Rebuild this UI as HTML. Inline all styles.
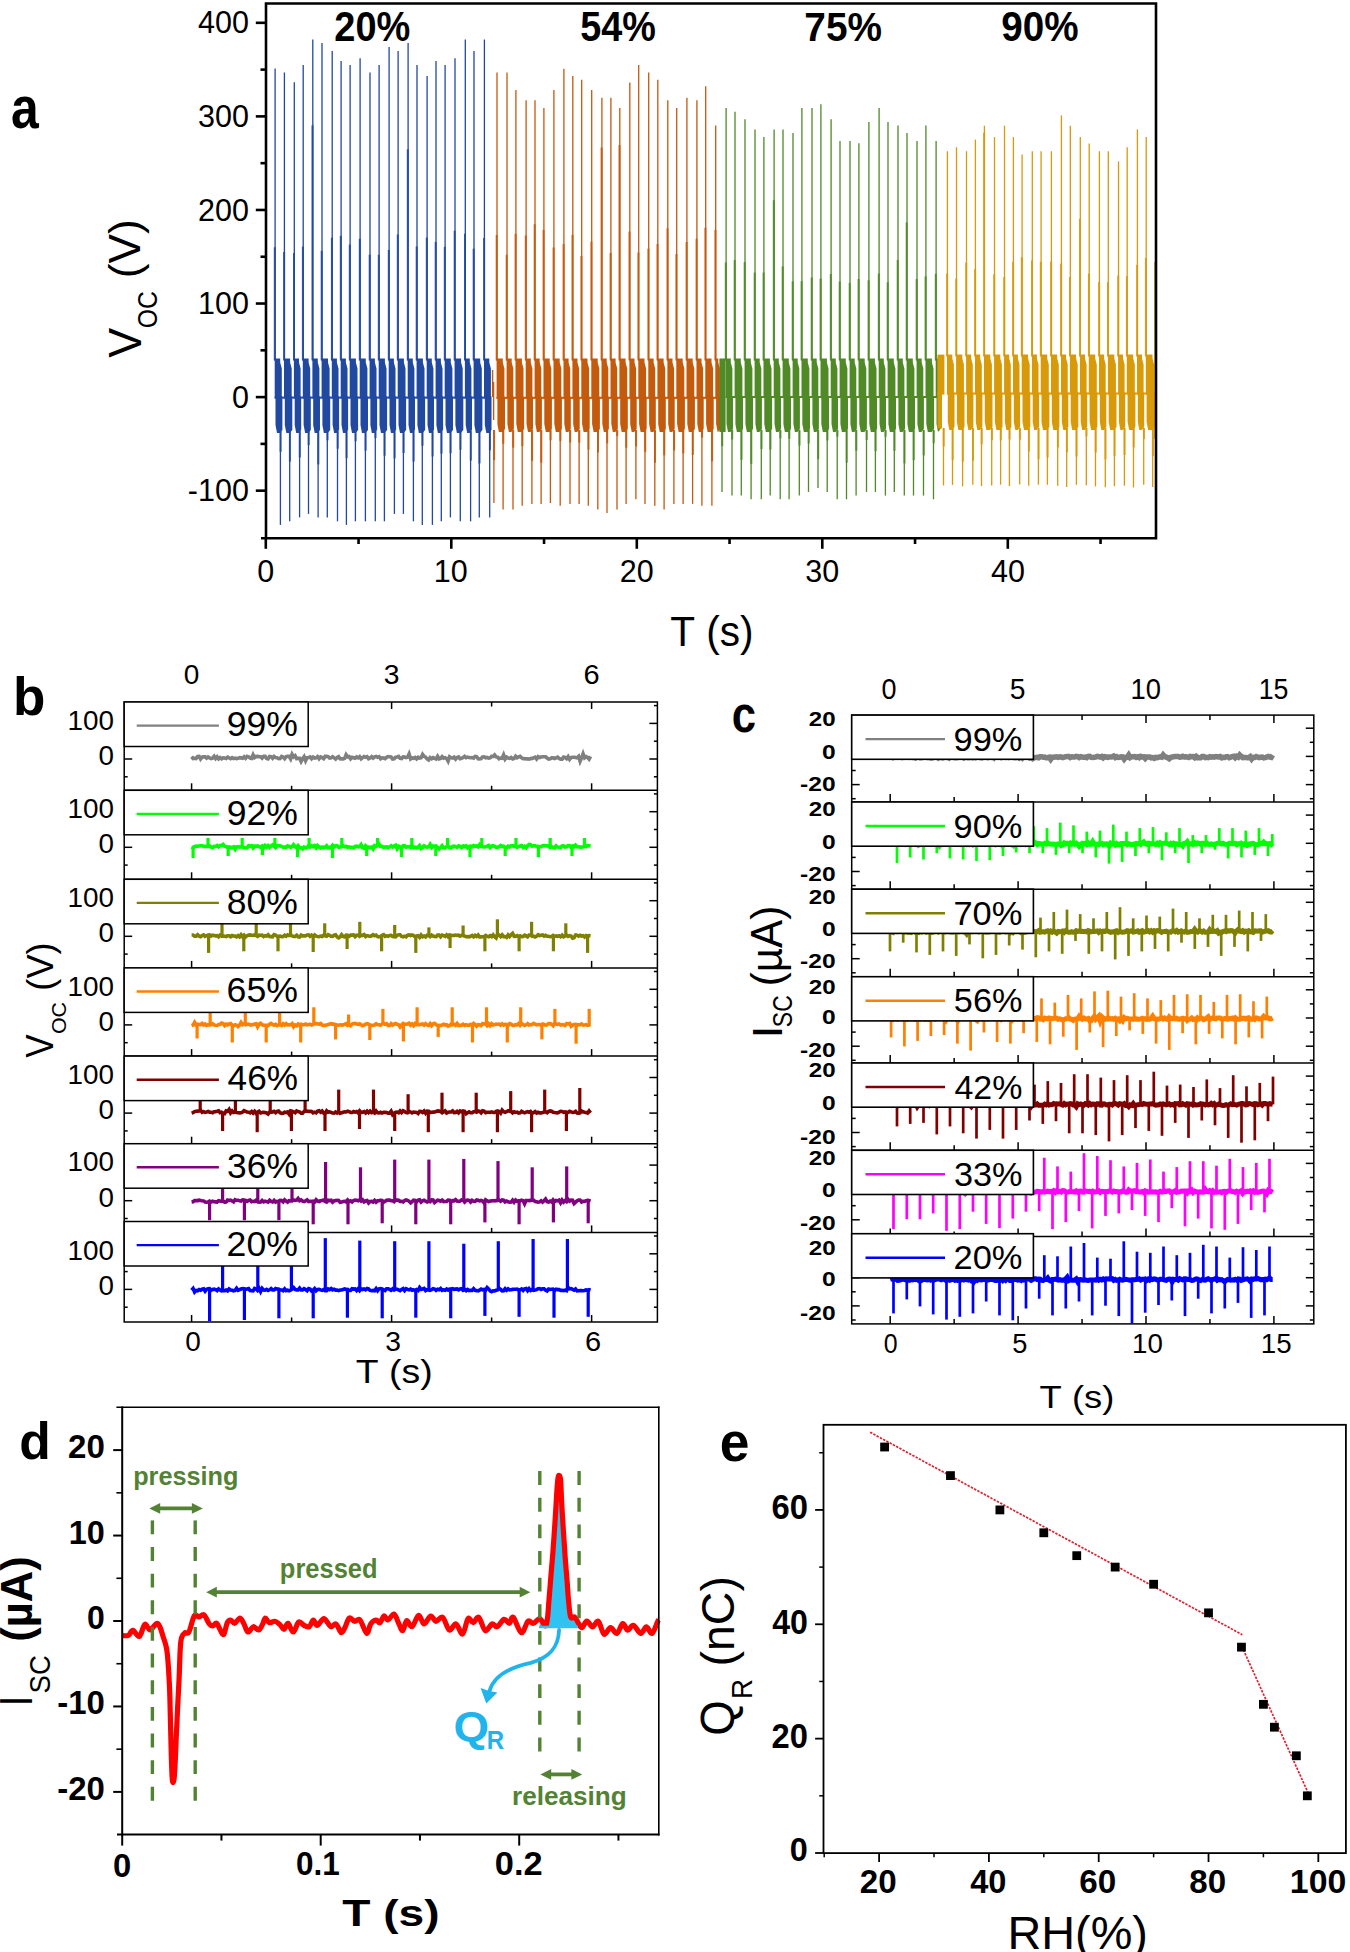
<!DOCTYPE html>
<html><head><meta charset="utf-8"><style>
html,body{margin:0;padding:0;background:#fff;}
body{width:1350px;height:1952px;overflow:hidden;}
svg{display:block;}
text{font-family:"Liberation Sans",sans-serif;font-kerning:none;}
</style></head><body>
<svg width="1350" height="1952" viewBox="0 0 1350 1952">
<rect width="1350" height="1952" fill="#fff"/>
<g fill="#2149a0">
<path d="M274.70 358.50 L280.20 358.50 L280.20 362.50 L281.80 368.50 L281.80 398.60 L274.70 398.60 Z"/>
<path d="M275.50 396.60 L282.40 396.60 L282.40 430.00 L279.90 433.00 L277.00 433.00 L275.50 425.00 Z"/>
<path d="M284.00 358.50 L290.10 358.50 L290.10 362.50 L291.70 368.50 L291.70 398.60 L284.00 398.60 Z"/>
<path d="M284.80 396.60 L292.30 396.60 L292.30 430.00 L289.80 433.00 L286.30 433.00 L284.80 425.00 Z"/>
<path d="M293.90 358.50 L299.00 358.50 L299.00 362.50 L300.60 368.50 L300.60 398.60 L293.90 398.60 Z"/>
<path d="M294.70 396.60 L301.20 396.60 L301.20 430.00 L298.70 433.00 L296.20 433.00 L294.70 425.00 Z"/>
<path d="M302.80 358.50 L308.60 358.50 L308.60 362.50 L310.20 368.50 L310.20 398.60 L302.80 398.60 Z"/>
<path d="M303.60 396.60 L310.80 396.60 L310.80 430.00 L308.30 433.00 L305.10 433.00 L303.60 425.00 Z"/>
<path d="M312.40 358.50 L317.80 358.50 L317.80 362.50 L319.40 368.50 L319.40 398.60 L312.40 398.60 Z"/>
<path d="M313.20 396.60 L320.00 396.60 L320.00 430.00 L317.50 433.00 L314.70 433.00 L313.20 425.00 Z"/>
<path d="M321.60 358.50 L328.00 358.50 L328.00 362.50 L329.60 368.50 L329.60 398.60 L321.60 398.60 Z"/>
<path d="M322.40 396.60 L330.20 396.60 L330.20 430.00 L327.70 433.00 L323.90 433.00 L322.40 425.00 Z"/>
<path d="M331.80 358.50 L336.90 358.50 L336.90 362.50 L338.50 368.50 L338.50 398.60 L331.80 398.60 Z"/>
<path d="M332.60 396.60 L339.10 396.60 L339.10 430.00 L336.60 433.00 L334.10 433.00 L332.60 425.00 Z"/>
<path d="M340.70 358.50 L345.90 358.50 L345.90 362.50 L347.50 368.50 L347.50 398.60 L340.70 398.60 Z"/>
<path d="M341.50 396.60 L348.10 396.60 L348.10 430.00 L345.60 433.00 L343.00 433.00 L341.50 425.00 Z"/>
<path d="M349.70 358.50 L355.90 358.50 L355.90 362.50 L357.50 368.50 L357.50 398.60 L349.70 398.60 Z"/>
<path d="M350.50 396.60 L358.10 396.60 L358.10 430.00 L355.60 433.00 L352.00 433.00 L350.50 425.00 Z"/>
<path d="M359.70 358.50 L365.80 358.50 L365.80 362.50 L367.40 368.50 L367.40 398.60 L359.70 398.60 Z"/>
<path d="M360.50 396.60 L368.00 396.60 L368.00 430.00 L365.50 433.00 L362.00 433.00 L360.50 425.00 Z"/>
<path d="M369.60 358.50 L374.90 358.50 L374.90 362.50 L376.50 368.50 L376.50 398.60 L369.60 398.60 Z"/>
<path d="M370.40 396.60 L377.10 396.60 L377.10 430.00 L374.60 433.00 L371.90 433.00 L370.40 425.00 Z"/>
<path d="M378.70 358.50 L384.90 358.50 L384.90 362.50 L386.50 368.50 L386.50 398.60 L378.70 398.60 Z"/>
<path d="M379.50 396.60 L387.10 396.60 L387.10 430.00 L384.60 433.00 L381.00 433.00 L379.50 425.00 Z"/>
<path d="M388.70 358.50 L393.90 358.50 L393.90 362.50 L395.50 368.50 L395.50 398.60 L388.70 398.60 Z"/>
<path d="M389.50 396.60 L396.10 396.60 L396.10 430.00 L393.60 433.00 L391.00 433.00 L389.50 425.00 Z"/>
<path d="M397.70 358.50 L403.90 358.50 L403.90 362.50 L405.50 368.50 L405.50 398.60 L397.70 398.60 Z"/>
<path d="M398.50 396.60 L406.10 396.60 L406.10 430.00 L403.60 433.00 L400.00 433.00 L398.50 425.00 Z"/>
<path d="M407.70 358.50 L412.80 358.50 L412.80 362.50 L414.40 368.50 L414.40 398.60 L407.70 398.60 Z"/>
<path d="M408.50 396.60 L415.00 396.60 L415.00 430.00 L412.50 433.00 L410.00 433.00 L408.50 425.00 Z"/>
<path d="M416.60 358.50 L422.90 358.50 L422.90 362.50 L424.50 368.50 L424.50 398.60 L416.60 398.60 Z"/>
<path d="M417.40 396.60 L425.10 396.60 L425.10 430.00 L422.60 433.00 L418.90 433.00 L417.40 425.00 Z"/>
<path d="M426.70 358.50 L431.80 358.50 L431.80 362.50 L433.40 368.50 L433.40 398.60 L426.70 398.60 Z"/>
<path d="M427.50 396.60 L434.00 396.60 L434.00 430.00 L431.50 433.00 L429.00 433.00 L427.50 425.00 Z"/>
<path d="M435.60 358.50 L440.90 358.50 L440.90 362.50 L442.50 368.50 L442.50 398.60 L435.60 398.60 Z"/>
<path d="M436.40 396.60 L443.10 396.60 L443.10 430.00 L440.60 433.00 L437.90 433.00 L436.40 425.00 Z"/>
<path d="M444.70 358.50 L450.80 358.50 L450.80 362.50 L452.40 368.50 L452.40 398.60 L444.70 398.60 Z"/>
<path d="M445.50 396.60 L453.00 396.60 L453.00 430.00 L450.50 433.00 L447.00 433.00 L445.50 425.00 Z"/>
<path d="M454.60 358.50 L461.10 358.50 L461.10 362.50 L462.70 368.50 L462.70 398.60 L454.60 398.60 Z"/>
<path d="M455.40 396.60 L463.30 396.60 L463.30 430.00 L460.80 433.00 L456.90 433.00 L455.40 425.00 Z"/>
<path d="M464.90 358.50 L469.80 358.50 L469.80 362.50 L471.40 368.50 L471.40 398.60 L464.90 398.60 Z"/>
<path d="M465.70 396.60 L472.00 396.60 L472.00 430.00 L469.50 433.00 L467.20 433.00 L465.70 425.00 Z"/>
<path d="M473.60 358.50 L480.20 358.50 L480.20 362.50 L481.80 368.50 L481.80 398.60 L473.60 398.60 Z"/>
<path d="M474.40 396.60 L482.40 396.60 L482.40 430.00 L479.90 433.00 L475.90 433.00 L474.40 425.00 Z"/>
<path d="M484.00 358.50 L489.30 358.50 L489.30 362.50 L490.90 368.50 L490.90 398.60 L484.00 398.60 Z"/>
<path d="M484.80 396.60 L491.50 396.60 L491.50 430.00 L489.00 433.00 L486.30 433.00 L484.80 425.00 Z"/>
<rect x="274.60" y="396.60" width="215.90" height="2"/>
</g>
<g stroke="#2149a0" stroke-width="1.3">
<line x1="275.10" y1="68.40" x2="275.10" y2="360.50"/>
<line x1="284.40" y1="72.40" x2="284.40" y2="360.50"/>
<line x1="294.30" y1="82.30" x2="294.30" y2="360.50"/>
<line x1="303.20" y1="64.90" x2="303.20" y2="360.50"/>
<line x1="312.80" y1="39.50" x2="312.80" y2="360.50"/>
<line x1="322.00" y1="43.00" x2="322.00" y2="360.50"/>
<line x1="332.20" y1="51.00" x2="332.20" y2="360.50"/>
<line x1="341.10" y1="61.00" x2="341.10" y2="360.50"/>
<line x1="350.10" y1="64.90" x2="350.10" y2="360.50"/>
<line x1="360.10" y1="58.30" x2="360.10" y2="360.50"/>
<line x1="370.00" y1="72.40" x2="370.00" y2="360.50"/>
<line x1="379.10" y1="64.90" x2="379.10" y2="360.50"/>
<line x1="389.10" y1="47.10" x2="389.10" y2="360.50"/>
<line x1="398.10" y1="51.00" x2="398.10" y2="360.50"/>
<line x1="408.10" y1="43.00" x2="408.10" y2="360.50"/>
<line x1="417.00" y1="64.90" x2="417.00" y2="360.50"/>
<line x1="427.10" y1="76.10" x2="427.10" y2="360.50"/>
<line x1="436.00" y1="61.00" x2="436.00" y2="360.50"/>
<line x1="445.10" y1="64.90" x2="445.10" y2="360.50"/>
<line x1="455.00" y1="58.30" x2="455.00" y2="360.50"/>
<line x1="465.30" y1="39.50" x2="465.30" y2="360.50"/>
<line x1="474.00" y1="51.00" x2="474.00" y2="360.50"/>
<line x1="484.40" y1="39.50" x2="484.40" y2="360.50"/>
<line x1="280.40" y1="431.00" x2="280.40" y2="524.90"/>
<line x1="289.70" y1="431.00" x2="289.70" y2="521.30"/>
<line x1="299.60" y1="431.00" x2="299.60" y2="517.40"/>
<line x1="308.50" y1="431.00" x2="308.50" y2="513.90"/>
<line x1="318.10" y1="431.00" x2="318.10" y2="517.40"/>
<line x1="327.30" y1="431.00" x2="327.30" y2="517.40"/>
<line x1="337.50" y1="431.00" x2="337.50" y2="521.30"/>
<line x1="346.40" y1="431.00" x2="346.40" y2="524.90"/>
<line x1="355.40" y1="431.00" x2="355.40" y2="521.30"/>
<line x1="365.40" y1="431.00" x2="365.40" y2="521.30"/>
<line x1="375.30" y1="431.00" x2="375.30" y2="521.30"/>
<line x1="384.40" y1="431.00" x2="384.40" y2="521.30"/>
<line x1="394.40" y1="431.00" x2="394.40" y2="513.90"/>
<line x1="403.40" y1="431.00" x2="403.40" y2="513.90"/>
<line x1="413.40" y1="431.00" x2="413.40" y2="521.30"/>
<line x1="422.30" y1="431.00" x2="422.30" y2="524.90"/>
<line x1="432.40" y1="431.00" x2="432.40" y2="524.90"/>
<line x1="441.30" y1="431.00" x2="441.30" y2="521.30"/>
<line x1="450.40" y1="431.00" x2="450.40" y2="517.40"/>
<line x1="460.30" y1="431.00" x2="460.30" y2="521.30"/>
<line x1="470.60" y1="431.00" x2="470.60" y2="521.30"/>
<line x1="479.30" y1="431.00" x2="479.30" y2="517.40"/>
<line x1="489.70" y1="431.00" x2="489.70" y2="517.40"/>
</g>
<g stroke="#2149a0" stroke-width="2.0" opacity="0.9">
<line x1="274.80" y1="247.26" x2="274.80" y2="360.50"/>
<line x1="284.10" y1="252.02" x2="284.10" y2="360.50"/>
<line x1="294.00" y1="252.89" x2="294.00" y2="360.50"/>
<line x1="302.90" y1="246.64" x2="302.90" y2="360.50"/>
<line x1="312.50" y1="125.30" x2="312.50" y2="360.50"/>
<line x1="321.70" y1="250.83" x2="321.70" y2="360.50"/>
<line x1="331.90" y1="237.70" x2="331.90" y2="360.50"/>
<line x1="340.80" y1="235.82" x2="340.80" y2="360.50"/>
<line x1="349.80" y1="244.55" x2="349.80" y2="360.50"/>
<line x1="359.80" y1="238.81" x2="359.80" y2="360.50"/>
<line x1="369.70" y1="254.69" x2="369.70" y2="360.50"/>
<line x1="378.80" y1="254.79" x2="378.80" y2="360.50"/>
<line x1="388.80" y1="250.00" x2="388.80" y2="360.50"/>
<line x1="397.80" y1="234.46" x2="397.80" y2="360.50"/>
<line x1="407.80" y1="149.30" x2="407.80" y2="360.50"/>
<line x1="416.70" y1="246.46" x2="416.70" y2="360.50"/>
<line x1="426.80" y1="237.57" x2="426.80" y2="360.50"/>
<line x1="435.70" y1="241.90" x2="435.70" y2="360.50"/>
<line x1="444.80" y1="246.93" x2="444.80" y2="360.50"/>
<line x1="454.70" y1="230.73" x2="454.70" y2="360.50"/>
<line x1="465.00" y1="233.85" x2="465.00" y2="360.50"/>
<line x1="473.70" y1="248.75" x2="473.70" y2="360.50"/>
<line x1="484.10" y1="237.93" x2="484.10" y2="360.50"/>
<line x1="280.60" y1="431.00" x2="280.60" y2="451.71"/>
<line x1="289.90" y1="431.00" x2="289.90" y2="461.50"/>
<line x1="299.80" y1="431.00" x2="299.80" y2="457.42"/>
<line x1="308.70" y1="431.00" x2="308.70" y2="445.06"/>
<line x1="318.30" y1="431.00" x2="318.30" y2="464.44"/>
<line x1="327.50" y1="431.00" x2="327.50" y2="440.31"/>
<line x1="337.70" y1="431.00" x2="337.70" y2="448.71"/>
<line x1="346.60" y1="431.00" x2="346.60" y2="458.20"/>
<line x1="355.60" y1="431.00" x2="355.60" y2="441.26"/>
<line x1="365.60" y1="431.00" x2="365.60" y2="450.69"/>
<line x1="375.50" y1="431.00" x2="375.50" y2="438.10"/>
<line x1="384.60" y1="431.00" x2="384.60" y2="455.71"/>
<line x1="394.60" y1="431.00" x2="394.60" y2="458.41"/>
<line x1="403.60" y1="431.00" x2="403.60" y2="453.04"/>
<line x1="413.60" y1="431.00" x2="413.60" y2="461.51"/>
<line x1="422.50" y1="431.00" x2="422.50" y2="445.78"/>
<line x1="432.60" y1="431.00" x2="432.60" y2="456.47"/>
<line x1="441.50" y1="431.00" x2="441.50" y2="453.64"/>
<line x1="450.60" y1="431.00" x2="450.60" y2="453.24"/>
<line x1="460.50" y1="431.00" x2="460.50" y2="449.77"/>
<line x1="470.80" y1="431.00" x2="470.80" y2="460.52"/>
<line x1="479.50" y1="431.00" x2="479.50" y2="463.45"/>
<line x1="489.90" y1="431.00" x2="489.90" y2="450.27"/>
</g>
<g fill="#c45a0c">
<path d="M496.60 358.50 L502.80 358.50 L502.80 362.50 L504.40 368.50 L504.40 398.80 L496.60 398.80 Z"/>
<path d="M497.40 396.80 L505.00 396.80 L505.00 429.00 L502.50 432.00 L498.90 432.00 L497.40 424.00 Z"/>
<path d="M506.60 358.50 L511.70 358.50 L511.70 362.50 L513.30 368.50 L513.30 398.80 L506.60 398.80 Z"/>
<path d="M507.40 396.80 L513.90 396.80 L513.90 429.00 L511.40 432.00 L508.90 432.00 L507.40 424.00 Z"/>
<path d="M515.50 358.50 L521.90 358.50 L521.90 362.50 L523.50 368.50 L523.50 398.80 L515.50 398.80 Z"/>
<path d="M516.30 396.80 L524.10 396.80 L524.10 429.00 L521.60 432.00 L517.80 432.00 L516.30 424.00 Z"/>
<path d="M525.70 358.50 L530.80 358.50 L530.80 362.50 L532.40 368.50 L532.40 398.80 L525.70 398.80 Z"/>
<path d="M526.50 396.80 L533.00 396.80 L533.00 429.00 L530.50 432.00 L528.00 432.00 L526.50 424.00 Z"/>
<path d="M534.60 358.50 L539.70 358.50 L539.70 362.50 L541.30 368.50 L541.30 398.80 L534.60 398.80 Z"/>
<path d="M535.40 396.80 L541.90 396.80 L541.90 429.00 L539.40 432.00 L536.90 432.00 L535.40 424.00 Z"/>
<path d="M543.50 358.50 L549.70 358.50 L549.70 362.50 L551.30 368.50 L551.30 398.80 L543.50 398.80 Z"/>
<path d="M544.30 396.80 L551.90 396.80 L551.90 429.00 L549.40 432.00 L545.80 432.00 L544.30 424.00 Z"/>
<path d="M553.50 358.50 L559.70 358.50 L559.70 362.50 L561.30 368.50 L561.30 398.80 L553.50 398.80 Z"/>
<path d="M554.30 396.80 L561.90 396.80 L561.90 429.00 L559.40 432.00 L555.80 432.00 L554.30 424.00 Z"/>
<path d="M563.50 358.50 L568.60 358.50 L568.60 362.50 L570.20 368.50 L570.20 398.80 L563.50 398.80 Z"/>
<path d="M564.30 396.80 L570.80 396.80 L570.80 429.00 L568.30 432.00 L565.80 432.00 L564.30 424.00 Z"/>
<path d="M572.40 358.50 L577.50 358.50 L577.50 362.50 L579.10 368.50 L579.10 398.80 L572.40 398.80 Z"/>
<path d="M573.20 396.80 L579.70 396.80 L579.70 429.00 L577.20 432.00 L574.70 432.00 L573.20 424.00 Z"/>
<path d="M581.30 358.50 L587.50 358.50 L587.50 362.50 L589.10 368.50 L589.10 398.80 L581.30 398.80 Z"/>
<path d="M582.10 396.80 L589.70 396.80 L589.70 429.00 L587.20 432.00 L583.60 432.00 L582.10 424.00 Z"/>
<path d="M591.30 358.50 L597.70 358.50 L597.70 362.50 L599.30 368.50 L599.30 398.80 L591.30 398.80 Z"/>
<path d="M592.10 396.80 L599.90 396.80 L599.90 429.00 L597.40 432.00 L593.60 432.00 L592.10 424.00 Z"/>
<path d="M601.50 358.50 L606.70 358.50 L606.70 362.50 L608.30 368.50 L608.30 398.80 L601.50 398.80 Z"/>
<path d="M602.30 396.80 L608.90 396.80 L608.90 429.00 L606.40 432.00 L603.80 432.00 L602.30 424.00 Z"/>
<path d="M610.50 358.50 L615.60 358.50 L615.60 362.50 L617.20 368.50 L617.20 398.80 L610.50 398.80 Z"/>
<path d="M611.30 396.80 L617.80 396.80 L617.80 429.00 L615.30 432.00 L612.80 432.00 L611.30 424.00 Z"/>
<path d="M619.40 358.50 L625.60 358.50 L625.60 362.50 L627.20 368.50 L627.20 398.80 L619.40 398.80 Z"/>
<path d="M620.20 396.80 L627.80 396.80 L627.80 429.00 L625.30 432.00 L621.70 432.00 L620.20 424.00 Z"/>
<path d="M629.40 358.50 L634.50 358.50 L634.50 362.50 L636.10 368.50 L636.10 398.80 L629.40 398.80 Z"/>
<path d="M630.20 396.80 L636.70 396.80 L636.70 429.00 L634.20 432.00 L631.70 432.00 L630.20 424.00 Z"/>
<path d="M638.30 358.50 L644.50 358.50 L644.50 362.50 L646.10 368.50 L646.10 398.80 L638.30 398.80 Z"/>
<path d="M639.10 396.80 L646.70 396.80 L646.70 429.00 L644.20 432.00 L640.60 432.00 L639.10 424.00 Z"/>
<path d="M648.30 358.50 L653.60 358.50 L653.60 362.50 L655.20 368.50 L655.20 398.80 L648.30 398.80 Z"/>
<path d="M649.10 396.80 L655.80 396.80 L655.80 429.00 L653.30 432.00 L650.60 432.00 L649.10 424.00 Z"/>
<path d="M657.40 358.50 L663.60 358.50 L663.60 362.50 L665.20 368.50 L665.20 398.80 L657.40 398.80 Z"/>
<path d="M658.20 396.80 L665.80 396.80 L665.80 429.00 L663.30 432.00 L659.70 432.00 L658.20 424.00 Z"/>
<path d="M667.40 358.50 L672.50 358.50 L672.50 362.50 L674.10 368.50 L674.10 398.80 L667.40 398.80 Z"/>
<path d="M668.20 396.80 L674.70 396.80 L674.70 429.00 L672.20 432.00 L669.70 432.00 L668.20 424.00 Z"/>
<path d="M676.30 358.50 L682.70 358.50 L682.70 362.50 L684.30 368.50 L684.30 398.80 L676.30 398.80 Z"/>
<path d="M677.10 396.80 L684.90 396.80 L684.90 429.00 L682.40 432.00 L678.60 432.00 L677.10 424.00 Z"/>
<path d="M686.50 358.50 L692.70 358.50 L692.70 362.50 L694.30 368.50 L694.30 398.80 L686.50 398.80 Z"/>
<path d="M687.30 396.80 L694.90 396.80 L694.90 429.00 L692.40 432.00 L688.80 432.00 L687.30 424.00 Z"/>
<path d="M696.50 358.50 L701.50 358.50 L701.50 362.50 L703.10 368.50 L703.10 398.80 L696.50 398.80 Z"/>
<path d="M697.30 396.80 L703.70 396.80 L703.70 429.00 L701.20 432.00 L698.80 432.00 L697.30 424.00 Z"/>
<path d="M705.30 358.50 L711.50 358.50 L711.50 362.50 L713.10 368.50 L713.10 398.80 L705.30 398.80 Z"/>
<path d="M706.10 396.80 L713.70 396.80 L713.70 429.00 L711.20 432.00 L707.60 432.00 L706.10 424.00 Z"/>
<path d="M715.30 358.50 L718.30 358.50 L718.30 362.50 L719.90 368.50 L719.90 398.80 L715.30 398.80 Z"/>
<path d="M716.10 396.80 L720.50 396.80 L720.50 429.00 L718.00 432.00 L717.60 432.00 L716.10 424.00 Z"/>
<rect x="496.50" y="396.80" width="223.00" height="2"/>
</g>
<g stroke="#c45a0c" stroke-width="1.3">
<line x1="497.00" y1="72.40" x2="497.00" y2="360.50"/>
<line x1="507.00" y1="72.40" x2="507.00" y2="360.50"/>
<line x1="515.90" y1="90.00" x2="515.90" y2="360.50"/>
<line x1="526.10" y1="100.20" x2="526.10" y2="360.50"/>
<line x1="535.00" y1="100.20" x2="535.00" y2="360.50"/>
<line x1="543.90" y1="108.00" x2="543.90" y2="360.50"/>
<line x1="553.90" y1="90.00" x2="553.90" y2="360.50"/>
<line x1="563.90" y1="68.70" x2="563.90" y2="360.50"/>
<line x1="572.80" y1="76.10" x2="572.80" y2="360.50"/>
<line x1="581.70" y1="79.80" x2="581.70" y2="360.50"/>
<line x1="591.70" y1="90.00" x2="591.70" y2="360.50"/>
<line x1="601.90" y1="97.80" x2="601.90" y2="360.50"/>
<line x1="610.90" y1="97.80" x2="610.90" y2="360.50"/>
<line x1="619.80" y1="108.00" x2="619.80" y2="360.50"/>
<line x1="629.80" y1="82.60" x2="629.80" y2="360.50"/>
<line x1="638.70" y1="65.00" x2="638.70" y2="360.50"/>
<line x1="648.70" y1="72.40" x2="648.70" y2="360.50"/>
<line x1="657.80" y1="79.80" x2="657.80" y2="360.50"/>
<line x1="667.80" y1="100.20" x2="667.80" y2="360.50"/>
<line x1="676.70" y1="108.00" x2="676.70" y2="360.50"/>
<line x1="686.90" y1="97.80" x2="686.90" y2="360.50"/>
<line x1="696.90" y1="100.20" x2="696.90" y2="360.50"/>
<line x1="705.70" y1="86.30" x2="705.70" y2="360.50"/>
<line x1="715.70" y1="125.60" x2="715.70" y2="360.50"/>
<line x1="493.90" y1="430.00" x2="493.90" y2="503.00"/>
<line x1="503.10" y1="430.00" x2="503.10" y2="509.40"/>
<line x1="513.00" y1="430.00" x2="513.00" y2="509.40"/>
<line x1="522.20" y1="430.00" x2="522.20" y2="505.70"/>
<line x1="531.90" y1="430.00" x2="531.90" y2="503.90"/>
<line x1="541.10" y1="430.00" x2="541.10" y2="503.90"/>
<line x1="550.40" y1="430.00" x2="550.40" y2="503.00"/>
<line x1="560.20" y1="430.00" x2="560.20" y2="505.70"/>
<line x1="570.00" y1="430.00" x2="570.00" y2="503.90"/>
<line x1="579.10" y1="430.00" x2="579.10" y2="503.90"/>
<line x1="588.30" y1="430.00" x2="588.30" y2="505.70"/>
<line x1="597.80" y1="430.00" x2="597.80" y2="509.40"/>
<line x1="607.00" y1="430.00" x2="607.00" y2="513.10"/>
<line x1="617.00" y1="430.00" x2="617.00" y2="509.40"/>
<line x1="626.10" y1="430.00" x2="626.10" y2="503.90"/>
<line x1="635.90" y1="430.00" x2="635.90" y2="499.30"/>
<line x1="645.00" y1="430.00" x2="645.00" y2="503.90"/>
<line x1="654.80" y1="430.00" x2="654.80" y2="505.70"/>
<line x1="664.10" y1="430.00" x2="664.10" y2="509.40"/>
<line x1="673.90" y1="430.00" x2="673.90" y2="503.90"/>
<line x1="683.10" y1="430.00" x2="683.10" y2="503.90"/>
<line x1="692.60" y1="430.00" x2="692.60" y2="503.90"/>
<line x1="701.90" y1="430.00" x2="701.90" y2="505.70"/>
<line x1="711.90" y1="430.00" x2="711.90" y2="505.70"/>
</g>
<g stroke="#c45a0c" stroke-width="2.0" opacity="0.9">
<line x1="496.70" y1="234.99" x2="496.70" y2="360.50"/>
<line x1="506.70" y1="254.76" x2="506.70" y2="360.50"/>
<line x1="515.60" y1="233.77" x2="515.60" y2="360.50"/>
<line x1="525.80" y1="235.55" x2="525.80" y2="360.50"/>
<line x1="534.70" y1="224.22" x2="534.70" y2="360.50"/>
<line x1="543.60" y1="229.83" x2="543.60" y2="360.50"/>
<line x1="553.60" y1="247.42" x2="553.60" y2="360.50"/>
<line x1="563.60" y1="244.11" x2="563.60" y2="360.50"/>
<line x1="572.50" y1="234.85" x2="572.50" y2="360.50"/>
<line x1="581.40" y1="256.01" x2="581.40" y2="360.50"/>
<line x1="591.40" y1="241.62" x2="591.40" y2="360.50"/>
<line x1="601.60" y1="147.50" x2="601.60" y2="360.50"/>
<line x1="610.60" y1="252.91" x2="610.60" y2="360.50"/>
<line x1="619.50" y1="145.00" x2="619.50" y2="360.50"/>
<line x1="629.50" y1="231.59" x2="629.50" y2="360.50"/>
<line x1="638.40" y1="252.51" x2="638.40" y2="360.50"/>
<line x1="648.40" y1="248.64" x2="648.40" y2="360.50"/>
<line x1="657.50" y1="243.94" x2="657.50" y2="360.50"/>
<line x1="667.50" y1="228.21" x2="667.50" y2="360.50"/>
<line x1="676.40" y1="254.11" x2="676.40" y2="360.50"/>
<line x1="686.60" y1="242.03" x2="686.60" y2="360.50"/>
<line x1="696.60" y1="238.75" x2="696.60" y2="360.50"/>
<line x1="705.40" y1="227.81" x2="705.40" y2="360.50"/>
<line x1="715.40" y1="229.91" x2="715.40" y2="360.50"/>
<line x1="494.10" y1="430.00" x2="494.10" y2="460.19"/>
<line x1="503.30" y1="430.00" x2="503.30" y2="443.80"/>
<line x1="513.20" y1="430.00" x2="513.20" y2="447.63"/>
<line x1="522.40" y1="430.00" x2="522.40" y2="446.05"/>
<line x1="532.10" y1="430.00" x2="532.10" y2="460.76"/>
<line x1="541.30" y1="430.00" x2="541.30" y2="462.82"/>
<line x1="550.60" y1="430.00" x2="550.60" y2="440.23"/>
<line x1="560.40" y1="430.00" x2="560.40" y2="440.93"/>
<line x1="570.20" y1="430.00" x2="570.20" y2="442.49"/>
<line x1="579.30" y1="430.00" x2="579.30" y2="442.53"/>
<line x1="588.50" y1="430.00" x2="588.50" y2="449.58"/>
<line x1="598.00" y1="430.00" x2="598.00" y2="452.50"/>
<line x1="607.20" y1="430.00" x2="607.20" y2="443.36"/>
<line x1="617.20" y1="430.00" x2="617.20" y2="436.11"/>
<line x1="626.30" y1="430.00" x2="626.30" y2="447.73"/>
<line x1="636.10" y1="430.00" x2="636.10" y2="446.34"/>
<line x1="645.20" y1="430.00" x2="645.20" y2="451.86"/>
<line x1="655.00" y1="430.00" x2="655.00" y2="462.69"/>
<line x1="664.30" y1="430.00" x2="664.30" y2="455.33"/>
<line x1="674.10" y1="430.00" x2="674.10" y2="450.43"/>
<line x1="683.30" y1="430.00" x2="683.30" y2="453.29"/>
<line x1="692.80" y1="430.00" x2="692.80" y2="454.93"/>
<line x1="702.10" y1="430.00" x2="702.10" y2="437.51"/>
<line x1="712.10" y1="430.00" x2="712.10" y2="461.19"/>
</g>
<g fill="#4f8a26">
<path d="M725.70 358.50 L730.80 358.50 L730.80 362.50 L732.40 368.50 L732.40 398.00 L725.70 398.00 Z"/>
<path d="M726.50 396.00 L733.00 396.00 L733.00 429.00 L730.50 432.00 L728.00 432.00 L726.50 424.00 Z"/>
<path d="M734.60 358.50 L740.80 358.50 L740.80 362.50 L742.40 368.50 L742.40 398.00 L734.60 398.00 Z"/>
<path d="M735.40 396.00 L743.00 396.00 L743.00 429.00 L740.50 432.00 L736.90 432.00 L735.40 424.00 Z"/>
<path d="M744.60 358.50 L750.80 358.50 L750.80 362.50 L752.40 368.50 L752.40 398.00 L744.60 398.00 Z"/>
<path d="M745.40 396.00 L753.00 396.00 L753.00 429.00 L750.50 432.00 L746.90 432.00 L745.40 424.00 Z"/>
<path d="M754.60 358.50 L759.70 358.50 L759.70 362.50 L761.30 368.50 L761.30 398.00 L754.60 398.00 Z"/>
<path d="M755.40 396.00 L761.90 396.00 L761.90 429.00 L759.40 432.00 L756.90 432.00 L755.40 424.00 Z"/>
<path d="M763.50 358.50 L769.90 358.50 L769.90 362.50 L771.50 368.50 L771.50 398.00 L763.50 398.00 Z"/>
<path d="M764.30 396.00 L772.10 396.00 L772.10 429.00 L769.60 432.00 L765.80 432.00 L764.30 424.00 Z"/>
<path d="M773.70 358.50 L778.80 358.50 L778.80 362.50 L780.40 368.50 L780.40 398.00 L773.70 398.00 Z"/>
<path d="M774.50 396.00 L781.00 396.00 L781.00 429.00 L778.50 432.00 L776.00 432.00 L774.50 424.00 Z"/>
<path d="M782.60 358.50 L788.80 358.50 L788.80 362.50 L790.40 368.50 L790.40 398.00 L782.60 398.00 Z"/>
<path d="M783.40 396.00 L791.00 396.00 L791.00 429.00 L788.50 432.00 L784.90 432.00 L783.40 424.00 Z"/>
<path d="M792.60 358.50 L797.70 358.50 L797.70 362.50 L799.30 368.50 L799.30 398.00 L792.60 398.00 Z"/>
<path d="M793.40 396.00 L799.90 396.00 L799.90 429.00 L797.40 432.00 L794.90 432.00 L793.40 424.00 Z"/>
<path d="M801.50 358.50 L807.80 358.50 L807.80 362.50 L809.40 368.50 L809.40 398.00 L801.50 398.00 Z"/>
<path d="M802.30 396.00 L810.00 396.00 L810.00 429.00 L807.50 432.00 L803.80 432.00 L802.30 424.00 Z"/>
<path d="M811.60 358.50 L816.70 358.50 L816.70 362.50 L818.30 368.50 L818.30 398.00 L811.60 398.00 Z"/>
<path d="M812.40 396.00 L818.90 396.00 L818.90 429.00 L816.40 432.00 L813.90 432.00 L812.40 424.00 Z"/>
<path d="M820.50 358.50 L826.90 358.50 L826.90 362.50 L828.50 368.50 L828.50 398.00 L820.50 398.00 Z"/>
<path d="M821.30 396.00 L829.10 396.00 L829.10 429.00 L826.60 432.00 L822.80 432.00 L821.30 424.00 Z"/>
<path d="M830.70 358.50 L835.80 358.50 L835.80 362.50 L837.40 368.50 L837.40 398.00 L830.70 398.00 Z"/>
<path d="M831.50 396.00 L838.00 396.00 L838.00 429.00 L835.50 432.00 L833.00 432.00 L831.50 424.00 Z"/>
<path d="M839.60 358.50 L845.80 358.50 L845.80 362.50 L847.40 368.50 L847.40 398.00 L839.60 398.00 Z"/>
<path d="M840.40 396.00 L848.00 396.00 L848.00 429.00 L845.50 432.00 L841.90 432.00 L840.40 424.00 Z"/>
<path d="M849.60 358.50 L854.70 358.50 L854.70 362.50 L856.30 368.50 L856.30 398.00 L849.60 398.00 Z"/>
<path d="M850.40 396.00 L856.90 396.00 L856.90 429.00 L854.40 432.00 L851.90 432.00 L850.40 424.00 Z"/>
<path d="M858.50 358.50 L864.70 358.50 L864.70 362.50 L866.30 368.50 L866.30 398.00 L858.50 398.00 Z"/>
<path d="M859.30 396.00 L866.90 396.00 L866.90 429.00 L864.40 432.00 L860.80 432.00 L859.30 424.00 Z"/>
<path d="M868.50 358.50 L874.90 358.50 L874.90 362.50 L876.50 368.50 L876.50 398.00 L868.50 398.00 Z"/>
<path d="M869.30 396.00 L877.10 396.00 L877.10 429.00 L874.60 432.00 L870.80 432.00 L869.30 424.00 Z"/>
<path d="M878.70 358.50 L883.80 358.50 L883.80 362.50 L885.40 368.50 L885.40 398.00 L878.70 398.00 Z"/>
<path d="M879.50 396.00 L886.00 396.00 L886.00 429.00 L883.50 432.00 L881.00 432.00 L879.50 424.00 Z"/>
<path d="M887.60 358.50 L893.80 358.50 L893.80 362.50 L895.40 368.50 L895.40 398.00 L887.60 398.00 Z"/>
<path d="M888.40 396.00 L896.00 396.00 L896.00 429.00 L893.50 432.00 L889.90 432.00 L888.40 424.00 Z"/>
<path d="M897.60 358.50 L902.80 358.50 L902.80 362.50 L904.40 368.50 L904.40 398.00 L897.60 398.00 Z"/>
<path d="M898.40 396.00 L905.00 396.00 L905.00 429.00 L902.50 432.00 L899.90 432.00 L898.40 424.00 Z"/>
<path d="M906.60 358.50 L912.80 358.50 L912.80 362.50 L914.40 368.50 L914.40 398.00 L906.60 398.00 Z"/>
<path d="M907.40 396.00 L915.00 396.00 L915.00 429.00 L912.50 432.00 L908.90 432.00 L907.40 424.00 Z"/>
<path d="M916.60 358.50 L921.70 358.50 L921.70 362.50 L923.30 368.50 L923.30 398.00 L916.60 398.00 Z"/>
<path d="M917.40 396.00 L923.90 396.00 L923.90 429.00 L921.40 432.00 L918.90 432.00 L917.40 424.00 Z"/>
<path d="M925.50 358.50 L931.90 358.50 L931.90 362.50 L933.50 368.50 L933.50 398.00 L925.50 398.00 Z"/>
<path d="M926.30 396.00 L934.10 396.00 L934.10 429.00 L931.60 432.00 L927.80 432.00 L926.30 424.00 Z"/>
<path d="M935.70 358.50 L938.30 358.50 L938.30 362.50 L939.90 368.50 L939.90 398.00 L935.70 398.00 Z"/>
<path d="M936.50 396.00 L940.50 396.00 L940.50 429.00 L938.00 432.00 L938.00 432.00 L936.50 424.00 Z"/>
<rect x="725.60" y="396.00" width="213.90" height="2"/>
</g>
<g stroke="#4f8a26" stroke-width="1.3">
<line x1="726.10" y1="108.00" x2="726.10" y2="360.50"/>
<line x1="735.00" y1="111.70" x2="735.00" y2="360.50"/>
<line x1="745.00" y1="119.30" x2="745.00" y2="360.50"/>
<line x1="755.00" y1="129.40" x2="755.00" y2="360.50"/>
<line x1="763.90" y1="136.90" x2="763.90" y2="360.50"/>
<line x1="774.10" y1="129.40" x2="774.10" y2="360.50"/>
<line x1="783.00" y1="129.40" x2="783.00" y2="360.50"/>
<line x1="793.00" y1="133.10" x2="793.00" y2="360.50"/>
<line x1="801.90" y1="108.00" x2="801.90" y2="360.50"/>
<line x1="812.00" y1="108.00" x2="812.00" y2="360.50"/>
<line x1="820.90" y1="104.30" x2="820.90" y2="360.50"/>
<line x1="831.10" y1="119.30" x2="831.10" y2="360.50"/>
<line x1="840.00" y1="140.90" x2="840.00" y2="360.50"/>
<line x1="850.00" y1="140.90" x2="850.00" y2="360.50"/>
<line x1="858.90" y1="143.30" x2="858.90" y2="360.50"/>
<line x1="868.90" y1="121.90" x2="868.90" y2="360.50"/>
<line x1="879.10" y1="108.00" x2="879.10" y2="360.50"/>
<line x1="888.00" y1="121.90" x2="888.00" y2="360.50"/>
<line x1="898.00" y1="125.60" x2="898.00" y2="360.50"/>
<line x1="907.00" y1="133.10" x2="907.00" y2="360.50"/>
<line x1="917.00" y1="140.90" x2="917.00" y2="360.50"/>
<line x1="925.90" y1="125.60" x2="925.90" y2="360.50"/>
<line x1="936.10" y1="140.90" x2="936.10" y2="360.50"/>
<line x1="722.00" y1="430.00" x2="722.00" y2="491.90"/>
<line x1="732.00" y1="430.00" x2="732.00" y2="495.60"/>
<line x1="741.30" y1="430.00" x2="741.30" y2="495.60"/>
<line x1="751.10" y1="430.00" x2="751.10" y2="499.30"/>
<line x1="761.30" y1="430.00" x2="761.30" y2="499.30"/>
<line x1="770.20" y1="430.00" x2="770.20" y2="495.60"/>
<line x1="780.20" y1="430.00" x2="780.20" y2="499.30"/>
<line x1="789.10" y1="430.00" x2="789.10" y2="499.30"/>
<line x1="799.30" y1="430.00" x2="799.30" y2="495.60"/>
<line x1="808.50" y1="430.00" x2="808.50" y2="491.90"/>
<line x1="818.00" y1="430.00" x2="818.00" y2="488.10"/>
<line x1="827.20" y1="430.00" x2="827.20" y2="491.90"/>
<line x1="837.20" y1="430.00" x2="837.20" y2="499.30"/>
<line x1="846.50" y1="430.00" x2="846.50" y2="499.30"/>
<line x1="856.10" y1="430.00" x2="856.10" y2="495.60"/>
<line x1="866.50" y1="430.00" x2="866.50" y2="491.90"/>
<line x1="875.40" y1="430.00" x2="875.40" y2="491.90"/>
<line x1="885.40" y1="430.00" x2="885.40" y2="495.60"/>
<line x1="894.30" y1="430.00" x2="894.30" y2="491.90"/>
<line x1="904.30" y1="430.00" x2="904.30" y2="495.60"/>
<line x1="913.50" y1="430.00" x2="913.50" y2="495.60"/>
<line x1="923.50" y1="430.00" x2="923.50" y2="495.60"/>
<line x1="933.50" y1="430.00" x2="933.50" y2="499.30"/>
</g>
<g stroke="#4f8a26" stroke-width="2.0" opacity="0.9">
<line x1="725.80" y1="262.51" x2="725.80" y2="360.50"/>
<line x1="734.70" y1="260.03" x2="734.70" y2="360.50"/>
<line x1="744.70" y1="262.04" x2="744.70" y2="360.50"/>
<line x1="754.70" y1="272.66" x2="754.70" y2="360.50"/>
<line x1="763.60" y1="272.49" x2="763.60" y2="360.50"/>
<line x1="773.80" y1="200.20" x2="773.80" y2="360.50"/>
<line x1="782.70" y1="266.33" x2="782.70" y2="360.50"/>
<line x1="792.70" y1="281.31" x2="792.70" y2="360.50"/>
<line x1="801.60" y1="281.18" x2="801.60" y2="360.50"/>
<line x1="811.70" y1="277.48" x2="811.70" y2="360.50"/>
<line x1="820.60" y1="278.69" x2="820.60" y2="360.50"/>
<line x1="830.80" y1="274.04" x2="830.80" y2="360.50"/>
<line x1="839.70" y1="281.57" x2="839.70" y2="360.50"/>
<line x1="849.70" y1="282.94" x2="849.70" y2="360.50"/>
<line x1="858.60" y1="278.98" x2="858.60" y2="360.50"/>
<line x1="868.60" y1="280.29" x2="868.60" y2="360.50"/>
<line x1="878.80" y1="273.42" x2="878.80" y2="360.50"/>
<line x1="887.70" y1="282.28" x2="887.70" y2="360.50"/>
<line x1="897.70" y1="260.04" x2="897.70" y2="360.50"/>
<line x1="906.70" y1="222.40" x2="906.70" y2="360.50"/>
<line x1="916.70" y1="279.05" x2="916.70" y2="360.50"/>
<line x1="925.60" y1="276.34" x2="925.60" y2="360.50"/>
<line x1="935.80" y1="273.84" x2="935.80" y2="360.50"/>
<line x1="722.20" y1="430.00" x2="722.20" y2="446.20"/>
<line x1="732.20" y1="430.00" x2="732.20" y2="439.44"/>
<line x1="741.50" y1="430.00" x2="741.50" y2="459.77"/>
<line x1="751.30" y1="430.00" x2="751.30" y2="463.81"/>
<line x1="761.50" y1="430.00" x2="761.50" y2="449.05"/>
<line x1="770.40" y1="430.00" x2="770.40" y2="449.55"/>
<line x1="780.40" y1="430.00" x2="780.40" y2="438.40"/>
<line x1="789.30" y1="430.00" x2="789.30" y2="438.86"/>
<line x1="799.50" y1="430.00" x2="799.50" y2="445.59"/>
<line x1="808.70" y1="430.00" x2="808.70" y2="443.41"/>
<line x1="818.20" y1="430.00" x2="818.20" y2="459.21"/>
<line x1="827.40" y1="430.00" x2="827.40" y2="440.52"/>
<line x1="837.40" y1="430.00" x2="837.40" y2="436.65"/>
<line x1="846.70" y1="430.00" x2="846.70" y2="462.63"/>
<line x1="856.30" y1="430.00" x2="856.30" y2="450.79"/>
<line x1="866.70" y1="430.00" x2="866.70" y2="440.10"/>
<line x1="875.60" y1="430.00" x2="875.60" y2="451.21"/>
<line x1="885.60" y1="430.00" x2="885.60" y2="436.76"/>
<line x1="894.50" y1="430.00" x2="894.50" y2="450.79"/>
<line x1="904.50" y1="430.00" x2="904.50" y2="463.40"/>
<line x1="913.70" y1="430.00" x2="913.70" y2="460.17"/>
<line x1="923.70" y1="430.00" x2="923.70" y2="455.49"/>
<line x1="933.70" y1="430.00" x2="933.70" y2="443.31"/>
</g>
<g fill="#d99a0a">
<path d="M947.00 354.50 L952.30 354.50 L952.30 358.50 L953.90 364.50 L953.90 394.50 L947.00 394.50 Z"/>
<path d="M947.80 392.50 L954.50 392.50 L954.50 427.00 L952.00 430.00 L949.30 430.00 L947.80 422.00 Z"/>
<path d="M956.10 354.50 L962.30 354.50 L962.30 358.50 L963.90 364.50 L963.90 394.50 L956.10 394.50 Z"/>
<path d="M956.90 392.50 L964.50 392.50 L964.50 427.00 L962.00 430.00 L958.40 430.00 L956.90 422.00 Z"/>
<path d="M966.10 354.50 L971.20 354.50 L971.20 358.50 L972.80 364.50 L972.80 394.50 L966.10 394.50 Z"/>
<path d="M966.90 392.50 L973.40 392.50 L973.40 427.00 L970.90 430.00 L968.40 430.00 L966.90 422.00 Z"/>
<path d="M975.00 354.50 L980.20 354.50 L980.20 358.50 L981.80 364.50 L981.80 394.50 L975.00 394.50 Z"/>
<path d="M975.80 392.50 L982.40 392.50 L982.40 427.00 L979.90 430.00 L977.30 430.00 L975.80 422.00 Z"/>
<path d="M984.00 354.50 L990.30 354.50 L990.30 358.50 L991.90 364.50 L991.90 394.50 L984.00 394.50 Z"/>
<path d="M984.80 392.50 L992.50 392.50 L992.50 427.00 L990.00 430.00 L986.30 430.00 L984.80 422.00 Z"/>
<path d="M994.10 354.50 L1000.30 354.50 L1000.30 358.50 L1001.90 364.50 L1001.90 394.50 L994.10 394.50 Z"/>
<path d="M994.90 392.50 L1002.50 392.50 L1002.50 427.00 L1000.00 430.00 L996.40 430.00 L994.90 422.00 Z"/>
<path d="M1004.10 354.50 L1009.20 354.50 L1009.20 358.50 L1010.80 364.50 L1010.80 394.50 L1004.10 394.50 Z"/>
<path d="M1004.90 392.50 L1011.40 392.50 L1011.40 427.00 L1008.90 430.00 L1006.40 430.00 L1004.90 422.00 Z"/>
<path d="M1013.00 354.50 L1017.90 354.50 L1017.90 358.50 L1019.50 364.50 L1019.50 394.50 L1013.00 394.50 Z"/>
<path d="M1013.80 392.50 L1020.10 392.50 L1020.10 427.00 L1017.60 430.00 L1015.30 430.00 L1013.80 422.00 Z"/>
<path d="M1021.70 354.50 L1028.10 354.50 L1028.10 358.50 L1029.70 364.50 L1029.70 394.50 L1021.70 394.50 Z"/>
<path d="M1022.50 392.50 L1030.30 392.50 L1030.30 427.00 L1027.80 430.00 L1024.00 430.00 L1022.50 422.00 Z"/>
<path d="M1031.90 354.50 L1036.90 354.50 L1036.90 358.50 L1038.50 364.50 L1038.50 394.50 L1031.90 394.50 Z"/>
<path d="M1032.70 392.50 L1039.10 392.50 L1039.10 427.00 L1036.60 430.00 L1034.20 430.00 L1032.70 422.00 Z"/>
<path d="M1040.70 354.50 L1047.20 354.50 L1047.20 358.50 L1048.80 364.50 L1048.80 394.50 L1040.70 394.50 Z"/>
<path d="M1041.50 392.50 L1049.40 392.50 L1049.40 427.00 L1046.90 430.00 L1043.00 430.00 L1041.50 422.00 Z"/>
<path d="M1051.00 354.50 L1057.20 354.50 L1057.20 358.50 L1058.80 364.50 L1058.80 394.50 L1051.00 394.50 Z"/>
<path d="M1051.80 392.50 L1059.40 392.50 L1059.40 427.00 L1056.90 430.00 L1053.30 430.00 L1051.80 422.00 Z"/>
<path d="M1061.00 354.50 L1066.10 354.50 L1066.10 358.50 L1067.70 364.50 L1067.70 394.50 L1061.00 394.50 Z"/>
<path d="M1061.80 392.50 L1068.30 392.50 L1068.30 427.00 L1065.80 430.00 L1063.30 430.00 L1061.80 422.00 Z"/>
<path d="M1069.90 354.50 L1076.10 354.50 L1076.10 358.50 L1077.70 364.50 L1077.70 394.50 L1069.90 394.50 Z"/>
<path d="M1070.70 392.50 L1078.30 392.50 L1078.30 427.00 L1075.80 430.00 L1072.20 430.00 L1070.70 422.00 Z"/>
<path d="M1079.90 354.50 L1085.00 354.50 L1085.00 358.50 L1086.60 364.50 L1086.60 394.50 L1079.90 394.50 Z"/>
<path d="M1080.70 392.50 L1087.20 392.50 L1087.20 427.00 L1084.70 430.00 L1082.20 430.00 L1080.70 422.00 Z"/>
<path d="M1088.80 354.50 L1095.20 354.50 L1095.20 358.50 L1096.80 364.50 L1096.80 394.50 L1088.80 394.50 Z"/>
<path d="M1089.60 392.50 L1097.40 392.50 L1097.40 427.00 L1094.90 430.00 L1091.10 430.00 L1089.60 422.00 Z"/>
<path d="M1099.00 354.50 L1104.10 354.50 L1104.10 358.50 L1105.70 364.50 L1105.70 394.50 L1099.00 394.50 Z"/>
<path d="M1099.80 392.50 L1106.30 392.50 L1106.30 427.00 L1103.80 430.00 L1101.30 430.00 L1099.80 422.00 Z"/>
<path d="M1107.90 354.50 L1114.30 354.50 L1114.30 358.50 L1115.90 364.50 L1115.90 394.50 L1107.90 394.50 Z"/>
<path d="M1108.70 392.50 L1116.50 392.50 L1116.50 427.00 L1114.00 430.00 L1110.20 430.00 L1108.70 422.00 Z"/>
<path d="M1118.10 354.50 L1123.00 354.50 L1123.00 358.50 L1124.60 364.50 L1124.60 394.50 L1118.10 394.50 Z"/>
<path d="M1118.90 392.50 L1125.20 392.50 L1125.20 427.00 L1122.70 430.00 L1120.40 430.00 L1118.90 422.00 Z"/>
<path d="M1126.80 354.50 L1133.20 354.50 L1133.20 358.50 L1134.80 364.50 L1134.80 394.50 L1126.80 394.50 Z"/>
<path d="M1127.60 392.50 L1135.40 392.50 L1135.40 427.00 L1132.90 430.00 L1129.10 430.00 L1127.60 422.00 Z"/>
<path d="M1137.00 354.50 L1142.00 354.50 L1142.00 358.50 L1143.60 364.50 L1143.60 394.50 L1137.00 394.50 Z"/>
<path d="M1137.80 392.50 L1144.20 392.50 L1144.20 427.00 L1141.70 430.00 L1139.30 430.00 L1137.80 422.00 Z"/>
<path d="M1145.80 354.50 L1152.50 354.50 L1152.50 358.50 L1154.10 364.50 L1154.10 394.50 L1145.80 394.50 Z"/>
<path d="M1146.60 392.50 L1154.70 392.50 L1154.70 427.00 L1152.20 430.00 L1148.10 430.00 L1146.60 422.00 Z"/>
<rect x="946.90" y="392.50" width="208.10" height="2"/>
</g>
<g stroke="#d99a0a" stroke-width="1.3">
<line x1="947.40" y1="151.20" x2="947.40" y2="356.50"/>
<line x1="956.50" y1="147.30" x2="956.50" y2="356.50"/>
<line x1="966.50" y1="151.20" x2="966.50" y2="356.50"/>
<line x1="975.40" y1="139.60" x2="975.40" y2="356.50"/>
<line x1="984.40" y1="125.70" x2="984.40" y2="356.50"/>
<line x1="994.50" y1="137.10" x2="994.50" y2="356.50"/>
<line x1="1004.50" y1="125.70" x2="1004.50" y2="356.50"/>
<line x1="1013.40" y1="137.10" x2="1013.40" y2="356.50"/>
<line x1="1022.10" y1="154.60" x2="1022.10" y2="356.50"/>
<line x1="1032.30" y1="151.20" x2="1032.30" y2="356.50"/>
<line x1="1041.10" y1="151.20" x2="1041.10" y2="356.50"/>
<line x1="1051.40" y1="151.20" x2="1051.40" y2="356.50"/>
<line x1="1061.40" y1="115.40" x2="1061.40" y2="356.50"/>
<line x1="1070.30" y1="125.70" x2="1070.30" y2="356.50"/>
<line x1="1080.30" y1="137.10" x2="1080.30" y2="356.50"/>
<line x1="1089.20" y1="143.40" x2="1089.20" y2="356.50"/>
<line x1="1099.40" y1="151.20" x2="1099.40" y2="356.50"/>
<line x1="1108.30" y1="151.20" x2="1108.30" y2="356.50"/>
<line x1="1118.50" y1="161.40" x2="1118.50" y2="356.50"/>
<line x1="1127.20" y1="147.30" x2="1127.20" y2="356.50"/>
<line x1="1137.40" y1="129.40" x2="1137.40" y2="356.50"/>
<line x1="1146.20" y1="137.10" x2="1146.20" y2="356.50"/>
<line x1="943.50" y1="428.00" x2="943.50" y2="485.47"/>
<line x1="952.50" y1="428.00" x2="952.50" y2="484.95"/>
<line x1="962.60" y1="428.00" x2="962.60" y2="486.45"/>
<line x1="972.80" y1="428.00" x2="972.80" y2="484.72"/>
<line x1="981.50" y1="428.00" x2="981.50" y2="486.11"/>
<line x1="991.70" y1="428.00" x2="991.70" y2="485.60"/>
<line x1="1000.60" y1="428.00" x2="1000.60" y2="484.67"/>
<line x1="1009.40" y1="428.00" x2="1009.40" y2="486.02"/>
<line x1="1019.70" y1="428.00" x2="1019.70" y2="484.61"/>
<line x1="1028.70" y1="428.00" x2="1028.70" y2="485.80"/>
<line x1="1038.40" y1="428.00" x2="1038.40" y2="484.71"/>
<line x1="1047.40" y1="428.00" x2="1047.40" y2="484.77"/>
<line x1="1057.70" y1="428.00" x2="1057.70" y2="485.77"/>
<line x1="1066.70" y1="428.00" x2="1066.70" y2="486.98"/>
<line x1="1076.40" y1="428.00" x2="1076.40" y2="484.87"/>
<line x1="1086.30" y1="428.00" x2="1086.30" y2="485.17"/>
<line x1="1095.50" y1="428.00" x2="1095.50" y2="486.38"/>
<line x1="1105.30" y1="428.00" x2="1105.30" y2="487.34"/>
<line x1="1114.40" y1="428.00" x2="1114.40" y2="486.23"/>
<line x1="1124.40" y1="428.00" x2="1124.40" y2="485.69"/>
<line x1="1133.50" y1="428.00" x2="1133.50" y2="487.43"/>
<line x1="1143.70" y1="428.00" x2="1143.70" y2="484.64"/>
<line x1="1152.70" y1="428.00" x2="1152.70" y2="487.08"/>
</g>
<g stroke="#d99a0a" stroke-width="2.0" opacity="0.9">
<line x1="947.10" y1="273.34" x2="947.10" y2="356.50"/>
<line x1="956.20" y1="278.57" x2="956.20" y2="356.50"/>
<line x1="966.20" y1="262.72" x2="966.20" y2="356.50"/>
<line x1="975.10" y1="268.99" x2="975.10" y2="356.50"/>
<line x1="984.10" y1="132.80" x2="984.10" y2="356.50"/>
<line x1="994.20" y1="274.31" x2="994.20" y2="356.50"/>
<line x1="1004.20" y1="277.10" x2="1004.20" y2="356.50"/>
<line x1="1013.10" y1="261.68" x2="1013.10" y2="356.50"/>
<line x1="1021.80" y1="257.14" x2="1021.80" y2="356.50"/>
<line x1="1032.00" y1="260.61" x2="1032.00" y2="356.50"/>
<line x1="1040.80" y1="261.83" x2="1040.80" y2="356.50"/>
<line x1="1051.10" y1="261.50" x2="1051.10" y2="356.50"/>
<line x1="1061.10" y1="263.56" x2="1061.10" y2="356.50"/>
<line x1="1070.00" y1="277.00" x2="1070.00" y2="356.50"/>
<line x1="1080.00" y1="218.80" x2="1080.00" y2="356.50"/>
<line x1="1088.90" y1="273.63" x2="1088.90" y2="356.50"/>
<line x1="1099.10" y1="282.19" x2="1099.10" y2="356.50"/>
<line x1="1108.00" y1="282.21" x2="1108.00" y2="356.50"/>
<line x1="1118.20" y1="275.62" x2="1118.20" y2="356.50"/>
<line x1="1126.90" y1="276.15" x2="1126.90" y2="356.50"/>
<line x1="1137.10" y1="264.80" x2="1137.10" y2="356.50"/>
<line x1="1145.90" y1="257.88" x2="1145.90" y2="356.50"/>
<line x1="943.70" y1="428.00" x2="943.70" y2="446.52"/>
<line x1="952.70" y1="428.00" x2="952.70" y2="460.24"/>
<line x1="962.80" y1="428.00" x2="962.80" y2="461.67"/>
<line x1="973.00" y1="428.00" x2="973.00" y2="460.74"/>
<line x1="981.70" y1="428.00" x2="981.70" y2="444.21"/>
<line x1="991.90" y1="428.00" x2="991.90" y2="440.17"/>
<line x1="1000.80" y1="428.00" x2="1000.80" y2="440.35"/>
<line x1="1009.60" y1="428.00" x2="1009.60" y2="439.51"/>
<line x1="1019.90" y1="428.00" x2="1019.90" y2="439.72"/>
<line x1="1028.90" y1="428.00" x2="1028.90" y2="451.47"/>
<line x1="1038.60" y1="428.00" x2="1038.60" y2="459.21"/>
<line x1="1047.60" y1="428.00" x2="1047.60" y2="457.53"/>
<line x1="1057.90" y1="428.00" x2="1057.90" y2="447.43"/>
<line x1="1066.90" y1="428.00" x2="1066.90" y2="452.28"/>
<line x1="1076.60" y1="428.00" x2="1076.60" y2="456.39"/>
<line x1="1086.50" y1="428.00" x2="1086.50" y2="436.37"/>
<line x1="1095.70" y1="428.00" x2="1095.70" y2="452.50"/>
<line x1="1105.50" y1="428.00" x2="1105.50" y2="459.47"/>
<line x1="1114.60" y1="428.00" x2="1114.60" y2="455.90"/>
<line x1="1124.60" y1="428.00" x2="1124.60" y2="455.00"/>
<line x1="1133.70" y1="428.00" x2="1133.70" y2="447.38"/>
<line x1="1143.90" y1="428.00" x2="1143.90" y2="439.00"/>
<line x1="1152.90" y1="428.00" x2="1152.90" y2="456.10"/>
</g>
<line x1="492.60" y1="370.00" x2="492.60" y2="397.00" stroke="#c45a0c" stroke-width="1.40"/>
<line x1="493.60" y1="382.00" x2="493.60" y2="420.00" stroke="#c45a0c" stroke-width="1.40"/>
<rect x="719.40" y="358.50" width="6.20" height="73.50" fill="#4f8a26"/>
<rect x="937.40" y="354.60" width="7.00" height="40.00" fill="#d99a0a"/>
<rect x="937.40" y="392.00" width="4.60" height="36.50" fill="#d99a0a"/>
<line x1="1155.00" y1="262.00" x2="1155.00" y2="439.00" stroke="#d99a0a" stroke-width="1.50"/>
<g stroke="#000" stroke-width="2.6" fill="none">
<path d="M266 3.5 L1156 3.5 L1156 538.2 M261 538.2 L1157.3 538.2 M266 2.2 L266 539.5"/>
<line x1="255.8" y1="22.82" x2="266" y2="22.82"/>
<line x1="255.8" y1="116.39" x2="266" y2="116.39"/>
<line x1="255.8" y1="209.96" x2="266" y2="209.96"/>
<line x1="255.8" y1="303.53" x2="266" y2="303.53"/>
<line x1="255.8" y1="397.10" x2="266" y2="397.10"/>
<line x1="255.8" y1="490.67" x2="266" y2="490.67"/>
<line x1="260.5" y1="69.61" x2="266" y2="69.61"/>
<line x1="260.5" y1="163.18" x2="266" y2="163.18"/>
<line x1="260.5" y1="256.75" x2="266" y2="256.75"/>
<line x1="260.5" y1="350.32" x2="266" y2="350.32"/>
<line x1="260.5" y1="443.88" x2="266" y2="443.88"/>
<line x1="265.80" y1="538" x2="265.80" y2="548.8"/>
<line x1="451.30" y1="538" x2="451.30" y2="548.8"/>
<line x1="636.80" y1="538" x2="636.80" y2="548.8"/>
<line x1="822.30" y1="538" x2="822.30" y2="548.8"/>
<line x1="1007.80" y1="538" x2="1007.80" y2="548.8"/>
<line x1="358.55" y1="538" x2="358.55" y2="544"/>
<line x1="544.05" y1="538" x2="544.05" y2="544"/>
<line x1="729.55" y1="538" x2="729.55" y2="544"/>
<line x1="915.05" y1="538" x2="915.05" y2="544"/>
<line x1="1100.55" y1="538" x2="1100.55" y2="544"/>
</g>
<text transform="translate(198.00,33.42) scale(0.9906,1)" font-size="30.79" font-weight="normal" fill="#000">400</text>
<text transform="translate(198.00,126.99) scale(0.9906,1)" font-size="30.79" font-weight="normal" fill="#000">300</text>
<text transform="translate(198.00,220.56) scale(0.9906,1)" font-size="30.79" font-weight="normal" fill="#000">200</text>
<text transform="translate(198.00,314.13) scale(0.9906,1)" font-size="30.79" font-weight="normal" fill="#000">100</text>
<text transform="translate(231.93,407.70) scale(0.9906,1)" font-size="30.79" font-weight="normal" fill="#000">0</text>
<text transform="translate(187.85,501.27) scale(0.9906,1)" font-size="30.79" font-weight="normal" fill="#000">-100</text>
<text transform="translate(257.32,582.10) scale(0.9951,1)" font-size="30.65" font-weight="normal" fill="#000">0</text>
<text transform="translate(433.77,582.10) scale(0.9951,1)" font-size="30.65" font-weight="normal" fill="#000">10</text>
<text transform="translate(619.67,582.10) scale(0.9951,1)" font-size="30.65" font-weight="normal" fill="#000">20</text>
<text transform="translate(805.35,582.10) scale(0.9951,1)" font-size="30.65" font-weight="normal" fill="#000">30</text>
<text transform="translate(991.08,582.10) scale(0.9951,1)" font-size="30.65" font-weight="normal" fill="#000">40</text>
<text transform="translate(670.19,645.78) scale(0.9750,1)" font-size="41.65" font-weight="normal" fill="#000">T (s)</text>
<text transform="translate(10.94,128.02) scale(0.8333,1)" font-size="59.87" font-weight="bold" fill="#000">a</text>
<text transform="translate(334.28,41.39) scale(0.9054,1)" font-size="41.95" font-weight="bold" fill="#000">20%</text>
<text transform="translate(580.34,40.59) scale(0.9041,1)" font-size="41.81" font-weight="bold" fill="#000">54%</text>
<text transform="translate(804.33,41.10) scale(0.9444,1)" font-size="41.10" font-weight="bold" fill="#000">75%</text>
<text transform="translate(1001.16,41.09) scale(0.9276,1)" font-size="41.67" font-weight="bold" fill="#000">90%</text>
<text transform="translate(140.60,357.70) rotate(-90) scale(0.9606,1)" font-size="46.66" font-weight="normal" fill="#000">V</text>
<text transform="translate(156.93,328.17) rotate(-90) scale(0.8984,1)" font-size="27.54" font-weight="normal" fill="#000">OC</text>
<text transform="translate(140.31,278.14) rotate(-90) scale(1.0080,1)" font-size="43.90" font-weight="normal" fill="#000">(V)</text>
<g>
<path d="M191.6 756.7 L193.1 758.5 L194.6 758.3 L196.1 758.5 L197.6 756.5 L199.1 756.4 L200.6 759.0 L202.1 757.2 L203.6 756.9 L205.1 756.8 L206.6 758.1 L208.1 756.9 L209.6 757.9 L211.1 758.6 L212.6 758.1 L214.1 756.3 L215.6 758.5 L217.1 756.8 L218.6 758.9 L220.1 757.6 L221.6 758.8 L223.1 757.9 L224.6 758.0 L226.1 758.5 L227.6 757.1 L229.1 757.8 L230.6 758.7 L232.1 757.7 L233.6 758.6 L235.1 758.1 L236.6 758.7 L238.1 758.3 L239.6 757.7 L241.1 757.9 L242.6 758.2 L244.1 756.8 L245.6 758.3 L247.1 756.4 L248.6 756.9 L250.1 758.0 L251.6 758.4 L253.1 754.7 L254.6 757.6 L256.1 756.6 L257.6 756.4 L259.1 756.6 L260.6 756.7 L262.1 758.1 L263.6 756.4 L265.1 756.4 L266.6 758.4 L268.1 758.9 L269.6 756.4 L271.1 756.6 L272.6 758.2 L274.1 756.4 L275.6 757.6 L277.1 757.8 L278.6 758.7 L280.1 758.6 L281.6 756.5 L283.1 757.1 L284.6 758.7 L286.1 756.6 L287.6 756.4 L289.1 756.3 L290.6 758.9 L292.1 754.4 L293.6 756.9 L295.1 755.8 L296.6 758.6 L298.1 758.2 L299.6 758.3 L301.1 761.5 L302.6 758.7 L304.1 756.7 L305.6 760.7 L307.1 757.7 L308.6 757.4 L310.1 756.9 L311.6 758.7 L313.1 757.1 L314.6 758.1 L316.1 757.9 L317.6 756.6 L319.1 758.7 L320.6 756.9 L322.1 757.6 L323.6 758.7 L325.1 756.4 L326.6 756.4 L328.1 756.6 L329.6 758.1 L331.1 757.9 L332.6 756.7 L334.1 757.9 L335.6 759.0 L337.1 757.4 L338.6 756.6 L340.1 758.7 L341.6 758.9 L343.1 758.9 L344.6 758.4 L346.1 754.8 L347.6 756.9 L349.1 756.5 L350.6 758.8 L352.1 757.3 L353.6 757.7 L355.1 758.2 L356.6 757.0 L358.1 757.8 L359.6 756.6 L361.1 758.9 L362.6 757.6 L364.1 756.6 L365.6 757.2 L367.1 756.6 L368.6 758.7 L370.1 758.0 L371.6 756.7 L373.1 758.1 L374.6 756.8 L376.1 756.5 L377.6 757.2 L379.1 756.6 L380.6 758.8 L382.1 757.8 L383.6 758.0 L385.1 758.6 L386.6 757.3 L388.1 756.5 L389.6 756.7 L391.1 756.9 L392.6 759.0 L394.1 758.8 L395.6 757.2 L397.1 757.0 L398.6 756.4 L400.1 758.3 L401.6 758.5 L403.1 756.9 L404.6 757.0 L406.1 757.6 L407.6 757.0 L409.1 753.9 L410.6 758.9 L412.1 757.9 L413.6 758.3 L415.1 757.4 L416.6 758.9 L418.1 757.3 L419.6 758.0 L421.1 757.7 L422.6 754.4 L424.1 756.4 L425.6 757.1 L427.1 758.9 L428.6 759.9 L430.1 757.6 L431.6 758.8 L433.1 757.7 L434.6 758.4 L436.1 759.0 L437.6 756.4 L439.1 758.9 L440.6 758.4 L442.1 756.6 L443.6 758.1 L445.1 757.6 L446.6 758.5 L448.1 761.2 L449.6 756.8 L451.1 757.7 L452.6 758.1 L454.1 757.2 L455.6 759.1 L457.1 757.4 L458.6 756.8 L460.1 758.7 L461.6 758.4 L463.1 757.6 L464.6 756.3 L466.1 757.6 L467.6 757.1 L469.1 757.6 L470.6 757.8 L472.1 757.6 L473.6 758.1 L475.1 756.4 L476.6 756.6 L478.1 758.8 L479.6 759.0 L481.1 758.6 L482.6 757.0 L484.1 756.8 L485.6 757.8 L487.1 757.4 L488.6 758.2 L490.1 757.9 L491.6 756.4 L493.1 756.4 L494.6 754.9 L496.1 756.9 L497.6 757.2 L499.1 758.8 L500.6 758.0 L502.1 758.2 L503.6 754.9 L505.1 759.1 L506.6 757.1 L508.1 758.1 L509.6 758.3 L511.1 757.5 L512.6 759.0 L514.1 758.4 L515.6 756.3 L517.1 757.8 L518.6 756.9 L520.1 756.4 L521.6 757.8 L523.1 758.7 L524.6 758.5 L526.1 758.9 L527.6 758.8 L529.1 759.1 L530.6 758.6 L532.1 758.4 L533.6 757.8 L535.1 757.1 L536.6 758.9 L538.1 756.7 L539.6 757.5 L541.1 757.0 L542.6 756.7 L544.1 756.7 L545.6 756.8 L547.1 758.0 L548.6 759.1 L550.1 758.8 L551.6 757.9 L553.1 757.9 L554.6 758.5 L556.1 757.9 L557.6 757.1 L559.1 758.4 L560.6 759.1 L562.1 759.1 L563.6 757.1 L565.1 757.5 L566.6 758.7 L568.1 756.6 L569.6 759.4 L571.1 757.6 L572.6 757.2 L574.1 757.2 L575.6 757.6 L577.1 757.8 L578.6 756.4 L580.1 761.3 L581.6 757.9 L583.1 753.8 L584.6 757.8 L586.1 756.6 L587.6 757.5 L589.1 759.1 L590.6 756.4" stroke="#808080" stroke-width="3.60" fill="none"/>
<g stroke="#808080" stroke-width="3.2">
</g>
<path d="M191.6 846.9 L193.1 847.8 L194.6 846.6 L196.1 846.0 L197.6 846.2 L199.1 846.0 L200.6 845.7 L202.1 845.7 L203.6 846.4 L205.1 846.3 L206.6 846.5 L208.1 846.5 L209.6 845.8 L211.1 847.1 L212.6 847.6 L214.1 846.4 L215.6 846.5 L217.1 845.5 L218.6 846.8 L220.1 845.6 L221.6 845.5 L223.1 844.4 L224.6 846.2 L226.1 846.5 L227.6 847.5 L229.1 846.9 L230.6 847.5 L232.1 847.6 L233.6 846.8 L235.1 849.3 L236.6 846.8 L238.1 846.6 L239.6 847.1 L241.1 847.0 L242.6 847.0 L244.1 847.7 L245.6 847.7 L247.1 847.8 L248.6 845.7 L250.1 846.2 L251.6 845.6 L253.1 847.9 L254.6 846.0 L256.1 846.3 L257.6 845.9 L259.1 846.5 L260.6 847.4 L262.1 846.1 L263.6 847.8 L265.1 845.5 L266.6 847.0 L268.1 845.6 L269.6 847.4 L271.1 846.0 L272.6 844.8 L274.1 846.2 L275.6 847.6 L277.1 845.6 L278.6 845.7 L280.1 845.8 L281.6 846.4 L283.1 847.1 L284.6 847.1 L286.1 847.1 L287.6 845.8 L289.1 846.3 L290.6 847.3 L292.1 846.5 L293.6 844.7 L295.1 846.9 L296.6 847.6 L298.1 845.6 L299.6 847.5 L301.1 847.8 L302.6 849.0 L304.1 847.1 L305.6 847.8 L307.1 847.4 L308.6 845.6 L310.1 847.0 L311.6 845.7 L313.1 846.6 L314.6 845.7 L316.1 847.8 L317.6 845.5 L319.1 847.0 L320.6 847.9 L322.1 847.1 L323.6 847.7 L325.1 847.3 L326.6 845.8 L328.1 847.7 L329.6 847.4 L331.1 847.6 L332.6 845.3 L334.1 846.9 L335.6 845.8 L337.1 845.6 L338.6 847.2 L340.1 846.9 L341.6 846.5 L343.1 845.6 L344.6 846.8 L346.1 846.2 L347.6 847.2 L349.1 846.8 L350.6 847.5 L352.1 847.3 L353.6 847.8 L355.1 846.4 L356.6 846.1 L358.1 846.9 L359.6 846.7 L361.1 844.7 L362.6 847.8 L364.1 848.3 L365.6 845.8 L367.1 847.1 L368.6 847.1 L370.1 847.4 L371.6 847.0 L373.1 849.0 L374.6 845.7 L376.1 846.4 L377.6 845.6 L379.1 844.1 L380.6 846.4 L382.1 846.4 L383.6 847.3 L385.1 847.1 L386.6 846.6 L388.1 847.5 L389.6 846.9 L391.1 845.8 L392.6 847.1 L394.1 846.1 L395.6 845.3 L397.1 848.7 L398.6 846.2 L400.1 847.0 L401.6 847.8 L403.1 845.8 L404.6 845.7 L406.1 847.3 L407.6 846.8 L409.1 846.6 L410.6 847.5 L412.1 845.7 L413.6 847.6 L415.1 847.2 L416.6 847.8 L418.1 847.3 L419.6 845.6 L421.1 848.4 L422.6 847.5 L424.1 845.8 L425.6 846.8 L427.1 847.1 L428.6 846.9 L430.1 844.5 L431.6 847.5 L433.1 845.9 L434.6 846.2 L436.1 845.9 L437.6 847.4 L439.1 848.9 L440.6 847.4 L442.1 845.6 L443.6 847.7 L445.1 847.9 L446.6 846.5 L448.1 846.0 L449.6 847.7 L451.1 847.8 L452.6 846.4 L454.1 846.2 L455.6 846.7 L457.1 847.4 L458.6 845.8 L460.1 846.4 L461.6 847.5 L463.1 845.9 L464.6 846.7 L466.1 845.8 L467.6 847.7 L469.1 846.5 L470.6 846.2 L472.1 846.7 L473.6 845.6 L475.1 846.3 L476.6 845.9 L478.1 846.8 L479.6 844.7 L481.1 846.4 L482.6 846.7 L484.1 847.0 L485.6 846.8 L487.1 846.1 L488.6 845.5 L490.1 847.6 L491.6 846.2 L493.1 845.7 L494.6 846.4 L496.1 847.2 L497.6 847.1 L499.1 846.9 L500.6 845.6 L502.1 846.6 L503.6 846.2 L505.1 847.5 L506.6 847.8 L508.1 846.2 L509.6 846.9 L511.1 845.8 L512.6 845.6 L514.1 846.5 L515.6 846.2 L517.1 847.3 L518.6 846.7 L520.1 846.0 L521.6 845.6 L523.1 847.5 L524.6 846.3 L526.1 847.8 L527.6 845.7 L529.1 844.4 L530.6 844.6 L532.1 846.2 L533.6 845.7 L535.1 845.7 L536.6 846.4 L538.1 846.3 L539.6 846.9 L541.1 846.8 L542.6 845.7 L544.1 845.5 L545.6 845.8 L547.1 845.9 L548.6 846.2 L550.1 847.5 L551.6 846.6 L553.1 847.6 L554.6 847.9 L556.1 845.9 L557.6 847.1 L559.1 847.2 L560.6 847.5 L562.1 845.9 L563.6 845.8 L565.1 847.1 L566.6 846.8 L568.1 845.6 L569.6 845.8 L571.1 847.3 L572.6 845.9 L574.1 846.8 L575.6 845.2 L577.1 846.7 L578.6 846.8 L580.1 847.1 L581.6 847.1 L583.1 846.9 L584.6 845.8 L586.1 846.6 L587.6 845.7 L589.1 845.8 L590.6 846.1" stroke="#00ff00" stroke-width="3.60" fill="none"/>
<g stroke="#00ff00" stroke-width="3.2">
<line x1="208.0" y1="846.7" x2="208.0" y2="838.0"/>
<line x1="242.2" y1="846.7" x2="242.2" y2="838.0"/>
<line x1="274.9" y1="846.7" x2="274.9" y2="838.0"/>
<line x1="309.1" y1="846.7" x2="309.1" y2="838.0"/>
<line x1="341.8" y1="846.7" x2="341.8" y2="838.0"/>
<line x1="377.6" y1="846.7" x2="377.6" y2="838.0"/>
<line x1="411.8" y1="846.7" x2="411.8" y2="838.0"/>
<line x1="447.6" y1="846.7" x2="447.6" y2="838.0"/>
<line x1="481.8" y1="846.7" x2="481.8" y2="838.0"/>
<line x1="516.0" y1="846.7" x2="516.0" y2="838.0"/>
<line x1="550.2" y1="846.7" x2="550.2" y2="838.0"/>
<line x1="584.5" y1="846.7" x2="584.5" y2="838.0"/>
<line x1="193.1" y1="846.7" x2="193.1" y2="858.0"/>
<line x1="228.2" y1="846.7" x2="228.2" y2="856.0"/>
<line x1="262.4" y1="846.7" x2="262.4" y2="855.0"/>
<line x1="297.6" y1="846.7" x2="297.6" y2="857.0"/>
<line x1="332.5" y1="846.7" x2="332.5" y2="858.0"/>
<line x1="366.7" y1="846.7" x2="366.7" y2="856.0"/>
<line x1="401.5" y1="846.7" x2="401.5" y2="857.0"/>
<line x1="435.8" y1="846.7" x2="435.8" y2="856.0"/>
<line x1="470.0" y1="846.7" x2="470.0" y2="857.0"/>
<line x1="505.2" y1="846.7" x2="505.2" y2="856.0"/>
<line x1="538.4" y1="846.7" x2="538.4" y2="857.0"/>
<line x1="572.0" y1="846.7" x2="572.0" y2="856.0"/>
</g>
<path d="M191.6 935.0 L193.1 935.0 L194.6 936.1 L196.1 936.1 L197.6 934.7 L199.1 936.1 L200.6 936.7 L202.1 935.5 L203.6 934.9 L205.1 936.3 L206.6 935.7 L208.1 935.1 L209.6 934.9 L211.1 936.1 L212.6 935.2 L214.1 935.4 L215.6 935.8 L217.1 935.6 L218.6 936.8 L220.1 935.1 L221.6 936.1 L223.1 935.9 L224.6 936.2 L226.1 936.6 L227.6 935.7 L229.1 935.7 L230.6 936.7 L232.1 935.5 L233.6 936.0 L235.1 936.1 L236.6 936.9 L238.1 935.6 L239.6 936.9 L241.1 934.8 L242.6 936.7 L244.1 935.2 L245.6 936.9 L247.1 935.7 L248.6 935.1 L250.1 934.9 L251.6 935.2 L253.1 935.5 L254.6 934.9 L256.1 935.6 L257.6 936.3 L259.1 935.2 L260.6 935.3 L262.1 935.1 L263.6 936.5 L265.1 935.7 L266.6 936.1 L268.1 934.8 L269.6 936.5 L271.1 936.6 L272.6 936.8 L274.1 934.6 L275.6 935.1 L277.1 936.3 L278.6 936.3 L280.1 936.1 L281.6 936.6 L283.1 936.5 L284.6 935.2 L286.1 936.2 L287.6 934.9 L289.1 935.6 L290.6 934.8 L292.1 935.9 L293.6 936.5 L295.1 936.5 L296.6 935.2 L298.1 936.8 L299.6 937.0 L301.1 935.1 L302.6 935.9 L304.1 935.7 L305.6 935.8 L307.1 935.0 L308.6 934.8 L310.1 936.4 L311.6 935.2 L313.1 936.5 L314.6 934.9 L316.1 936.2 L317.6 936.5 L319.1 936.7 L320.6 936.1 L322.1 936.5 L323.6 935.3 L325.1 935.7 L326.6 936.2 L328.1 934.7 L329.6 935.4 L331.1 936.3 L332.6 936.4 L334.1 935.1 L335.6 934.7 L337.1 936.9 L338.6 937.8 L340.1 936.9 L341.6 934.7 L343.1 936.4 L344.6 936.9 L346.1 935.2 L347.6 935.3 L349.1 936.3 L350.6 935.1 L352.1 935.1 L353.6 934.9 L355.1 936.6 L356.6 935.3 L358.1 935.1 L359.6 936.3 L361.1 935.2 L362.6 935.3 L364.1 934.6 L365.6 936.6 L367.1 935.6 L368.6 936.0 L370.1 936.3 L371.6 935.8 L373.1 934.7 L374.6 935.8 L376.1 935.2 L377.6 936.5 L379.1 936.9 L380.6 936.4 L382.1 935.2 L383.6 934.6 L385.1 936.3 L386.6 935.8 L388.1 936.3 L389.6 935.5 L391.1 935.4 L392.6 936.5 L394.1 936.6 L395.6 936.8 L397.1 935.5 L398.6 934.7 L400.1 934.7 L401.6 936.4 L403.1 936.8 L404.6 936.2 L406.1 936.8 L407.6 935.1 L409.1 934.9 L410.6 935.5 L412.1 935.0 L413.6 935.6 L415.1 936.8 L416.6 935.9 L418.1 935.7 L419.6 937.3 L421.1 935.0 L422.6 936.8 L424.1 936.0 L425.6 936.9 L427.1 935.2 L428.6 935.6 L430.1 936.6 L431.6 935.0 L433.1 936.0 L434.6 936.5 L436.1 936.7 L437.6 935.0 L439.1 935.0 L440.6 936.8 L442.1 935.1 L443.6 935.7 L445.1 936.4 L446.6 934.9 L448.1 936.7 L449.6 934.9 L451.1 935.4 L452.6 935.5 L454.1 935.4 L455.6 935.0 L457.1 935.4 L458.6 935.2 L460.1 936.2 L461.6 935.3 L463.1 935.5 L464.6 936.1 L466.1 936.7 L467.6 936.6 L469.1 936.8 L470.6 936.3 L472.1 935.5 L473.6 936.8 L475.1 935.4 L476.6 936.4 L478.1 934.9 L479.6 936.9 L481.1 936.9 L482.6 936.7 L484.1 936.6 L485.6 935.5 L487.1 936.4 L488.6 936.8 L490.1 935.7 L491.6 936.6 L493.1 934.9 L494.6 936.8 L496.1 938.0 L497.6 933.9 L499.1 935.1 L500.6 936.6 L502.1 934.8 L503.6 936.7 L505.1 936.5 L506.6 937.3 L508.1 935.0 L509.6 936.6 L511.1 934.8 L512.6 933.4 L514.1 936.2 L515.6 936.3 L517.1 935.6 L518.6 936.7 L520.1 935.8 L521.6 936.6 L523.1 936.5 L524.6 935.1 L526.1 935.9 L527.6 936.9 L529.1 935.0 L530.6 935.0 L532.1 936.4 L533.6 936.1 L535.1 937.0 L536.6 936.3 L538.1 934.7 L539.6 935.6 L541.1 935.2 L542.6 934.9 L544.1 936.2 L545.6 935.4 L547.1 936.3 L548.6 936.3 L550.1 936.7 L551.6 936.5 L553.1 935.5 L554.6 936.4 L556.1 935.9 L557.6 936.3 L559.1 935.7 L560.6 936.7 L562.1 935.2 L563.6 936.8 L565.1 936.0 L566.6 935.1 L568.1 936.4 L569.6 935.6 L571.1 936.0 L572.6 938.1 L574.1 937.7 L575.6 935.0 L577.1 935.3 L578.6 936.2 L580.1 935.3 L581.6 936.0 L583.1 935.7 L584.6 937.0 L586.1 935.5 L587.6 936.0 L589.1 935.6 L590.6 935.8" stroke="#808000" stroke-width="3.60" fill="none"/>
<g stroke="#808000" stroke-width="3.2">
<line x1="222.0" y1="935.8" x2="222.0" y2="918.0"/>
<line x1="256.2" y1="935.8" x2="256.2" y2="918.0"/>
<line x1="290.5" y1="935.8" x2="290.5" y2="918.0"/>
<line x1="324.7" y1="935.8" x2="324.7" y2="923.3"/>
<line x1="359.8" y1="935.8" x2="359.8" y2="921.8"/>
<line x1="394.7" y1="935.8" x2="394.7" y2="924.9"/>
<line x1="428.9" y1="935.8" x2="428.9" y2="927.4"/>
<line x1="463.1" y1="935.8" x2="463.1" y2="925.5"/>
<line x1="497.4" y1="935.8" x2="497.4" y2="919.3"/>
<line x1="531.6" y1="935.8" x2="531.6" y2="921.8"/>
<line x1="565.8" y1="935.8" x2="565.8" y2="923.3"/>
<line x1="208.6" y1="935.8" x2="208.6" y2="952.9"/>
<line x1="243.8" y1="935.8" x2="243.8" y2="951.3"/>
<line x1="278.0" y1="935.8" x2="278.0" y2="951.3"/>
<line x1="313.2" y1="935.8" x2="313.2" y2="952.0"/>
<line x1="347.1" y1="935.8" x2="347.1" y2="949.0"/>
<line x1="381.6" y1="935.8" x2="381.6" y2="951.3"/>
<line x1="415.8" y1="935.8" x2="415.8" y2="952.9"/>
<line x1="450.1" y1="935.8" x2="450.1" y2="948.0"/>
<line x1="484.9" y1="935.8" x2="484.9" y2="951.3"/>
<line x1="519.1" y1="935.8" x2="519.1" y2="951.3"/>
<line x1="553.4" y1="935.8" x2="553.4" y2="951.3"/>
<line x1="587.6" y1="935.8" x2="587.6" y2="952.9"/>
</g>
<path d="M191.6 1025.6 L193.1 1025.0 L194.6 1022.3 L196.1 1024.9 L197.6 1024.1 L199.1 1024.5 L200.6 1024.7 L202.1 1023.4 L203.6 1025.0 L205.1 1024.0 L206.6 1025.4 L208.1 1024.9 L209.6 1024.9 L211.1 1024.8 L212.6 1023.8 L214.1 1025.0 L215.6 1025.3 L217.1 1025.5 L218.6 1024.6 L220.1 1024.4 L221.6 1023.1 L223.1 1023.6 L224.6 1025.5 L226.1 1024.1 L227.6 1024.9 L229.1 1024.0 L230.6 1023.6 L232.1 1025.1 L233.6 1025.7 L235.1 1024.7 L236.6 1025.3 L238.1 1026.6 L239.6 1025.2 L241.1 1022.5 L242.6 1024.7 L244.1 1023.8 L245.6 1024.7 L247.1 1024.2 L248.6 1024.1 L250.1 1024.9 L251.6 1024.9 L253.1 1024.6 L254.6 1024.0 L256.1 1023.7 L257.6 1026.8 L259.1 1024.1 L260.6 1023.3 L262.1 1024.8 L263.6 1025.1 L265.1 1025.3 L266.6 1025.2 L268.1 1025.5 L269.6 1024.3 L271.1 1023.4 L272.6 1024.4 L274.1 1025.2 L275.6 1024.4 L277.1 1025.6 L278.6 1024.9 L280.1 1024.7 L281.6 1025.5 L283.1 1023.7 L284.6 1025.0 L286.1 1023.6 L287.6 1024.9 L289.1 1024.9 L290.6 1024.8 L292.1 1023.6 L293.6 1026.7 L295.1 1025.0 L296.6 1025.7 L298.1 1024.0 L299.6 1025.2 L301.1 1024.3 L302.6 1024.7 L304.1 1024.7 L305.6 1024.1 L307.1 1024.9 L308.6 1024.5 L310.1 1024.4 L311.6 1025.0 L313.1 1024.5 L314.6 1023.7 L316.1 1023.5 L317.6 1024.0 L319.1 1024.1 L320.6 1023.5 L322.1 1025.1 L323.6 1025.5 L325.1 1025.4 L326.6 1025.0 L328.1 1024.6 L329.6 1024.0 L331.1 1023.7 L332.6 1024.1 L334.1 1024.1 L335.6 1024.6 L337.1 1025.0 L338.6 1025.2 L340.1 1024.8 L341.6 1025.1 L343.1 1024.9 L344.6 1024.3 L346.1 1023.6 L347.6 1025.4 L349.1 1024.9 L350.6 1025.7 L352.1 1024.0 L353.6 1023.6 L355.1 1023.3 L356.6 1024.1 L358.1 1024.4 L359.6 1023.8 L361.1 1024.7 L362.6 1025.7 L364.1 1025.2 L365.6 1024.1 L367.1 1023.7 L368.6 1024.1 L370.1 1024.9 L371.6 1025.4 L373.1 1025.2 L374.6 1025.0 L376.1 1023.7 L377.6 1024.7 L379.1 1024.8 L380.6 1025.2 L382.1 1024.1 L383.6 1023.5 L385.1 1024.3 L386.6 1023.7 L388.1 1025.4 L389.6 1025.5 L391.1 1023.6 L392.6 1025.0 L394.1 1024.2 L395.6 1023.5 L397.1 1024.3 L398.6 1024.7 L400.1 1026.9 L401.6 1024.9 L403.1 1023.5 L404.6 1024.2 L406.1 1024.3 L407.6 1024.0 L409.1 1023.3 L410.6 1025.2 L412.1 1024.0 L413.6 1025.6 L415.1 1023.5 L416.6 1024.7 L418.1 1024.5 L419.6 1024.7 L421.1 1024.2 L422.6 1024.0 L424.1 1025.1 L425.6 1023.7 L427.1 1025.0 L428.6 1025.5 L430.1 1023.7 L431.6 1025.7 L433.1 1023.9 L434.6 1023.4 L436.1 1024.8 L437.6 1025.5 L439.1 1025.3 L440.6 1025.5 L442.1 1025.0 L443.6 1024.3 L445.1 1025.0 L446.6 1024.7 L448.1 1026.2 L449.6 1025.5 L451.1 1024.1 L452.6 1024.8 L454.1 1024.2 L455.6 1025.3 L457.1 1023.5 L458.6 1025.5 L460.1 1025.4 L461.6 1025.3 L463.1 1024.2 L464.6 1025.5 L466.1 1024.8 L467.6 1025.3 L469.1 1025.2 L470.6 1024.5 L472.1 1024.9 L473.6 1023.5 L475.1 1024.7 L476.6 1026.2 L478.1 1024.7 L479.6 1024.8 L481.1 1025.5 L482.6 1023.6 L484.1 1024.1 L485.6 1023.4 L487.1 1025.6 L488.6 1023.8 L490.1 1025.6 L491.6 1023.7 L493.1 1025.0 L494.6 1024.6 L496.1 1024.0 L497.6 1024.3 L499.1 1024.1 L500.6 1025.2 L502.1 1023.8 L503.6 1025.1 L505.1 1024.3 L506.6 1024.4 L508.1 1025.6 L509.6 1023.7 L511.1 1024.2 L512.6 1025.4 L514.1 1025.4 L515.6 1024.6 L517.1 1024.8 L518.6 1023.5 L520.1 1025.4 L521.6 1023.5 L523.1 1024.5 L524.6 1025.4 L526.1 1024.8 L527.6 1023.6 L529.1 1025.1 L530.6 1024.8 L532.1 1024.6 L533.6 1023.4 L535.1 1024.1 L536.6 1024.9 L538.1 1024.5 L539.6 1024.5 L541.1 1025.2 L542.6 1024.0 L544.1 1024.5 L545.6 1025.2 L547.1 1024.9 L548.6 1023.6 L550.1 1023.5 L551.6 1024.3 L553.1 1025.7 L554.6 1023.6 L556.1 1024.0 L557.6 1024.4 L559.1 1023.9 L560.6 1025.0 L562.1 1024.6 L563.6 1024.9 L565.1 1025.4 L566.6 1023.6 L568.1 1023.9 L569.6 1023.4 L571.1 1026.2 L572.6 1025.1 L574.1 1024.5 L575.6 1024.3 L577.1 1025.0 L578.6 1024.8 L580.1 1024.8 L581.6 1023.9 L583.1 1025.2 L584.6 1025.0 L586.1 1024.6 L587.6 1025.3 L589.1 1024.9 L590.6 1024.4" stroke="#ff8000" stroke-width="3.60" fill="none"/>
<g stroke="#ff8000" stroke-width="3.2">
<line x1="210.2" y1="1024.5" x2="210.2" y2="1005.0"/>
<line x1="245.3" y1="1024.5" x2="245.3" y2="1005.0"/>
<line x1="279.6" y1="1024.5" x2="279.6" y2="1005.0"/>
<line x1="313.8" y1="1024.5" x2="313.8" y2="1007.3"/>
<line x1="348.6" y1="1024.5" x2="348.6" y2="1014.5"/>
<line x1="382.9" y1="1024.5" x2="382.9" y2="1008.9"/>
<line x1="417.1" y1="1024.5" x2="417.1" y2="1007.3"/>
<line x1="452.2" y1="1024.5" x2="452.2" y2="1007.3"/>
<line x1="486.5" y1="1024.5" x2="486.5" y2="1007.3"/>
<line x1="520.7" y1="1024.5" x2="520.7" y2="1007.3"/>
<line x1="554.9" y1="1024.5" x2="554.9" y2="1008.9"/>
<line x1="589.2" y1="1024.5" x2="589.2" y2="1008.9"/>
<line x1="197.1" y1="1024.5" x2="197.1" y2="1038.5"/>
<line x1="232.3" y1="1024.5" x2="232.3" y2="1042.5"/>
<line x1="266.2" y1="1024.5" x2="266.2" y2="1042.5"/>
<line x1="300.7" y1="1024.5" x2="300.7" y2="1042.5"/>
<line x1="335.6" y1="1024.5" x2="335.6" y2="1039.4"/>
<line x1="369.8" y1="1024.5" x2="369.8" y2="1040.0"/>
<line x1="403.4" y1="1024.5" x2="403.4" y2="1041.5"/>
<line x1="438.2" y1="1024.5" x2="438.2" y2="1036.9"/>
<line x1="472.5" y1="1024.5" x2="472.5" y2="1042.5"/>
<line x1="507.3" y1="1024.5" x2="507.3" y2="1042.5"/>
<line x1="541.9" y1="1024.5" x2="541.9" y2="1039.4"/>
<line x1="576.1" y1="1024.5" x2="576.1" y2="1043.7"/>
</g>
<path d="M191.6 1113.1 L193.1 1112.6 L194.6 1111.6 L196.1 1111.2 L197.6 1111.1 L199.1 1111.0 L200.6 1110.2 L202.1 1112.2 L203.6 1111.6 L205.1 1112.3 L206.6 1111.9 L208.1 1111.4 L209.6 1112.2 L211.1 1112.2 L212.6 1112.8 L214.1 1111.8 L215.6 1111.6 L217.1 1111.3 L218.6 1110.9 L220.1 1112.7 L221.6 1112.3 L223.1 1113.2 L224.6 1113.6 L226.1 1110.9 L227.6 1111.3 L229.1 1109.4 L230.6 1112.8 L232.1 1111.0 L233.6 1112.5 L235.1 1112.1 L236.6 1112.5 L238.1 1112.8 L239.6 1112.9 L241.1 1112.8 L242.6 1112.1 L244.1 1110.7 L245.6 1111.3 L247.1 1111.9 L248.6 1112.2 L250.1 1112.8 L251.6 1111.5 L253.1 1113.1 L254.6 1111.3 L256.1 1113.2 L257.6 1112.1 L259.1 1111.2 L260.6 1112.9 L262.1 1112.5 L263.6 1112.3 L265.1 1112.5 L266.6 1113.0 L268.1 1114.0 L269.6 1112.2 L271.1 1112.1 L272.6 1112.0 L274.1 1111.3 L275.6 1112.7 L277.1 1111.5 L278.6 1111.1 L280.1 1112.7 L281.6 1113.4 L283.1 1113.3 L284.6 1112.1 L286.1 1112.5 L287.6 1112.0 L289.1 1114.1 L290.6 1110.8 L292.1 1111.1 L293.6 1112.0 L295.1 1112.7 L296.6 1111.0 L298.1 1111.6 L299.6 1111.9 L301.1 1113.1 L302.6 1113.1 L304.1 1111.4 L305.6 1111.2 L307.1 1111.1 L308.6 1111.5 L310.1 1111.3 L311.6 1111.4 L313.1 1112.8 L314.6 1112.2 L316.1 1112.9 L317.6 1111.1 L319.1 1110.8 L320.6 1112.2 L322.1 1111.0 L323.6 1113.0 L325.1 1113.2 L326.6 1110.9 L328.1 1112.3 L329.6 1111.8 L331.1 1112.4 L332.6 1113.1 L334.1 1113.2 L335.6 1112.0 L337.1 1113.0 L338.6 1111.8 L340.1 1113.4 L341.6 1112.7 L343.1 1112.2 L344.6 1111.8 L346.1 1112.0 L347.6 1111.2 L349.1 1111.6 L350.6 1112.4 L352.1 1112.5 L353.6 1111.5 L355.1 1112.1 L356.6 1111.5 L358.1 1112.9 L359.6 1110.9 L361.1 1112.5 L362.6 1112.2 L364.1 1111.6 L365.6 1112.9 L367.1 1111.1 L368.6 1112.7 L370.1 1111.1 L371.6 1112.6 L373.1 1112.1 L374.6 1113.1 L376.1 1111.0 L377.6 1112.8 L379.1 1113.0 L380.6 1112.3 L382.1 1113.1 L383.6 1112.4 L385.1 1112.4 L386.6 1112.5 L388.1 1113.1 L389.6 1113.1 L391.1 1111.2 L392.6 1114.6 L394.1 1113.1 L395.6 1112.2 L397.1 1112.1 L398.6 1112.8 L400.1 1110.9 L401.6 1112.5 L403.1 1110.8 L404.6 1111.6 L406.1 1112.5 L407.6 1112.8 L409.1 1111.3 L410.6 1112.0 L412.1 1112.9 L413.6 1112.0 L415.1 1112.2 L416.6 1112.4 L418.1 1113.5 L419.6 1111.4 L421.1 1111.5 L422.6 1112.5 L424.1 1111.0 L425.6 1113.1 L427.1 1111.1 L428.6 1111.3 L430.1 1112.5 L431.6 1112.2 L433.1 1112.1 L434.6 1112.0 L436.1 1111.6 L437.6 1110.9 L439.1 1111.1 L440.6 1111.6 L442.1 1112.8 L443.6 1111.7 L445.1 1110.8 L446.6 1113.0 L448.1 1112.3 L449.6 1112.0 L451.1 1112.0 L452.6 1110.9 L454.1 1112.7 L455.6 1112.5 L457.1 1111.4 L458.6 1112.9 L460.1 1111.0 L461.6 1111.7 L463.1 1111.0 L464.6 1111.3 L466.1 1113.8 L467.6 1112.8 L469.1 1111.8 L470.6 1112.7 L472.1 1112.7 L473.6 1111.7 L475.1 1111.5 L476.6 1112.1 L478.1 1111.0 L479.6 1111.4 L481.1 1112.8 L482.6 1110.8 L484.1 1111.1 L485.6 1112.7 L487.1 1112.3 L488.6 1112.2 L490.1 1112.4 L491.6 1111.9 L493.1 1112.5 L494.6 1112.4 L496.1 1111.4 L497.6 1111.0 L499.1 1111.6 L500.6 1113.2 L502.1 1110.2 L503.6 1111.8 L505.1 1112.3 L506.6 1111.7 L508.1 1110.8 L509.6 1111.2 L511.1 1111.5 L512.6 1112.9 L514.1 1111.8 L515.6 1112.4 L517.1 1112.1 L518.6 1113.1 L520.1 1112.9 L521.6 1111.3 L523.1 1112.2 L524.6 1112.8 L526.1 1112.2 L527.6 1111.6 L529.1 1112.2 L530.6 1111.4 L532.1 1113.1 L533.6 1112.7 L535.1 1111.6 L536.6 1113.1 L538.1 1112.3 L539.6 1113.0 L541.1 1112.9 L542.6 1112.6 L544.1 1112.0 L545.6 1111.8 L547.1 1112.8 L548.6 1111.4 L550.1 1110.9 L551.6 1111.2 L553.1 1112.2 L554.6 1112.5 L556.1 1112.7 L557.6 1112.8 L559.1 1112.1 L560.6 1111.4 L562.1 1111.5 L563.6 1112.3 L565.1 1111.9 L566.6 1112.3 L568.1 1112.4 L569.6 1111.3 L571.1 1111.9 L572.6 1112.5 L574.1 1112.2 L575.6 1111.3 L577.1 1113.1 L578.6 1113.2 L580.1 1112.8 L581.6 1111.0 L583.1 1111.8 L584.6 1112.2 L586.1 1112.5 L587.6 1113.1 L589.1 1111.0 L590.6 1112.8" stroke="#800000" stroke-width="3.60" fill="none"/>
<g stroke="#800000" stroke-width="3.2">
<line x1="200.2" y1="1112.0" x2="200.2" y2="1095.0"/>
<line x1="235.4" y1="1112.0" x2="235.4" y2="1095.0"/>
<line x1="270.2" y1="1112.0" x2="270.2" y2="1095.0"/>
<line x1="305.1" y1="1112.0" x2="305.1" y2="1095.0"/>
<line x1="338.7" y1="1112.0" x2="338.7" y2="1089.6"/>
<line x1="373.5" y1="1112.0" x2="373.5" y2="1089.6"/>
<line x1="408.1" y1="1112.0" x2="408.1" y2="1094.2"/>
<line x1="442.0" y1="1112.0" x2="442.0" y2="1092.7"/>
<line x1="476.2" y1="1112.0" x2="476.2" y2="1092.7"/>
<line x1="510.7" y1="1112.0" x2="510.7" y2="1091.1"/>
<line x1="544.7" y1="1112.0" x2="544.7" y2="1089.6"/>
<line x1="579.8" y1="1112.0" x2="579.8" y2="1088.0"/>
<line x1="222.6" y1="1112.0" x2="222.6" y2="1131.0"/>
<line x1="257.2" y1="1112.0" x2="257.2" y2="1132.2"/>
<line x1="291.4" y1="1112.0" x2="291.4" y2="1131.0"/>
<line x1="325.0" y1="1112.0" x2="325.0" y2="1131.0"/>
<line x1="359.5" y1="1112.0" x2="359.5" y2="1129.0"/>
<line x1="394.7" y1="1112.0" x2="394.7" y2="1131.0"/>
<line x1="428.3" y1="1112.0" x2="428.3" y2="1132.2"/>
<line x1="463.1" y1="1112.0" x2="463.1" y2="1132.2"/>
<line x1="497.4" y1="1112.0" x2="497.4" y2="1132.2"/>
<line x1="531.6" y1="1112.0" x2="531.6" y2="1132.2"/>
<line x1="566.4" y1="1112.0" x2="566.4" y2="1131.0"/>
</g>
<path d="M191.6 1201.9 L193.1 1201.7 L194.6 1200.5 L196.1 1200.6 L197.6 1200.6 L199.1 1200.2 L200.6 1200.6 L202.1 1200.8 L203.6 1200.9 L205.1 1202.0 L206.6 1202.2 L208.1 1202.1 L209.6 1201.1 L211.1 1202.0 L212.6 1201.3 L214.1 1201.8 L215.6 1201.9 L217.1 1202.1 L218.6 1200.7 L220.1 1201.0 L221.6 1201.3 L223.1 1201.0 L224.6 1202.1 L226.1 1202.0 L227.6 1200.1 L229.1 1200.5 L230.6 1200.1 L232.1 1201.0 L233.6 1201.9 L235.1 1199.7 L236.6 1200.3 L238.1 1200.2 L239.6 1200.8 L241.1 1201.0 L242.6 1199.9 L244.1 1200.0 L245.6 1200.5 L247.1 1201.4 L248.6 1200.5 L250.1 1200.1 L251.6 1201.7 L253.1 1201.3 L254.6 1201.6 L256.1 1200.3 L257.6 1201.9 L259.1 1202.2 L260.6 1202.0 L262.1 1200.5 L263.6 1201.8 L265.1 1201.1 L266.6 1201.6 L268.1 1202.1 L269.6 1200.3 L271.1 1201.4 L272.6 1201.9 L274.1 1200.4 L275.6 1202.1 L277.1 1201.3 L278.6 1201.7 L280.1 1200.4 L281.6 1200.5 L283.1 1201.8 L284.6 1199.9 L286.1 1201.1 L287.6 1202.1 L289.1 1200.6 L290.6 1200.9 L292.1 1200.9 L293.6 1199.9 L295.1 1200.5 L296.6 1200.2 L298.1 1198.5 L299.6 1200.7 L301.1 1199.9 L302.6 1201.1 L304.1 1201.6 L305.6 1201.0 L307.1 1199.9 L308.6 1201.6 L310.1 1201.3 L311.6 1201.4 L313.1 1201.1 L314.6 1202.0 L316.1 1199.8 L317.6 1201.1 L319.1 1201.5 L320.6 1200.8 L322.1 1200.5 L323.6 1200.0 L325.1 1201.4 L326.6 1202.1 L328.1 1200.3 L329.6 1200.6 L331.1 1200.3 L332.6 1202.2 L334.1 1200.9 L335.6 1200.6 L337.1 1200.3 L338.6 1200.5 L340.1 1202.2 L341.6 1201.9 L343.1 1201.5 L344.6 1201.3 L346.1 1201.9 L347.6 1200.0 L349.1 1201.6 L350.6 1200.9 L352.1 1201.9 L353.6 1200.5 L355.1 1200.0 L356.6 1200.2 L358.1 1200.8 L359.6 1199.9 L361.1 1201.1 L362.6 1199.9 L364.1 1201.9 L365.6 1200.9 L367.1 1200.6 L368.6 1203.0 L370.1 1201.5 L371.6 1201.3 L373.1 1202.0 L374.6 1200.4 L376.1 1202.1 L377.6 1200.8 L379.1 1200.6 L380.6 1200.3 L382.1 1200.5 L383.6 1202.2 L385.1 1201.3 L386.6 1200.2 L388.1 1200.1 L389.6 1200.0 L391.1 1200.7 L392.6 1200.8 L394.1 1201.7 L395.6 1199.9 L397.1 1200.1 L398.6 1200.3 L400.1 1201.5 L401.6 1201.4 L403.1 1201.9 L404.6 1200.6 L406.1 1199.9 L407.6 1200.3 L409.1 1201.3 L410.6 1202.8 L412.1 1201.6 L413.6 1200.2 L415.1 1200.5 L416.6 1201.8 L418.1 1200.1 L419.6 1199.8 L421.1 1202.1 L422.6 1200.8 L424.1 1200.3 L425.6 1201.2 L427.1 1202.0 L428.6 1201.3 L430.1 1201.7 L431.6 1199.9 L433.1 1200.0 L434.6 1202.6 L436.1 1201.4 L437.6 1200.2 L439.1 1200.5 L440.6 1201.2 L442.1 1200.1 L443.6 1201.6 L445.1 1201.5 L446.6 1201.4 L448.1 1200.1 L449.6 1200.2 L451.1 1201.9 L452.6 1200.7 L454.1 1200.8 L455.6 1199.7 L457.1 1201.1 L458.6 1201.4 L460.1 1201.1 L461.6 1199.9 L463.1 1200.1 L464.6 1202.0 L466.1 1200.4 L467.6 1200.0 L469.1 1200.3 L470.6 1202.0 L472.1 1200.3 L473.6 1201.2 L475.1 1201.4 L476.6 1199.9 L478.1 1200.3 L479.6 1200.9 L481.1 1200.5 L482.6 1201.0 L484.1 1202.9 L485.6 1199.8 L487.1 1200.7 L488.6 1201.6 L490.1 1201.0 L491.6 1200.9 L493.1 1200.5 L494.6 1200.9 L496.1 1200.6 L497.6 1200.4 L499.1 1200.1 L500.6 1201.2 L502.1 1200.0 L503.6 1200.2 L505.1 1201.9 L506.6 1201.0 L508.1 1201.8 L509.6 1202.2 L511.1 1202.0 L512.6 1200.1 L514.1 1202.1 L515.6 1200.0 L517.1 1201.2 L518.6 1200.8 L520.1 1200.9 L521.6 1200.1 L523.1 1200.6 L524.6 1203.7 L526.1 1200.5 L527.6 1200.5 L529.1 1200.6 L530.6 1200.4 L532.1 1200.3 L533.6 1200.2 L535.1 1201.5 L536.6 1201.7 L538.1 1202.2 L539.6 1201.9 L541.1 1200.8 L542.6 1202.1 L544.1 1200.8 L545.6 1199.1 L547.1 1201.7 L548.6 1202.0 L550.1 1201.1 L551.6 1201.9 L553.1 1199.9 L554.6 1201.6 L556.1 1200.5 L557.6 1200.9 L559.1 1200.1 L560.6 1202.8 L562.1 1200.1 L563.6 1202.0 L565.1 1200.6 L566.6 1201.7 L568.1 1199.5 L569.6 1201.2 L571.1 1200.1 L572.6 1200.2 L574.1 1203.5 L575.6 1202.1 L577.1 1200.7 L578.6 1200.1 L580.1 1200.1 L581.6 1202.0 L583.1 1201.3 L584.6 1201.4 L586.1 1200.7 L587.6 1200.3 L589.1 1200.6 L590.6 1201.1" stroke="#800080" stroke-width="3.60" fill="none"/>
<g stroke="#800080" stroke-width="3.2">
<line x1="222.6" y1="1201.0" x2="222.6" y2="1180.0"/>
<line x1="257.8" y1="1201.0" x2="257.8" y2="1180.0"/>
<line x1="292.0" y1="1201.0" x2="292.0" y2="1180.0"/>
<line x1="325.6" y1="1201.0" x2="325.6" y2="1162.0"/>
<line x1="360.5" y1="1201.0" x2="360.5" y2="1167.3"/>
<line x1="394.7" y1="1201.0" x2="394.7" y2="1159.6"/>
<line x1="428.9" y1="1201.0" x2="428.9" y2="1159.6"/>
<line x1="463.8" y1="1201.0" x2="463.8" y2="1158.9"/>
<line x1="498.0" y1="1201.0" x2="498.0" y2="1161.1"/>
<line x1="532.2" y1="1201.0" x2="532.2" y2="1167.3"/>
<line x1="566.7" y1="1201.0" x2="566.7" y2="1166.4"/>
<line x1="209.6" y1="1201.0" x2="209.6" y2="1220.2"/>
<line x1="244.4" y1="1201.0" x2="244.4" y2="1220.2"/>
<line x1="278.9" y1="1201.0" x2="278.9" y2="1220.2"/>
<line x1="313.2" y1="1201.0" x2="313.2" y2="1224.3"/>
<line x1="348.0" y1="1201.0" x2="348.0" y2="1224.3"/>
<line x1="382.2" y1="1201.0" x2="382.2" y2="1223.3"/>
<line x1="415.8" y1="1201.0" x2="415.8" y2="1224.3"/>
<line x1="450.7" y1="1201.0" x2="450.7" y2="1224.3"/>
<line x1="484.9" y1="1201.0" x2="484.9" y2="1222.4"/>
<line x1="519.1" y1="1201.0" x2="519.1" y2="1224.3"/>
<line x1="553.4" y1="1201.0" x2="553.4" y2="1222.4"/>
<line x1="588.2" y1="1201.0" x2="588.2" y2="1223.3"/>
</g>
<path d="M191.6 1290.2 L193.1 1288.5 L194.6 1292.0 L196.1 1290.4 L197.6 1290.8 L199.1 1289.6 L200.6 1290.2 L202.1 1289.2 L203.6 1288.8 L205.1 1291.2 L206.6 1289.3 L208.1 1288.8 L209.6 1288.7 L211.1 1290.2 L212.6 1289.4 L214.1 1289.2 L215.6 1289.6 L217.1 1290.6 L218.6 1288.9 L220.1 1289.9 L221.6 1290.9 L223.1 1290.8 L224.6 1290.7 L226.1 1290.0 L227.6 1290.9 L229.1 1289.0 L230.6 1290.0 L232.1 1290.3 L233.6 1290.8 L235.1 1290.4 L236.6 1288.3 L238.1 1290.3 L239.6 1289.6 L241.1 1289.0 L242.6 1288.5 L244.1 1288.7 L245.6 1289.4 L247.1 1289.0 L248.6 1288.6 L250.1 1290.6 L251.6 1290.7 L253.1 1290.9 L254.6 1288.5 L256.1 1289.0 L257.6 1290.5 L259.1 1288.5 L260.6 1291.6 L262.1 1288.5 L263.6 1290.1 L265.1 1290.2 L266.6 1289.3 L268.1 1290.4 L269.6 1289.8 L271.1 1288.6 L272.6 1289.9 L274.1 1290.0 L275.6 1288.6 L277.1 1289.0 L278.6 1289.1 L280.1 1289.8 L281.6 1290.0 L283.1 1290.8 L284.6 1288.9 L286.1 1290.7 L287.6 1290.1 L289.1 1290.8 L290.6 1290.1 L292.1 1289.0 L293.6 1287.6 L295.1 1289.4 L296.6 1290.0 L298.1 1289.9 L299.6 1288.1 L301.1 1289.9 L302.6 1289.9 L304.1 1288.7 L305.6 1289.5 L307.1 1290.7 L308.6 1288.6 L310.1 1289.1 L311.6 1291.0 L313.1 1290.2 L314.6 1288.6 L316.1 1290.8 L317.6 1289.5 L319.1 1289.3 L320.6 1289.9 L322.1 1290.4 L323.6 1289.7 L325.1 1290.8 L326.6 1290.8 L328.1 1288.9 L329.6 1289.6 L331.1 1288.5 L332.6 1289.9 L334.1 1289.2 L335.6 1290.1 L337.1 1290.0 L338.6 1290.6 L340.1 1290.0 L341.6 1290.0 L343.1 1289.5 L344.6 1288.9 L346.1 1289.5 L347.6 1289.4 L349.1 1290.4 L350.6 1290.5 L352.1 1288.7 L353.6 1289.1 L355.1 1288.9 L356.6 1290.6 L358.1 1288.8 L359.6 1290.6 L361.1 1288.7 L362.6 1289.5 L364.1 1289.0 L365.6 1289.8 L367.1 1288.5 L368.6 1288.9 L370.1 1290.4 L371.6 1290.7 L373.1 1290.4 L374.6 1290.7 L376.1 1288.6 L377.6 1290.8 L379.1 1288.9 L380.6 1288.6 L382.1 1288.9 L383.6 1289.8 L385.1 1290.5 L386.6 1288.7 L388.1 1288.7 L389.6 1289.4 L391.1 1290.3 L392.6 1288.9 L394.1 1290.1 L395.6 1289.1 L397.1 1289.3 L398.6 1289.8 L400.1 1290.6 L401.6 1289.6 L403.1 1288.6 L404.6 1290.6 L406.1 1288.7 L407.6 1289.4 L409.1 1289.9 L410.6 1289.2 L412.1 1290.3 L413.6 1289.8 L415.1 1290.4 L416.6 1289.6 L418.1 1290.5 L419.6 1287.5 L421.1 1289.4 L422.6 1289.0 L424.1 1288.5 L425.6 1290.6 L427.1 1289.7 L428.6 1289.9 L430.1 1290.3 L431.6 1289.7 L433.1 1288.6 L434.6 1289.0 L436.1 1290.4 L437.6 1289.2 L439.1 1289.7 L440.6 1288.5 L442.1 1290.4 L443.6 1289.8 L445.1 1290.3 L446.6 1289.1 L448.1 1290.1 L449.6 1289.0 L451.1 1289.0 L452.6 1288.7 L454.1 1289.4 L455.6 1289.1 L457.1 1288.9 L458.6 1289.8 L460.1 1288.9 L461.6 1288.7 L463.1 1290.3 L464.6 1289.5 L466.1 1290.7 L467.6 1289.5 L469.1 1290.5 L470.6 1290.2 L472.1 1290.4 L473.6 1288.7 L475.1 1290.4 L476.6 1290.6 L478.1 1290.9 L479.6 1290.2 L481.1 1289.1 L482.6 1289.8 L484.1 1289.4 L485.6 1290.1 L487.1 1287.6 L488.6 1289.0 L490.1 1290.9 L491.6 1291.7 L493.1 1290.8 L494.6 1291.0 L496.1 1290.3 L497.6 1289.9 L499.1 1288.3 L500.6 1289.4 L502.1 1290.9 L503.6 1290.7 L505.1 1288.8 L506.6 1290.3 L508.1 1288.8 L509.6 1289.9 L511.1 1289.7 L512.6 1289.4 L514.1 1289.3 L515.6 1289.3 L517.1 1289.2 L518.6 1289.9 L520.1 1289.8 L521.6 1289.0 L523.1 1290.4 L524.6 1288.8 L526.1 1288.5 L527.6 1290.6 L529.1 1288.6 L530.6 1290.5 L532.1 1289.6 L533.6 1290.4 L535.1 1290.1 L536.6 1289.6 L538.1 1288.7 L539.6 1288.5 L541.1 1289.4 L542.6 1288.8 L544.1 1288.8 L545.6 1290.2 L547.1 1290.9 L548.6 1289.0 L550.1 1289.5 L551.6 1289.3 L553.1 1289.1 L554.6 1290.5 L556.1 1289.2 L557.6 1289.6 L559.1 1289.6 L560.6 1290.4 L562.1 1290.3 L563.6 1290.7 L565.1 1290.2 L566.6 1290.8 L568.1 1287.3 L569.6 1288.9 L571.1 1288.6 L572.6 1289.4 L574.1 1290.2 L575.6 1289.0 L577.1 1290.8 L578.6 1290.7 L580.1 1290.6 L581.6 1290.5 L583.1 1290.7 L584.6 1290.5 L586.1 1289.9 L587.6 1290.3 L589.1 1289.6 L590.6 1290.1" stroke="#0000ff" stroke-width="3.60" fill="none"/>
<g stroke="#0000ff" stroke-width="3.2">
<line x1="222.6" y1="1289.7" x2="222.6" y2="1265.0"/>
<line x1="257.8" y1="1289.7" x2="257.8" y2="1265.0"/>
<line x1="291.4" y1="1289.7" x2="291.4" y2="1265.0"/>
<line x1="325.3" y1="1289.7" x2="325.3" y2="1238.1"/>
<line x1="359.8" y1="1289.7" x2="359.8" y2="1240.6"/>
<line x1="394.7" y1="1289.7" x2="394.7" y2="1241.2"/>
<line x1="428.9" y1="1289.7" x2="428.9" y2="1241.2"/>
<line x1="463.8" y1="1289.7" x2="463.8" y2="1243.7"/>
<line x1="498.3" y1="1289.7" x2="498.3" y2="1241.2"/>
<line x1="533.1" y1="1289.7" x2="533.1" y2="1239.0"/>
<line x1="567.4" y1="1289.7" x2="567.4" y2="1239.0"/>
<line x1="209.6" y1="1289.7" x2="209.6" y2="1321.0"/>
<line x1="244.4" y1="1289.7" x2="244.4" y2="1320.0"/>
<line x1="278.9" y1="1289.7" x2="278.9" y2="1318.3"/>
<line x1="313.2" y1="1289.7" x2="313.2" y2="1318.3"/>
<line x1="347.4" y1="1289.7" x2="347.4" y2="1317.7"/>
<line x1="382.2" y1="1289.7" x2="382.2" y2="1318.3"/>
<line x1="415.8" y1="1289.7" x2="415.8" y2="1317.7"/>
<line x1="450.7" y1="1289.7" x2="450.7" y2="1318.3"/>
<line x1="484.9" y1="1289.7" x2="484.9" y2="1315.9"/>
<line x1="519.1" y1="1289.7" x2="519.1" y2="1316.8"/>
<line x1="554.0" y1="1289.7" x2="554.0" y2="1317.7"/>
<line x1="588.2" y1="1289.7" x2="588.2" y2="1316.8"/>
</g>
</g>
<g stroke="#000" stroke-width="1.5" fill="none">
<rect x="124.2" y="702.0" width="533.2" height="620.0"/>
<line x1="124.20" y1="790.30" x2="657.40" y2="790.30" stroke="#000" stroke-width="1.50"/>
<line x1="124.20" y1="879.30" x2="657.40" y2="879.30" stroke="#000" stroke-width="1.50"/>
<line x1="124.20" y1="967.90" x2="657.40" y2="967.90" stroke="#000" stroke-width="1.50"/>
<line x1="124.20" y1="1056.10" x2="657.40" y2="1056.10" stroke="#000" stroke-width="1.50"/>
<line x1="124.20" y1="1143.70" x2="657.40" y2="1143.70" stroke="#000" stroke-width="1.50"/>
<line x1="124.20" y1="1232.40" x2="657.40" y2="1232.40" stroke="#000" stroke-width="1.50"/>
<line x1="124.20" y1="705.60" x2="127.70" y2="705.60" stroke="#000" stroke-width="1.50"/>
<line x1="657.40" y1="705.60" x2="653.90" y2="705.60" stroke="#000" stroke-width="1.50"/>
<line x1="124.20" y1="723.40" x2="132.20" y2="723.40" stroke="#000" stroke-width="1.50"/>
<line x1="657.40" y1="723.40" x2="649.40" y2="723.40" stroke="#000" stroke-width="1.50"/>
<line x1="124.20" y1="741.20" x2="127.70" y2="741.20" stroke="#000" stroke-width="1.50"/>
<line x1="657.40" y1="741.20" x2="653.90" y2="741.20" stroke="#000" stroke-width="1.50"/>
<line x1="124.20" y1="759.00" x2="132.20" y2="759.00" stroke="#000" stroke-width="1.50"/>
<line x1="657.40" y1="759.00" x2="649.40" y2="759.00" stroke="#000" stroke-width="1.50"/>
<line x1="124.20" y1="776.80" x2="127.70" y2="776.80" stroke="#000" stroke-width="1.50"/>
<line x1="657.40" y1="776.80" x2="653.90" y2="776.80" stroke="#000" stroke-width="1.50"/>
<line x1="191.60" y1="790.30" x2="191.60" y2="783.30" stroke="#000" stroke-width="1.50"/>
<line x1="191.60" y1="702.00" x2="191.60" y2="709.00" stroke="#000" stroke-width="1.50"/>
<line x1="291.61" y1="790.30" x2="291.61" y2="785.80" stroke="#000" stroke-width="1.50"/>
<line x1="291.61" y1="702.00" x2="291.61" y2="706.50" stroke="#000" stroke-width="1.50"/>
<line x1="391.61" y1="790.30" x2="391.61" y2="783.30" stroke="#000" stroke-width="1.50"/>
<line x1="391.61" y1="702.00" x2="391.61" y2="709.00" stroke="#000" stroke-width="1.50"/>
<line x1="491.62" y1="790.30" x2="491.62" y2="785.80" stroke="#000" stroke-width="1.50"/>
<line x1="491.62" y1="702.00" x2="491.62" y2="706.50" stroke="#000" stroke-width="1.50"/>
<line x1="591.62" y1="790.30" x2="591.62" y2="783.30" stroke="#000" stroke-width="1.50"/>
<line x1="591.62" y1="702.00" x2="591.62" y2="709.00" stroke="#000" stroke-width="1.50"/>
<line x1="124.20" y1="793.90" x2="127.70" y2="793.90" stroke="#000" stroke-width="1.50"/>
<line x1="657.40" y1="793.90" x2="653.90" y2="793.90" stroke="#000" stroke-width="1.50"/>
<line x1="124.20" y1="811.70" x2="132.20" y2="811.70" stroke="#000" stroke-width="1.50"/>
<line x1="657.40" y1="811.70" x2="649.40" y2="811.70" stroke="#000" stroke-width="1.50"/>
<line x1="124.20" y1="829.50" x2="127.70" y2="829.50" stroke="#000" stroke-width="1.50"/>
<line x1="657.40" y1="829.50" x2="653.90" y2="829.50" stroke="#000" stroke-width="1.50"/>
<line x1="124.20" y1="847.30" x2="132.20" y2="847.30" stroke="#000" stroke-width="1.50"/>
<line x1="657.40" y1="847.30" x2="649.40" y2="847.30" stroke="#000" stroke-width="1.50"/>
<line x1="124.20" y1="865.10" x2="127.70" y2="865.10" stroke="#000" stroke-width="1.50"/>
<line x1="657.40" y1="865.10" x2="653.90" y2="865.10" stroke="#000" stroke-width="1.50"/>
<line x1="191.60" y1="879.30" x2="191.60" y2="872.30" stroke="#000" stroke-width="1.50"/>
<line x1="291.61" y1="879.30" x2="291.61" y2="874.80" stroke="#000" stroke-width="1.50"/>
<line x1="391.61" y1="879.30" x2="391.61" y2="872.30" stroke="#000" stroke-width="1.50"/>
<line x1="491.62" y1="879.30" x2="491.62" y2="874.80" stroke="#000" stroke-width="1.50"/>
<line x1="591.62" y1="879.30" x2="591.62" y2="872.30" stroke="#000" stroke-width="1.50"/>
<line x1="124.20" y1="882.90" x2="127.70" y2="882.90" stroke="#000" stroke-width="1.50"/>
<line x1="657.40" y1="882.90" x2="653.90" y2="882.90" stroke="#000" stroke-width="1.50"/>
<line x1="124.20" y1="900.70" x2="132.20" y2="900.70" stroke="#000" stroke-width="1.50"/>
<line x1="657.40" y1="900.70" x2="649.40" y2="900.70" stroke="#000" stroke-width="1.50"/>
<line x1="124.20" y1="918.50" x2="127.70" y2="918.50" stroke="#000" stroke-width="1.50"/>
<line x1="657.40" y1="918.50" x2="653.90" y2="918.50" stroke="#000" stroke-width="1.50"/>
<line x1="124.20" y1="936.30" x2="132.20" y2="936.30" stroke="#000" stroke-width="1.50"/>
<line x1="657.40" y1="936.30" x2="649.40" y2="936.30" stroke="#000" stroke-width="1.50"/>
<line x1="124.20" y1="954.10" x2="127.70" y2="954.10" stroke="#000" stroke-width="1.50"/>
<line x1="657.40" y1="954.10" x2="653.90" y2="954.10" stroke="#000" stroke-width="1.50"/>
<line x1="191.60" y1="967.90" x2="191.60" y2="960.90" stroke="#000" stroke-width="1.50"/>
<line x1="291.61" y1="967.90" x2="291.61" y2="963.40" stroke="#000" stroke-width="1.50"/>
<line x1="391.61" y1="967.90" x2="391.61" y2="960.90" stroke="#000" stroke-width="1.50"/>
<line x1="491.62" y1="967.90" x2="491.62" y2="963.40" stroke="#000" stroke-width="1.50"/>
<line x1="591.62" y1="967.90" x2="591.62" y2="960.90" stroke="#000" stroke-width="1.50"/>
<line x1="124.20" y1="971.50" x2="127.70" y2="971.50" stroke="#000" stroke-width="1.50"/>
<line x1="657.40" y1="971.50" x2="653.90" y2="971.50" stroke="#000" stroke-width="1.50"/>
<line x1="124.20" y1="989.30" x2="132.20" y2="989.30" stroke="#000" stroke-width="1.50"/>
<line x1="657.40" y1="989.30" x2="649.40" y2="989.30" stroke="#000" stroke-width="1.50"/>
<line x1="124.20" y1="1007.10" x2="127.70" y2="1007.10" stroke="#000" stroke-width="1.50"/>
<line x1="657.40" y1="1007.10" x2="653.90" y2="1007.10" stroke="#000" stroke-width="1.50"/>
<line x1="124.20" y1="1024.90" x2="132.20" y2="1024.90" stroke="#000" stroke-width="1.50"/>
<line x1="657.40" y1="1024.90" x2="649.40" y2="1024.90" stroke="#000" stroke-width="1.50"/>
<line x1="124.20" y1="1042.70" x2="127.70" y2="1042.70" stroke="#000" stroke-width="1.50"/>
<line x1="657.40" y1="1042.70" x2="653.90" y2="1042.70" stroke="#000" stroke-width="1.50"/>
<line x1="191.60" y1="1056.10" x2="191.60" y2="1049.10" stroke="#000" stroke-width="1.50"/>
<line x1="291.61" y1="1056.10" x2="291.61" y2="1051.60" stroke="#000" stroke-width="1.50"/>
<line x1="391.61" y1="1056.10" x2="391.61" y2="1049.10" stroke="#000" stroke-width="1.50"/>
<line x1="491.62" y1="1056.10" x2="491.62" y2="1051.60" stroke="#000" stroke-width="1.50"/>
<line x1="591.62" y1="1056.10" x2="591.62" y2="1049.10" stroke="#000" stroke-width="1.50"/>
<line x1="124.20" y1="1059.70" x2="127.70" y2="1059.70" stroke="#000" stroke-width="1.50"/>
<line x1="657.40" y1="1059.70" x2="653.90" y2="1059.70" stroke="#000" stroke-width="1.50"/>
<line x1="124.20" y1="1077.50" x2="132.20" y2="1077.50" stroke="#000" stroke-width="1.50"/>
<line x1="657.40" y1="1077.50" x2="649.40" y2="1077.50" stroke="#000" stroke-width="1.50"/>
<line x1="124.20" y1="1095.30" x2="127.70" y2="1095.30" stroke="#000" stroke-width="1.50"/>
<line x1="657.40" y1="1095.30" x2="653.90" y2="1095.30" stroke="#000" stroke-width="1.50"/>
<line x1="124.20" y1="1113.10" x2="132.20" y2="1113.10" stroke="#000" stroke-width="1.50"/>
<line x1="657.40" y1="1113.10" x2="649.40" y2="1113.10" stroke="#000" stroke-width="1.50"/>
<line x1="124.20" y1="1130.90" x2="127.70" y2="1130.90" stroke="#000" stroke-width="1.50"/>
<line x1="657.40" y1="1130.90" x2="653.90" y2="1130.90" stroke="#000" stroke-width="1.50"/>
<line x1="191.60" y1="1143.70" x2="191.60" y2="1136.70" stroke="#000" stroke-width="1.50"/>
<line x1="291.61" y1="1143.70" x2="291.61" y2="1139.20" stroke="#000" stroke-width="1.50"/>
<line x1="391.61" y1="1143.70" x2="391.61" y2="1136.70" stroke="#000" stroke-width="1.50"/>
<line x1="491.62" y1="1143.70" x2="491.62" y2="1139.20" stroke="#000" stroke-width="1.50"/>
<line x1="591.62" y1="1143.70" x2="591.62" y2="1136.70" stroke="#000" stroke-width="1.50"/>
<line x1="124.20" y1="1147.30" x2="127.70" y2="1147.30" stroke="#000" stroke-width="1.50"/>
<line x1="657.40" y1="1147.30" x2="653.90" y2="1147.30" stroke="#000" stroke-width="1.50"/>
<line x1="124.20" y1="1165.10" x2="132.20" y2="1165.10" stroke="#000" stroke-width="1.50"/>
<line x1="657.40" y1="1165.10" x2="649.40" y2="1165.10" stroke="#000" stroke-width="1.50"/>
<line x1="124.20" y1="1182.90" x2="127.70" y2="1182.90" stroke="#000" stroke-width="1.50"/>
<line x1="657.40" y1="1182.90" x2="653.90" y2="1182.90" stroke="#000" stroke-width="1.50"/>
<line x1="124.20" y1="1200.70" x2="132.20" y2="1200.70" stroke="#000" stroke-width="1.50"/>
<line x1="657.40" y1="1200.70" x2="649.40" y2="1200.70" stroke="#000" stroke-width="1.50"/>
<line x1="124.20" y1="1218.50" x2="127.70" y2="1218.50" stroke="#000" stroke-width="1.50"/>
<line x1="657.40" y1="1218.50" x2="653.90" y2="1218.50" stroke="#000" stroke-width="1.50"/>
<line x1="191.60" y1="1232.40" x2="191.60" y2="1225.40" stroke="#000" stroke-width="1.50"/>
<line x1="291.61" y1="1232.40" x2="291.61" y2="1227.90" stroke="#000" stroke-width="1.50"/>
<line x1="391.61" y1="1232.40" x2="391.61" y2="1225.40" stroke="#000" stroke-width="1.50"/>
<line x1="491.62" y1="1232.40" x2="491.62" y2="1227.90" stroke="#000" stroke-width="1.50"/>
<line x1="591.62" y1="1232.40" x2="591.62" y2="1225.40" stroke="#000" stroke-width="1.50"/>
<line x1="124.20" y1="1236.00" x2="127.70" y2="1236.00" stroke="#000" stroke-width="1.50"/>
<line x1="657.40" y1="1236.00" x2="653.90" y2="1236.00" stroke="#000" stroke-width="1.50"/>
<line x1="124.20" y1="1253.80" x2="132.20" y2="1253.80" stroke="#000" stroke-width="1.50"/>
<line x1="657.40" y1="1253.80" x2="649.40" y2="1253.80" stroke="#000" stroke-width="1.50"/>
<line x1="124.20" y1="1271.60" x2="127.70" y2="1271.60" stroke="#000" stroke-width="1.50"/>
<line x1="657.40" y1="1271.60" x2="653.90" y2="1271.60" stroke="#000" stroke-width="1.50"/>
<line x1="124.20" y1="1289.40" x2="132.20" y2="1289.40" stroke="#000" stroke-width="1.50"/>
<line x1="657.40" y1="1289.40" x2="649.40" y2="1289.40" stroke="#000" stroke-width="1.50"/>
<line x1="124.20" y1="1307.20" x2="127.70" y2="1307.20" stroke="#000" stroke-width="1.50"/>
<line x1="657.40" y1="1307.20" x2="653.90" y2="1307.20" stroke="#000" stroke-width="1.50"/>
<line x1="191.60" y1="1322.00" x2="191.60" y2="1315.00" stroke="#000" stroke-width="1.50"/>
<line x1="291.61" y1="1322.00" x2="291.61" y2="1317.50" stroke="#000" stroke-width="1.50"/>
<line x1="391.61" y1="1322.00" x2="391.61" y2="1315.00" stroke="#000" stroke-width="1.50"/>
<line x1="491.62" y1="1322.00" x2="491.62" y2="1317.50" stroke="#000" stroke-width="1.50"/>
<line x1="591.62" y1="1322.00" x2="591.62" y2="1315.00" stroke="#000" stroke-width="1.50"/>
</g>
<rect x="124.2" y="702.0" width="184.0" height="44.5" fill="#fff" stroke="#000" stroke-width="1.5"/>
<line x1="136.70" y1="725.60" x2="218.90" y2="725.60" stroke="#808080" stroke-width="2.40"/>
<text transform="translate(226.73,736.36) scale(1.0286,1)" font-size="34.60" font-weight="normal" fill="#000">99%</text>
<rect x="124.2" y="790.3" width="184.0" height="44.5" fill="#fff" stroke="#000" stroke-width="1.5"/>
<line x1="136.70" y1="813.90" x2="218.90" y2="813.90" stroke="#00ff00" stroke-width="2.40"/>
<text transform="translate(226.73,824.66) scale(1.0286,1)" font-size="34.60" font-weight="normal" fill="#000">92%</text>
<rect x="124.2" y="879.3" width="184.0" height="44.5" fill="#fff" stroke="#000" stroke-width="1.5"/>
<line x1="136.70" y1="902.90" x2="218.90" y2="902.90" stroke="#808000" stroke-width="2.40"/>
<text transform="translate(226.86,913.66) scale(1.0267,1)" font-size="34.60" font-weight="normal" fill="#000">80%</text>
<rect x="124.2" y="967.9" width="184.0" height="44.5" fill="#fff" stroke="#000" stroke-width="1.5"/>
<line x1="136.70" y1="991.50" x2="218.90" y2="991.50" stroke="#ff8000" stroke-width="2.40"/>
<text transform="translate(226.59,1002.26) scale(1.0307,1)" font-size="34.60" font-weight="normal" fill="#000">65%</text>
<rect x="124.2" y="1056.1" width="184.0" height="44.5" fill="#fff" stroke="#000" stroke-width="1.5"/>
<line x1="136.70" y1="1079.70" x2="218.90" y2="1079.70" stroke="#800000" stroke-width="2.40"/>
<text transform="translate(227.59,1090.46) scale(1.0159,1)" font-size="34.60" font-weight="normal" fill="#000">46%</text>
<rect x="124.2" y="1143.7" width="184.0" height="44.5" fill="#fff" stroke="#000" stroke-width="1.5"/>
<line x1="136.70" y1="1167.30" x2="218.90" y2="1167.30" stroke="#800080" stroke-width="2.40"/>
<text transform="translate(227.05,1178.06) scale(1.0239,1)" font-size="34.60" font-weight="normal" fill="#000">36%</text>
<rect x="124.2" y="1221.5" width="184.0" height="44.5" fill="#fff" stroke="#000" stroke-width="1.5"/>
<line x1="136.70" y1="1245.10" x2="218.90" y2="1245.10" stroke="#0000ff" stroke-width="2.40"/>
<text transform="translate(226.61,1255.86) scale(1.0304,1)" font-size="34.60" font-weight="normal" fill="#000">20%</text>
<text transform="translate(67.48,729.73) scale(1.0227,1)" font-size="27.26" font-weight="normal" fill="#000">100</text>
<text transform="translate(98.51,765.04) scale(1.0368,1)" font-size="26.84" font-weight="normal" fill="#000">0</text>
<text transform="translate(67.48,818.03) scale(1.0227,1)" font-size="27.26" font-weight="normal" fill="#000">100</text>
<text transform="translate(98.51,853.34) scale(1.0368,1)" font-size="26.84" font-weight="normal" fill="#000">0</text>
<text transform="translate(67.48,907.03) scale(1.0227,1)" font-size="27.26" font-weight="normal" fill="#000">100</text>
<text transform="translate(98.51,942.34) scale(1.0368,1)" font-size="26.84" font-weight="normal" fill="#000">0</text>
<text transform="translate(67.48,995.63) scale(1.0227,1)" font-size="27.26" font-weight="normal" fill="#000">100</text>
<text transform="translate(98.51,1030.94) scale(1.0368,1)" font-size="26.84" font-weight="normal" fill="#000">0</text>
<text transform="translate(67.48,1083.83) scale(1.0227,1)" font-size="27.26" font-weight="normal" fill="#000">100</text>
<text transform="translate(98.51,1119.14) scale(1.0368,1)" font-size="26.84" font-weight="normal" fill="#000">0</text>
<text transform="translate(67.48,1171.43) scale(1.0227,1)" font-size="27.26" font-weight="normal" fill="#000">100</text>
<text transform="translate(98.51,1206.74) scale(1.0368,1)" font-size="26.84" font-weight="normal" fill="#000">0</text>
<text transform="translate(67.48,1260.13) scale(1.0227,1)" font-size="27.26" font-weight="normal" fill="#000">100</text>
<text transform="translate(98.51,1295.44) scale(1.0368,1)" font-size="26.84" font-weight="normal" fill="#000">0</text>
<text transform="translate(183.81,684.13) scale(1.0126,1)" font-size="27.68" font-weight="normal" fill="#000">0</text>
<text transform="translate(185.31,1351.34) scale(1.0391,1)" font-size="26.98" font-weight="normal" fill="#000">0</text>
<text transform="translate(383.83,684.13) scale(1.0209,1)" font-size="27.68" font-weight="normal" fill="#000">3</text>
<text transform="translate(385.33,1351.34) scale(1.0477,1)" font-size="26.98" font-weight="normal" fill="#000">3</text>
<text transform="translate(583.45,684.13) scale(1.0490,1)" font-size="27.68" font-weight="normal" fill="#000">6</text>
<text transform="translate(584.95,1351.34) scale(1.0765,1)" font-size="26.98" font-weight="normal" fill="#000">6</text>
<text transform="translate(355.86,1383.49) scale(1.1524,1)" font-size="32.42" font-weight="normal" fill="#000">T (s)</text>
<text transform="translate(13.11,715.38) scale(0.9926,1)" font-size="53.38" font-weight="bold" fill="#000">b</text>
<text transform="translate(53.00,1057.85) rotate(-90) scale(0.9111,1)" font-size="38.52" font-weight="normal" fill="#000">V</text>
<text transform="translate(66.19,1034.11) rotate(-90) scale(1.0178,1)" font-size="21.04" font-weight="normal" fill="#000">OC</text>
<text transform="translate(53.10,990.65) rotate(-90) scale(0.9869,1)" font-size="36.71" font-weight="normal" fill="#000">(V)</text>
<path d="M890.2 757.3 L891.7 756.3 L893.2 757.6 L894.7 757.2 L896.2 757.0 L897.7 756.5 L899.2 756.5 L900.7 757.1 L902.2 757.5 L903.7 756.8 L905.2 757.2 L906.7 756.7 L908.2 756.4 L909.7 757.3 L911.2 756.9 L912.7 757.5 L914.2 756.4 L915.7 757.8 L917.2 757.0 L918.7 756.7 L920.2 757.7 L921.7 757.7 L923.2 757.0 L924.7 756.5 L926.2 757.0 L927.7 757.5 L929.2 756.9 L930.7 757.9 L932.2 757.9 L933.7 757.0 L935.2 756.4 L936.7 756.5 L938.2 757.8 L939.7 756.6 L941.2 757.7 L942.7 757.9 L944.2 757.2 L945.7 756.4 L947.2 757.1 L948.7 757.9 L950.2 755.1 L951.7 755.1 L953.2 757.1 L954.7 757.7 L956.2 757.7 L957.7 757.6 L959.2 756.9 L960.7 757.3 L962.2 757.0 L963.7 757.9 L965.2 756.6 L966.7 757.5 L968.2 757.8 L969.7 757.6 L971.2 757.4 L972.7 757.8 L974.2 756.7 L975.7 757.5 L977.2 756.6 L978.7 757.2 L980.2 757.6 L981.7 757.8 L983.2 756.7 L984.7 756.8 L986.2 756.6 L987.7 757.5 L989.2 756.3 L990.7 756.9 L992.2 756.5 L993.7 757.6 L995.2 754.9 L996.7 757.0 L998.2 756.8 L999.7 756.5 L1001.2 757.5 L1002.7 756.5 L1004.2 757.0 L1005.7 757.4 L1007.2 756.6 L1008.7 757.5 L1010.2 757.0 L1011.7 757.1 L1013.2 756.3 L1014.7 757.6 L1016.2 757.5 L1017.7 756.5 L1019.2 757.8 L1020.7 756.6 L1022.2 757.9 L1023.7 755.8 L1025.2 757.2 L1026.7 757.3 L1028.2 756.8 L1029.7 757.9 L1031.2 757.5 L1032.7 758.6 L1034.2 757.6 L1035.7 757.5 L1037.2 757.3 L1038.7 757.8 L1040.2 756.7 L1041.7 756.7 L1043.2 757.3 L1044.7 757.1 L1046.2 757.7 L1047.7 757.7 L1049.2 757.2 L1050.7 759.3 L1052.2 757.2 L1053.7 757.2 L1055.2 757.0 L1056.7 756.8 L1058.2 757.3 L1059.7 756.8 L1061.2 757.0 L1062.7 757.6 L1064.2 757.1 L1065.7 756.7 L1067.2 756.4 L1068.7 756.5 L1070.2 757.5 L1071.7 756.8 L1073.2 757.0 L1074.7 757.0 L1076.2 756.3 L1077.7 756.6 L1079.2 757.6 L1080.7 756.7 L1082.2 757.0 L1083.7 757.2 L1085.2 757.1 L1086.7 757.6 L1088.2 756.4 L1089.7 756.3 L1091.2 757.3 L1092.7 757.4 L1094.2 757.2 L1095.7 757.0 L1097.2 756.3 L1098.7 756.6 L1100.2 757.1 L1101.7 756.5 L1103.2 757.9 L1104.7 756.7 L1106.2 757.0 L1107.7 757.4 L1109.2 756.9 L1110.7 756.9 L1112.2 756.8 L1113.7 756.1 L1115.2 757.5 L1116.7 756.6 L1118.2 757.5 L1119.7 757.3 L1121.2 756.8 L1122.7 756.9 L1124.2 759.1 L1125.7 757.3 L1127.2 757.2 L1128.7 755.1 L1130.2 757.6 L1131.7 756.7 L1133.2 756.7 L1134.7 756.5 L1136.2 757.4 L1137.7 756.8 L1139.2 757.7 L1140.7 756.4 L1142.2 756.9 L1143.7 756.8 L1145.2 758.5 L1146.7 757.0 L1148.2 756.9 L1149.7 757.0 L1151.2 757.8 L1152.7 757.6 L1154.2 758.4 L1155.7 757.4 L1157.2 757.7 L1158.7 757.1 L1160.2 756.8 L1161.7 757.2 L1163.2 755.0 L1164.7 756.6 L1166.2 757.1 L1167.7 757.7 L1169.2 758.7 L1170.7 757.4 L1172.2 757.0 L1173.7 756.8 L1175.2 756.6 L1176.7 756.4 L1178.2 756.5 L1179.7 757.1 L1181.2 757.0 L1182.7 756.3 L1184.2 756.9 L1185.7 756.8 L1187.2 757.0 L1188.7 757.5 L1190.2 756.5 L1191.7 756.8 L1193.2 756.6 L1194.7 757.7 L1196.2 756.4 L1197.7 757.7 L1199.2 757.7 L1200.7 757.7 L1202.2 756.5 L1203.7 756.5 L1205.2 757.5 L1206.7 757.2 L1208.2 757.6 L1209.7 756.8 L1211.2 757.2 L1212.7 756.9 L1214.2 757.2 L1215.7 756.5 L1217.2 756.7 L1218.7 757.0 L1220.2 756.6 L1221.7 757.8 L1223.2 757.2 L1224.7 757.4 L1226.2 756.7 L1227.7 756.8 L1229.2 757.8 L1230.7 757.3 L1232.2 756.6 L1233.7 756.3 L1235.2 757.7 L1236.7 756.4 L1238.2 757.2 L1239.7 755.0 L1241.2 756.5 L1242.7 757.7 L1244.2 757.5 L1245.7 757.4 L1247.2 757.7 L1248.7 757.8 L1250.2 756.7 L1251.7 759.0 L1253.2 757.3 L1254.7 757.5 L1256.2 756.6 L1257.7 757.2 L1259.2 757.6 L1260.7 757.2 L1262.2 757.0 L1263.7 757.9 L1265.2 757.7 L1266.7 757.0 L1268.2 756.5 L1269.7 757.1 L1271.2 757.4 L1272.7 755.1" stroke="#808080" stroke-width="5.50" fill="none"/>
<path d="M890.2 843.6 L891.7 843.8 L893.2 843.3 L894.7 843.4 L896.2 843.3 L897.7 843.1 L899.2 843.9 L900.7 844.4 L902.2 844.0 L903.7 843.2 L905.2 844.4 L906.7 843.3 L908.2 843.7 L909.7 842.8 L911.2 844.4 L912.7 844.6 L914.2 844.6 L915.7 842.9 L917.2 842.0 L918.7 845.1 L920.2 844.3 L921.7 844.3 L923.2 844.4 L924.7 843.4 L926.2 843.1 L927.7 843.3 L929.2 843.7 L930.7 844.5 L932.2 843.6 L933.7 843.1 L935.2 843.1 L936.7 843.0 L938.2 843.4 L939.7 845.7 L941.2 843.9 L942.7 844.4 L944.2 843.2 L945.7 843.5 L947.2 843.1 L948.7 843.3 L950.2 844.1 L951.7 842.6 L953.2 843.9 L954.7 843.3 L956.2 843.7 L957.7 843.5 L959.2 843.8 L960.7 844.6 L962.2 844.4 L963.7 843.1 L965.2 843.0 L966.7 844.3 L968.2 843.1 L969.7 844.3 L971.2 843.1 L972.7 844.5 L974.2 842.6 L975.7 843.2 L977.2 844.3 L978.7 843.5 L980.2 843.0 L981.7 843.0 L983.2 843.3 L984.7 842.9 L986.2 843.8 L987.7 843.8 L989.2 843.2 L990.7 843.2 L992.2 843.3 L993.7 843.9 L995.2 844.6 L996.7 842.9 L998.2 844.1 L999.7 844.0 L1001.2 843.1 L1002.7 845.7 L1004.2 843.4 L1005.7 843.9 L1007.2 843.2 L1008.7 844.4 L1010.2 844.6 L1011.7 844.4 L1013.2 845.5 L1014.7 842.4 L1016.2 844.1 L1017.7 843.9 L1019.2 843.3 L1020.7 844.6 L1022.2 843.9 L1023.7 844.1 L1025.2 844.6 L1026.7 843.5 L1028.2 844.5 L1029.7 844.5 L1031.2 843.6 L1032.7 844.2 L1034.2 841.9 L1035.7 843.0 L1037.2 844.5 L1038.7 843.4 L1040.2 843.7 L1041.7 844.2 L1043.2 844.2 L1044.7 843.4 L1046.2 844.1 L1047.7 842.9 L1049.2 843.8 L1050.7 844.0 L1052.2 844.3 L1053.7 844.0 L1055.2 844.6 L1056.7 844.2 L1058.2 843.9 L1059.7 843.7 L1061.2 845.5 L1062.7 844.9 L1064.2 843.1 L1065.7 844.0 L1067.2 843.3 L1068.7 844.0 L1070.2 843.0 L1071.7 844.1 L1073.2 843.0 L1074.7 844.1 L1076.2 843.0 L1077.7 844.0 L1079.2 846.2 L1080.7 844.4 L1082.2 843.4 L1083.7 844.0 L1085.2 843.3 L1086.7 844.5 L1088.2 842.9 L1089.7 844.3 L1091.2 844.1 L1092.7 841.6 L1094.2 844.1 L1095.7 844.1 L1097.2 844.3 L1098.7 844.5 L1100.2 843.2 L1101.7 843.2 L1103.2 844.7 L1104.7 844.0 L1106.2 843.9 L1107.7 844.5 L1109.2 846.0 L1110.7 843.2 L1112.2 844.0 L1113.7 843.5 L1115.2 845.0 L1116.7 843.5 L1118.2 844.7 L1119.7 844.7 L1121.2 843.4 L1122.7 843.4 L1124.2 843.7 L1125.7 843.3 L1127.2 844.6 L1128.7 843.7 L1130.2 844.2 L1131.7 844.4 L1133.2 844.4 L1134.7 843.8 L1136.2 843.3 L1137.7 843.9 L1139.2 843.2 L1140.7 844.4 L1142.2 843.0 L1143.7 841.9 L1145.2 843.9 L1146.7 844.3 L1148.2 843.1 L1149.7 843.4 L1151.2 844.1 L1152.7 843.6 L1154.2 843.9 L1155.7 844.6 L1157.2 843.3 L1158.7 844.4 L1160.2 842.8 L1161.7 843.7 L1163.2 843.4 L1164.7 843.1 L1166.2 843.2 L1167.7 843.7 L1169.2 844.7 L1170.7 843.5 L1172.2 844.6 L1173.7 843.2 L1175.2 844.0 L1176.7 843.8 L1178.2 844.4 L1179.7 844.2 L1181.2 844.6 L1182.7 846.0 L1184.2 843.3 L1185.7 843.2 L1187.2 841.7 L1188.7 844.5 L1190.2 844.0 L1191.7 843.6 L1193.2 844.4 L1194.7 842.9 L1196.2 844.0 L1197.7 843.0 L1199.2 843.3 L1200.7 844.3 L1202.2 843.3 L1203.7 843.3 L1205.2 844.4 L1206.7 843.1 L1208.2 844.3 L1209.7 844.4 L1211.2 843.9 L1212.7 844.4 L1214.2 844.7 L1215.7 843.7 L1217.2 843.3 L1218.7 842.9 L1220.2 843.4 L1221.7 844.0 L1223.2 843.3 L1224.7 844.1 L1226.2 844.4 L1227.7 844.1 L1229.2 843.3 L1230.7 843.3 L1232.2 843.8 L1233.7 843.3 L1235.2 843.3 L1236.7 844.7 L1238.2 843.8 L1239.7 843.8 L1241.2 843.1 L1242.7 844.1 L1244.2 844.5 L1245.7 843.7 L1247.2 845.2 L1248.7 844.0 L1250.2 844.3 L1251.7 843.5 L1253.2 843.4 L1254.7 844.4 L1256.2 844.7 L1257.7 844.6 L1259.2 844.3 L1260.7 843.2 L1262.2 843.6 L1263.7 842.1 L1265.2 843.7 L1266.7 843.5 L1268.2 844.0 L1269.7 843.5 L1271.2 844.5 L1272.7 843.1" stroke="#00ff00" stroke-width="5.00" fill="none"/>
<g stroke="#00ff00" stroke-width="2.7">
<line x1="1033.8" y1="843.8" x2="1033.8" y2="826.0"/>
<line x1="1047.0" y1="843.8" x2="1047.0" y2="828.1"/>
<line x1="1060.3" y1="843.8" x2="1060.3" y2="822.6"/>
<line x1="1073.5" y1="843.8" x2="1073.5" y2="825.3"/>
<line x1="1086.8" y1="843.8" x2="1086.8" y2="831.6"/>
<line x1="1100.0" y1="843.8" x2="1100.0" y2="830.6"/>
<line x1="1113.3" y1="843.8" x2="1113.3" y2="824.7"/>
<line x1="1126.5" y1="843.8" x2="1126.5" y2="831.6"/>
<line x1="1139.8" y1="843.8" x2="1139.8" y2="828.1"/>
<line x1="1153.0" y1="843.8" x2="1153.0" y2="827.1"/>
<line x1="1166.3" y1="843.8" x2="1166.3" y2="832.3"/>
<line x1="1179.5" y1="843.8" x2="1179.5" y2="828.1"/>
<line x1="1192.8" y1="843.8" x2="1192.8" y2="835.1"/>
<line x1="1206.0" y1="843.8" x2="1206.0" y2="835.1"/>
<line x1="1219.3" y1="843.8" x2="1219.3" y2="828.1"/>
<line x1="1232.5" y1="843.8" x2="1232.5" y2="828.1"/>
<line x1="1245.8" y1="843.8" x2="1245.8" y2="830.6"/>
<line x1="1259.0" y1="843.8" x2="1259.0" y2="828.1"/>
<line x1="1272.3" y1="843.8" x2="1272.3" y2="834.0"/>
<line x1="1020.5" y1="843.8" x2="1020.5" y2="823.8"/>
<line x1="1007.3" y1="843.8" x2="1007.3" y2="823.8"/>
<line x1="994.0" y1="843.8" x2="994.0" y2="823.8"/>
<line x1="980.8" y1="843.8" x2="980.8" y2="823.8"/>
<line x1="967.5" y1="843.8" x2="967.5" y2="823.8"/>
<line x1="954.3" y1="843.8" x2="954.3" y2="823.8"/>
<line x1="941.0" y1="843.8" x2="941.0" y2="823.8"/>
<line x1="927.8" y1="843.8" x2="927.8" y2="823.8"/>
<line x1="914.5" y1="843.8" x2="914.5" y2="823.8"/>
<line x1="901.3" y1="843.8" x2="901.3" y2="823.8"/>
<line x1="897.0" y1="843.8" x2="897.0" y2="863.0"/>
<line x1="910.2" y1="843.8" x2="910.2" y2="857.4"/>
<line x1="923.5" y1="843.8" x2="923.5" y2="859.5"/>
<line x1="936.8" y1="843.8" x2="936.8" y2="853.2"/>
<line x1="950.0" y1="843.8" x2="950.0" y2="858.4"/>
<line x1="963.2" y1="843.8" x2="963.2" y2="859.5"/>
<line x1="976.5" y1="843.8" x2="976.5" y2="860.9"/>
<line x1="989.8" y1="843.8" x2="989.8" y2="860.2"/>
<line x1="1003.0" y1="843.8" x2="1003.0" y2="856.0"/>
<line x1="1016.2" y1="843.8" x2="1016.2" y2="852.5"/>
<line x1="1029.5" y1="843.8" x2="1029.5" y2="853.2"/>
<line x1="1042.8" y1="843.8" x2="1042.8" y2="853.2"/>
<line x1="1056.0" y1="843.8" x2="1056.0" y2="854.9"/>
<line x1="1069.2" y1="843.8" x2="1069.2" y2="853.2"/>
<line x1="1082.5" y1="843.8" x2="1082.5" y2="853.2"/>
<line x1="1095.8" y1="843.8" x2="1095.8" y2="857.4"/>
<line x1="1109.0" y1="843.8" x2="1109.0" y2="863.6"/>
<line x1="1122.2" y1="843.8" x2="1122.2" y2="861.9"/>
<line x1="1135.5" y1="843.8" x2="1135.5" y2="856.0"/>
<line x1="1148.8" y1="843.8" x2="1148.8" y2="853.2"/>
<line x1="1162.0" y1="843.8" x2="1162.0" y2="860.2"/>
<line x1="1175.2" y1="843.8" x2="1175.2" y2="853.2"/>
<line x1="1188.5" y1="843.8" x2="1188.5" y2="863.0"/>
<line x1="1201.8" y1="843.8" x2="1201.8" y2="853.2"/>
<line x1="1215.0" y1="843.8" x2="1215.0" y2="849.7"/>
<line x1="1228.2" y1="843.8" x2="1228.2" y2="858.4"/>
<line x1="1241.5" y1="843.8" x2="1241.5" y2="857.4"/>
<line x1="1254.8" y1="843.8" x2="1254.8" y2="854.9"/>
<line x1="1268.0" y1="843.8" x2="1268.0" y2="856.0"/>
</g>
<path d="M890.2 932.3 L891.7 931.6 L893.2 932.4 L894.7 931.0 L896.2 931.3 L897.7 931.8 L899.2 931.6 L900.7 931.6 L902.2 930.7 L903.7 930.7 L905.2 932.0 L906.7 931.5 L908.2 932.3 L909.7 932.0 L911.2 932.4 L912.7 931.0 L914.2 931.0 L915.7 932.3 L917.2 932.1 L918.7 932.5 L920.2 931.3 L921.7 931.9 L923.2 931.1 L924.7 931.7 L926.2 932.2 L927.7 931.0 L929.2 932.1 L930.7 932.3 L932.2 929.4 L933.7 931.8 L935.2 931.2 L936.7 931.1 L938.2 931.9 L939.7 930.5 L941.2 931.1 L942.7 931.9 L944.2 932.1 L945.7 931.9 L947.2 931.0 L948.7 931.6 L950.2 931.9 L951.7 931.9 L953.2 932.2 L954.7 931.2 L956.2 931.5 L957.7 930.7 L959.2 931.8 L960.7 931.4 L962.2 930.6 L963.7 931.8 L965.2 932.1 L966.7 933.9 L968.2 931.5 L969.7 931.7 L971.2 931.5 L972.7 931.8 L974.2 931.5 L975.7 931.5 L977.2 931.2 L978.7 931.8 L980.2 930.6 L981.7 931.1 L983.2 930.6 L984.7 931.7 L986.2 932.1 L987.7 931.9 L989.2 931.9 L990.7 931.5 L992.2 930.9 L993.7 931.5 L995.2 931.0 L996.7 932.0 L998.2 931.8 L999.7 932.2 L1001.2 931.2 L1002.7 931.3 L1004.2 931.4 L1005.7 931.9 L1007.2 931.8 L1008.7 930.8 L1010.2 932.6 L1011.7 930.8 L1013.2 932.4 L1014.7 931.0 L1016.2 930.7 L1017.7 930.8 L1019.2 931.5 L1020.7 932.3 L1022.2 933.2 L1023.7 932.0 L1025.2 932.2 L1026.7 931.8 L1028.2 931.2 L1029.7 930.8 L1031.2 930.8 L1032.7 931.4 L1034.2 931.4 L1035.7 931.7 L1037.2 931.7 L1038.7 930.7 L1040.2 932.2 L1041.7 931.8 L1043.2 931.8 L1044.7 932.2 L1046.2 931.4 L1047.7 930.9 L1049.2 932.2 L1050.7 931.1 L1052.2 932.1 L1053.7 930.9 L1055.2 932.0 L1056.7 933.1 L1058.2 931.4 L1059.7 931.7 L1061.2 931.5 L1062.7 931.1 L1064.2 932.3 L1065.7 930.8 L1067.2 931.8 L1068.7 932.2 L1070.2 932.2 L1071.7 931.6 L1073.2 932.2 L1074.7 932.2 L1076.2 930.8 L1077.7 931.5 L1079.2 930.9 L1080.7 931.5 L1082.2 931.3 L1083.7 931.6 L1085.2 931.3 L1086.7 931.9 L1088.2 930.6 L1089.7 931.0 L1091.2 931.8 L1092.7 931.4 L1094.2 931.4 L1095.7 931.2 L1097.2 931.0 L1098.7 932.4 L1100.2 931.1 L1101.7 932.0 L1103.2 931.1 L1104.7 931.5 L1106.2 930.7 L1107.7 931.2 L1109.2 931.7 L1110.7 932.4 L1112.2 931.9 L1113.7 932.0 L1115.2 931.2 L1116.7 930.8 L1118.2 932.3 L1119.7 931.5 L1121.2 932.0 L1122.7 932.2 L1124.2 932.1 L1125.7 931.7 L1127.2 930.7 L1128.7 931.0 L1130.2 931.2 L1131.7 930.8 L1133.2 932.0 L1134.7 931.7 L1136.2 931.4 L1137.7 930.8 L1139.2 932.2 L1140.7 931.3 L1142.2 930.7 L1143.7 932.1 L1145.2 931.8 L1146.7 931.4 L1148.2 930.7 L1149.7 931.9 L1151.2 930.8 L1152.7 932.1 L1154.2 930.7 L1155.7 931.5 L1157.2 930.6 L1158.7 930.8 L1160.2 931.3 L1161.7 932.3 L1163.2 931.6 L1164.7 931.4 L1166.2 931.2 L1167.7 932.0 L1169.2 932.1 L1170.7 932.2 L1172.2 930.9 L1173.7 930.9 L1175.2 931.7 L1176.7 930.6 L1178.2 932.1 L1179.7 931.6 L1181.2 930.8 L1182.7 931.7 L1184.2 932.0 L1185.7 931.0 L1187.2 932.2 L1188.7 932.3 L1190.2 931.7 L1191.7 931.5 L1193.2 931.5 L1194.7 929.3 L1196.2 931.4 L1197.7 932.0 L1199.2 930.7 L1200.7 931.1 L1202.2 932.1 L1203.7 931.1 L1205.2 932.2 L1206.7 932.2 L1208.2 932.1 L1209.7 929.7 L1211.2 931.4 L1212.7 931.4 L1214.2 931.1 L1215.7 931.6 L1217.2 930.7 L1218.7 933.1 L1220.2 932.1 L1221.7 932.4 L1223.2 931.4 L1224.7 930.9 L1226.2 931.7 L1227.7 930.7 L1229.2 931.2 L1230.7 930.6 L1232.2 930.7 L1233.7 931.7 L1235.2 932.9 L1236.7 930.7 L1238.2 929.5 L1239.7 931.3 L1241.2 931.6 L1242.7 930.7 L1244.2 932.1 L1245.7 931.2 L1247.2 931.4 L1248.7 930.7 L1250.2 931.8 L1251.7 931.9 L1253.2 932.4 L1254.7 930.9 L1256.2 931.1 L1257.7 931.3 L1259.2 930.8 L1260.7 930.8 L1262.2 932.2 L1263.7 931.6 L1265.2 931.2 L1266.7 930.9 L1268.2 930.7 L1269.7 931.8 L1271.2 932.0 L1272.7 930.7" stroke="#808000" stroke-width="5.00" fill="none"/>
<g stroke="#808000" stroke-width="2.7">
<line x1="1040.5" y1="931.5" x2="1040.5" y2="917.6"/>
<line x1="1053.8" y1="931.5" x2="1053.8" y2="912.0"/>
<line x1="1067.0" y1="931.5" x2="1067.0" y2="909.6"/>
<line x1="1080.2" y1="931.5" x2="1080.2" y2="914.1"/>
<line x1="1093.5" y1="931.5" x2="1093.5" y2="918.3"/>
<line x1="1106.8" y1="931.5" x2="1106.8" y2="912.0"/>
<line x1="1120.0" y1="931.5" x2="1120.0" y2="907.2"/>
<line x1="1133.2" y1="931.5" x2="1133.2" y2="918.3"/>
<line x1="1146.5" y1="931.5" x2="1146.5" y2="915.5"/>
<line x1="1159.8" y1="931.5" x2="1159.8" y2="916.6"/>
<line x1="1173.0" y1="931.5" x2="1173.0" y2="908.6"/>
<line x1="1186.2" y1="931.5" x2="1186.2" y2="912.0"/>
<line x1="1199.5" y1="931.5" x2="1199.5" y2="918.3"/>
<line x1="1212.8" y1="931.5" x2="1212.8" y2="914.8"/>
<line x1="1226.0" y1="931.5" x2="1226.0" y2="914.8"/>
<line x1="1239.2" y1="931.5" x2="1239.2" y2="910.6"/>
<line x1="1252.5" y1="931.5" x2="1252.5" y2="912.0"/>
<line x1="1265.8" y1="931.5" x2="1265.8" y2="914.1"/>
<line x1="1027.2" y1="931.5" x2="1027.2" y2="911.5"/>
<line x1="1014.0" y1="931.5" x2="1014.0" y2="911.5"/>
<line x1="1000.8" y1="931.5" x2="1000.8" y2="911.5"/>
<line x1="987.5" y1="931.5" x2="987.5" y2="911.5"/>
<line x1="974.2" y1="931.5" x2="974.2" y2="911.5"/>
<line x1="961.0" y1="931.5" x2="961.0" y2="911.5"/>
<line x1="947.8" y1="931.5" x2="947.8" y2="911.5"/>
<line x1="934.5" y1="931.5" x2="934.5" y2="911.5"/>
<line x1="921.2" y1="931.5" x2="921.2" y2="911.5"/>
<line x1="908.0" y1="931.5" x2="908.0" y2="911.5"/>
<line x1="890.0" y1="931.5" x2="890.0" y2="951.4"/>
<line x1="903.2" y1="931.5" x2="903.2" y2="942.7"/>
<line x1="916.5" y1="931.5" x2="916.5" y2="952.4"/>
<line x1="929.8" y1="931.5" x2="929.8" y2="954.9"/>
<line x1="943.0" y1="931.5" x2="943.0" y2="951.4"/>
<line x1="956.2" y1="931.5" x2="956.2" y2="955.9"/>
<line x1="969.5" y1="931.5" x2="969.5" y2="944.4"/>
<line x1="982.8" y1="931.5" x2="982.8" y2="958.3"/>
<line x1="996.0" y1="931.5" x2="996.0" y2="954.9"/>
<line x1="1009.2" y1="931.5" x2="1009.2" y2="945.5"/>
<line x1="1022.5" y1="931.5" x2="1022.5" y2="949.6"/>
<line x1="1035.8" y1="931.5" x2="1035.8" y2="957.3"/>
<line x1="1049.0" y1="931.5" x2="1049.0" y2="951.4"/>
<line x1="1062.2" y1="931.5" x2="1062.2" y2="953.8"/>
<line x1="1075.5" y1="931.5" x2="1075.5" y2="940.9"/>
<line x1="1088.8" y1="931.5" x2="1088.8" y2="953.8"/>
<line x1="1102.0" y1="931.5" x2="1102.0" y2="951.4"/>
<line x1="1115.2" y1="931.5" x2="1115.2" y2="959.4"/>
<line x1="1128.5" y1="931.5" x2="1128.5" y2="955.9"/>
<line x1="1141.8" y1="931.5" x2="1141.8" y2="951.4"/>
<line x1="1155.0" y1="931.5" x2="1155.0" y2="948.9"/>
<line x1="1168.2" y1="931.5" x2="1168.2" y2="951.4"/>
<line x1="1181.5" y1="931.5" x2="1181.5" y2="942.7"/>
<line x1="1194.8" y1="931.5" x2="1194.8" y2="948.9"/>
<line x1="1208.0" y1="931.5" x2="1208.0" y2="946.9"/>
<line x1="1221.2" y1="931.5" x2="1221.2" y2="955.9"/>
<line x1="1234.5" y1="931.5" x2="1234.5" y2="946.9"/>
<line x1="1247.8" y1="931.5" x2="1247.8" y2="951.4"/>
<line x1="1261.0" y1="931.5" x2="1261.0" y2="940.9"/>
</g>
<path d="M890.2 1017.8 L891.7 1018.1 L893.2 1019.4 L894.7 1018.6 L896.2 1018.4 L897.7 1019.2 L899.2 1018.7 L900.7 1018.8 L902.2 1018.4 L903.7 1019.4 L905.2 1018.9 L906.7 1019.4 L908.2 1018.3 L909.7 1018.8 L911.2 1019.0 L912.7 1019.0 L914.2 1018.2 L915.7 1019.5 L917.2 1019.5 L918.7 1019.3 L920.2 1019.2 L921.7 1017.9 L923.2 1018.3 L924.7 1019.3 L926.2 1018.2 L927.7 1019.3 L929.2 1019.5 L930.7 1019.1 L932.2 1018.0 L933.7 1017.8 L935.2 1018.9 L936.7 1018.0 L938.2 1017.8 L939.7 1017.9 L941.2 1018.2 L942.7 1017.7 L944.2 1018.8 L945.7 1020.5 L947.2 1018.0 L948.7 1018.0 L950.2 1018.6 L951.7 1018.7 L953.2 1017.8 L954.7 1018.0 L956.2 1018.9 L957.7 1020.8 L959.2 1018.5 L960.7 1018.2 L962.2 1017.8 L963.7 1018.6 L965.2 1018.3 L966.7 1018.6 L968.2 1018.2 L969.7 1018.0 L971.2 1018.3 L972.7 1018.3 L974.2 1018.9 L975.7 1019.5 L977.2 1020.6 L978.7 1018.1 L980.2 1018.2 L981.7 1018.9 L983.2 1018.7 L984.7 1018.0 L986.2 1019.1 L987.7 1018.9 L989.2 1018.5 L990.7 1018.1 L992.2 1018.2 L993.7 1018.2 L995.2 1018.4 L996.7 1018.9 L998.2 1018.9 L999.7 1018.4 L1001.2 1019.5 L1002.7 1018.3 L1004.2 1018.7 L1005.7 1017.7 L1007.2 1018.6 L1008.7 1019.0 L1010.2 1019.0 L1011.7 1020.6 L1013.2 1019.1 L1014.7 1019.0 L1016.2 1018.6 L1017.7 1019.3 L1019.2 1019.1 L1020.7 1017.7 L1022.2 1019.0 L1023.7 1018.0 L1025.2 1018.5 L1026.7 1017.0 L1028.2 1017.9 L1029.7 1017.8 L1031.2 1018.8 L1032.7 1018.6 L1034.2 1018.5 L1035.7 1018.9 L1037.2 1017.7 L1038.7 1017.9 L1040.2 1019.1 L1041.7 1018.8 L1043.2 1019.6 L1044.7 1018.2 L1046.2 1018.7 L1047.7 1018.8 L1049.2 1018.0 L1050.7 1018.6 L1052.2 1018.8 L1053.7 1018.4 L1055.2 1018.0 L1056.7 1018.2 L1058.2 1019.3 L1059.7 1018.9 L1061.2 1019.4 L1062.7 1020.2 L1064.2 1019.4 L1065.7 1018.7 L1067.2 1018.8 L1068.7 1017.7 L1070.2 1019.1 L1071.7 1019.3 L1073.2 1020.4 L1074.7 1019.1 L1076.2 1019.0 L1077.7 1018.9 L1079.2 1016.4 L1080.7 1018.1 L1082.2 1019.1 L1083.7 1018.0 L1085.2 1018.8 L1086.7 1019.0 L1088.2 1018.5 L1089.7 1020.9 L1091.2 1020.7 L1092.7 1018.2 L1094.2 1016.5 L1095.7 1019.2 L1097.2 1017.8 L1098.7 1016.2 L1100.2 1020.7 L1101.7 1016.7 L1103.2 1018.1 L1104.7 1019.2 L1106.2 1018.6 L1107.7 1019.1 L1109.2 1018.3 L1110.7 1019.0 L1112.2 1018.7 L1113.7 1019.3 L1115.2 1018.3 L1116.7 1019.3 L1118.2 1019.0 L1119.7 1020.6 L1121.2 1018.4 L1122.7 1020.5 L1124.2 1017.7 L1125.7 1018.7 L1127.2 1018.3 L1128.7 1018.7 L1130.2 1019.0 L1131.7 1018.9 L1133.2 1019.3 L1134.7 1018.1 L1136.2 1019.2 L1137.7 1019.0 L1139.2 1019.2 L1140.7 1018.8 L1142.2 1018.3 L1143.7 1019.2 L1145.2 1018.7 L1146.7 1019.4 L1148.2 1019.1 L1149.7 1019.2 L1151.2 1018.3 L1152.7 1016.2 L1154.2 1018.6 L1155.7 1019.0 L1157.2 1019.4 L1158.7 1019.0 L1160.2 1018.5 L1161.7 1017.9 L1163.2 1019.0 L1164.7 1018.0 L1166.2 1019.0 L1167.7 1019.4 L1169.2 1017.0 L1170.7 1018.5 L1172.2 1018.7 L1173.7 1018.3 L1175.2 1018.9 L1176.7 1018.3 L1178.2 1019.2 L1179.7 1019.2 L1181.2 1018.7 L1182.7 1018.1 L1184.2 1018.8 L1185.7 1018.7 L1187.2 1020.6 L1188.7 1019.4 L1190.2 1019.0 L1191.7 1018.0 L1193.2 1019.5 L1194.7 1019.0 L1196.2 1020.4 L1197.7 1018.0 L1199.2 1018.9 L1200.7 1018.1 L1202.2 1018.3 L1203.7 1019.6 L1205.2 1019.0 L1206.7 1018.0 L1208.2 1016.8 L1209.7 1019.5 L1211.2 1018.5 L1212.7 1018.0 L1214.2 1018.6 L1215.7 1018.8 L1217.2 1018.0 L1218.7 1018.1 L1220.2 1018.1 L1221.7 1019.2 L1223.2 1019.1 L1224.7 1018.6 L1226.2 1018.6 L1227.7 1019.2 L1229.2 1018.5 L1230.7 1018.7 L1232.2 1018.1 L1233.7 1018.9 L1235.2 1017.7 L1236.7 1018.9 L1238.2 1019.2 L1239.7 1019.3 L1241.2 1018.2 L1242.7 1018.4 L1244.2 1018.1 L1245.7 1018.9 L1247.2 1018.2 L1248.7 1017.8 L1250.2 1019.1 L1251.7 1019.3 L1253.2 1018.4 L1254.7 1019.3 L1256.2 1017.9 L1257.7 1018.2 L1259.2 1018.9 L1260.7 1018.9 L1262.2 1018.2 L1263.7 1016.4 L1265.2 1017.8 L1266.7 1017.9 L1268.2 1017.8 L1269.7 1019.0 L1271.2 1018.8 L1272.7 1018.0" stroke="#ff8000" stroke-width="5.00" fill="none"/>
<g stroke="#ff8000" stroke-width="2.7">
<line x1="1041.5" y1="1018.6" x2="1041.5" y2="998.4"/>
<line x1="1054.8" y1="1018.6" x2="1054.8" y2="1002.6"/>
<line x1="1068.0" y1="1018.6" x2="1068.0" y2="994.9"/>
<line x1="1081.2" y1="1018.6" x2="1081.2" y2="998.4"/>
<line x1="1094.5" y1="1018.6" x2="1094.5" y2="991.4"/>
<line x1="1107.8" y1="1018.6" x2="1107.8" y2="990.7"/>
<line x1="1121.0" y1="1018.6" x2="1121.0" y2="996.6"/>
<line x1="1134.2" y1="1018.6" x2="1134.2" y2="993.2"/>
<line x1="1147.5" y1="1018.6" x2="1147.5" y2="998.4"/>
<line x1="1160.8" y1="1018.6" x2="1160.8" y2="1000.1"/>
<line x1="1174.0" y1="1018.6" x2="1174.0" y2="994.9"/>
<line x1="1187.2" y1="1018.6" x2="1187.2" y2="994.2"/>
<line x1="1200.5" y1="1018.6" x2="1200.5" y2="994.9"/>
<line x1="1213.8" y1="1018.6" x2="1213.8" y2="1001.9"/>
<line x1="1227.0" y1="1018.6" x2="1227.0" y2="994.9"/>
<line x1="1240.2" y1="1018.6" x2="1240.2" y2="994.2"/>
<line x1="1253.5" y1="1018.6" x2="1253.5" y2="1001.2"/>
<line x1="1266.8" y1="1018.6" x2="1266.8" y2="996.6"/>
<line x1="1028.2" y1="1018.6" x2="1028.2" y2="998.6"/>
<line x1="1015.0" y1="1018.6" x2="1015.0" y2="998.6"/>
<line x1="1001.8" y1="1018.6" x2="1001.8" y2="998.6"/>
<line x1="988.5" y1="1018.6" x2="988.5" y2="998.6"/>
<line x1="975.2" y1="1018.6" x2="975.2" y2="998.6"/>
<line x1="962.0" y1="1018.6" x2="962.0" y2="998.6"/>
<line x1="948.8" y1="1018.6" x2="948.8" y2="998.6"/>
<line x1="935.5" y1="1018.6" x2="935.5" y2="998.6"/>
<line x1="922.2" y1="1018.6" x2="922.2" y2="998.6"/>
<line x1="909.0" y1="1018.6" x2="909.0" y2="998.6"/>
<line x1="895.8" y1="1018.6" x2="895.8" y2="998.6"/>
<line x1="891.1" y1="1018.6" x2="891.1" y2="1037.4"/>
<line x1="904.4" y1="1018.6" x2="904.4" y2="1046.4"/>
<line x1="917.6" y1="1018.6" x2="917.6" y2="1040.9"/>
<line x1="930.9" y1="1018.6" x2="930.9" y2="1036.0"/>
<line x1="944.1" y1="1018.6" x2="944.1" y2="1035.0"/>
<line x1="957.4" y1="1018.6" x2="957.4" y2="1043.6"/>
<line x1="970.6" y1="1018.6" x2="970.6" y2="1050.6"/>
<line x1="983.9" y1="1018.6" x2="983.9" y2="1032.5"/>
<line x1="997.1" y1="1018.6" x2="997.1" y2="1041.9"/>
<line x1="1010.4" y1="1018.6" x2="1010.4" y2="1043.6"/>
<line x1="1023.6" y1="1018.6" x2="1023.6" y2="1033.2"/>
<line x1="1036.8" y1="1018.6" x2="1036.8" y2="1041.9"/>
<line x1="1050.1" y1="1018.6" x2="1050.1" y2="1044.3"/>
<line x1="1063.3" y1="1018.6" x2="1063.3" y2="1036.7"/>
<line x1="1076.6" y1="1018.6" x2="1076.6" y2="1049.9"/>
<line x1="1089.8" y1="1018.6" x2="1089.8" y2="1032.5"/>
<line x1="1103.1" y1="1018.6" x2="1103.1" y2="1047.1"/>
<line x1="1116.3" y1="1018.6" x2="1116.3" y2="1036.0"/>
<line x1="1129.6" y1="1018.6" x2="1129.6" y2="1030.4"/>
<line x1="1142.8" y1="1018.6" x2="1142.8" y2="1033.9"/>
<line x1="1156.1" y1="1018.6" x2="1156.1" y2="1043.6"/>
<line x1="1169.3" y1="1018.6" x2="1169.3" y2="1049.9"/>
<line x1="1182.6" y1="1018.6" x2="1182.6" y2="1033.2"/>
<line x1="1195.8" y1="1018.6" x2="1195.8" y2="1044.3"/>
<line x1="1209.1" y1="1018.6" x2="1209.1" y2="1033.9"/>
<line x1="1222.3" y1="1018.6" x2="1222.3" y2="1038.4"/>
<line x1="1235.6" y1="1018.6" x2="1235.6" y2="1044.3"/>
<line x1="1248.8" y1="1018.6" x2="1248.8" y2="1037.4"/>
<line x1="1262.1" y1="1018.6" x2="1262.1" y2="1038.4"/>
</g>
<path d="M890.2 1103.7 L891.7 1105.0 L893.2 1103.9 L894.7 1104.1 L896.2 1103.9 L897.7 1103.6 L899.2 1105.2 L900.7 1104.2 L902.2 1104.2 L903.7 1105.2 L905.2 1104.1 L906.7 1104.3 L908.2 1104.0 L909.7 1104.2 L911.2 1104.9 L912.7 1104.5 L914.2 1104.0 L915.7 1103.6 L917.2 1106.6 L918.7 1104.3 L920.2 1104.2 L921.7 1103.8 L923.2 1104.1 L924.7 1104.3 L926.2 1103.5 L927.7 1103.6 L929.2 1105.1 L930.7 1103.5 L932.2 1104.2 L933.7 1104.4 L935.2 1104.0 L936.7 1103.8 L938.2 1103.9 L939.7 1104.2 L941.2 1105.0 L942.7 1103.6 L944.2 1104.7 L945.7 1102.6 L947.2 1105.0 L948.7 1105.0 L950.2 1104.9 L951.7 1105.1 L953.2 1104.7 L954.7 1103.5 L956.2 1103.8 L957.7 1104.9 L959.2 1103.7 L960.7 1104.0 L962.2 1104.2 L963.7 1104.5 L965.2 1104.9 L966.7 1104.4 L968.2 1104.7 L969.7 1105.1 L971.2 1106.6 L972.7 1104.3 L974.2 1104.9 L975.7 1103.8 L977.2 1104.4 L978.7 1103.9 L980.2 1104.3 L981.7 1104.0 L983.2 1105.0 L984.7 1104.4 L986.2 1105.2 L987.7 1104.4 L989.2 1103.8 L990.7 1104.5 L992.2 1105.2 L993.7 1104.7 L995.2 1104.3 L996.7 1104.5 L998.2 1104.2 L999.7 1103.9 L1001.2 1103.9 L1002.7 1104.6 L1004.2 1103.7 L1005.7 1104.7 L1007.2 1105.3 L1008.7 1105.1 L1010.2 1103.6 L1011.7 1105.1 L1013.2 1104.9 L1014.7 1104.5 L1016.2 1103.6 L1017.7 1104.1 L1019.2 1104.1 L1020.7 1104.3 L1022.2 1104.6 L1023.7 1103.8 L1025.2 1104.1 L1026.7 1104.5 L1028.2 1105.0 L1029.7 1104.1 L1031.2 1106.3 L1032.7 1104.1 L1034.2 1104.9 L1035.7 1105.0 L1037.2 1103.9 L1038.7 1105.3 L1040.2 1105.3 L1041.7 1105.3 L1043.2 1105.1 L1044.7 1104.2 L1046.2 1104.9 L1047.7 1103.7 L1049.2 1105.1 L1050.7 1104.7 L1052.2 1104.5 L1053.7 1103.5 L1055.2 1104.0 L1056.7 1103.8 L1058.2 1104.0 L1059.7 1103.9 L1061.2 1104.4 L1062.7 1105.1 L1064.2 1103.6 L1065.7 1104.8 L1067.2 1104.1 L1068.7 1104.4 L1070.2 1103.6 L1071.7 1103.8 L1073.2 1105.1 L1074.7 1105.1 L1076.2 1106.7 L1077.7 1103.8 L1079.2 1104.6 L1080.7 1104.0 L1082.2 1104.8 L1083.7 1105.2 L1085.2 1103.6 L1086.7 1104.2 L1088.2 1105.1 L1089.7 1103.6 L1091.2 1104.8 L1092.7 1104.0 L1094.2 1104.1 L1095.7 1105.2 L1097.2 1103.8 L1098.7 1103.7 L1100.2 1105.0 L1101.7 1105.2 L1103.2 1103.8 L1104.7 1103.9 L1106.2 1104.8 L1107.7 1104.9 L1109.2 1104.3 L1110.7 1104.3 L1112.2 1105.0 L1113.7 1103.7 L1115.2 1103.6 L1116.7 1104.0 L1118.2 1105.0 L1119.7 1103.7 L1121.2 1104.0 L1122.7 1104.4 L1124.2 1103.6 L1125.7 1105.3 L1127.2 1105.2 L1128.7 1106.6 L1130.2 1104.9 L1131.7 1105.3 L1133.2 1103.5 L1134.7 1105.6 L1136.2 1105.1 L1137.7 1104.7 L1139.2 1104.6 L1140.7 1104.0 L1142.2 1104.5 L1143.7 1103.6 L1145.2 1104.1 L1146.7 1104.2 L1148.2 1104.2 L1149.7 1104.0 L1151.2 1104.0 L1152.7 1103.7 L1154.2 1104.5 L1155.7 1105.1 L1157.2 1105.0 L1158.7 1104.8 L1160.2 1104.0 L1161.7 1104.6 L1163.2 1103.9 L1164.7 1104.3 L1166.2 1104.9 L1167.7 1104.4 L1169.2 1103.9 L1170.7 1105.0 L1172.2 1104.5 L1173.7 1105.1 L1175.2 1103.6 L1176.7 1103.7 L1178.2 1103.6 L1179.7 1105.0 L1181.2 1104.9 L1182.7 1103.7 L1184.2 1104.5 L1185.7 1105.1 L1187.2 1103.6 L1188.7 1103.9 L1190.2 1104.2 L1191.7 1104.0 L1193.2 1105.1 L1194.7 1104.5 L1196.2 1104.9 L1197.7 1104.8 L1199.2 1104.5 L1200.7 1103.7 L1202.2 1104.1 L1203.7 1104.3 L1205.2 1104.9 L1206.7 1104.1 L1208.2 1104.9 L1209.7 1104.6 L1211.2 1103.5 L1212.7 1104.7 L1214.2 1103.6 L1215.7 1105.3 L1217.2 1104.7 L1218.7 1104.0 L1220.2 1104.8 L1221.7 1105.3 L1223.2 1105.4 L1224.7 1105.2 L1226.2 1104.7 L1227.7 1105.3 L1229.2 1104.7 L1230.7 1103.9 L1232.2 1104.7 L1233.7 1104.3 L1235.2 1104.7 L1236.7 1105.1 L1238.2 1104.3 L1239.7 1104.0 L1241.2 1103.5 L1242.7 1103.5 L1244.2 1104.1 L1245.7 1105.0 L1247.2 1104.9 L1248.7 1103.5 L1250.2 1103.6 L1251.7 1104.2 L1253.2 1104.5 L1254.7 1103.5 L1256.2 1103.6 L1257.7 1104.8 L1259.2 1104.4 L1260.7 1103.9 L1262.2 1105.1 L1263.7 1103.6 L1265.2 1103.6 L1266.7 1104.0 L1268.2 1104.1 L1269.7 1103.6 L1271.2 1104.1 L1272.7 1104.3" stroke="#800000" stroke-width="5.00" fill="none"/>
<g stroke="#800000" stroke-width="2.7">
<line x1="1034.5" y1="1104.4" x2="1034.5" y2="1084.6"/>
<line x1="1047.8" y1="1104.4" x2="1047.8" y2="1081.1"/>
<line x1="1061.0" y1="1104.4" x2="1061.0" y2="1082.9"/>
<line x1="1074.2" y1="1104.4" x2="1074.2" y2="1074.2"/>
<line x1="1087.5" y1="1104.4" x2="1087.5" y2="1074.2"/>
<line x1="1100.8" y1="1104.4" x2="1100.8" y2="1077.6"/>
<line x1="1114.0" y1="1104.4" x2="1114.0" y2="1080.1"/>
<line x1="1127.2" y1="1104.4" x2="1127.2" y2="1075.2"/>
<line x1="1140.5" y1="1104.4" x2="1140.5" y2="1080.1"/>
<line x1="1153.8" y1="1104.4" x2="1153.8" y2="1071.7"/>
<line x1="1167.0" y1="1104.4" x2="1167.0" y2="1085.6"/>
<line x1="1180.2" y1="1104.4" x2="1180.2" y2="1084.6"/>
<line x1="1193.5" y1="1104.4" x2="1193.5" y2="1087.0"/>
<line x1="1206.8" y1="1104.4" x2="1206.8" y2="1079.4"/>
<line x1="1220.0" y1="1104.4" x2="1220.0" y2="1088.1"/>
<line x1="1233.2" y1="1104.4" x2="1233.2" y2="1075.2"/>
<line x1="1246.5" y1="1104.4" x2="1246.5" y2="1086.3"/>
<line x1="1259.8" y1="1104.4" x2="1259.8" y2="1082.9"/>
<line x1="1273.0" y1="1104.4" x2="1273.0" y2="1076.6"/>
<line x1="1021.2" y1="1104.4" x2="1021.2" y2="1084.4"/>
<line x1="1008.0" y1="1104.4" x2="1008.0" y2="1084.4"/>
<line x1="994.8" y1="1104.4" x2="994.8" y2="1084.4"/>
<line x1="981.5" y1="1104.4" x2="981.5" y2="1084.4"/>
<line x1="968.2" y1="1104.4" x2="968.2" y2="1084.4"/>
<line x1="955.0" y1="1104.4" x2="955.0" y2="1084.4"/>
<line x1="941.8" y1="1104.4" x2="941.8" y2="1084.4"/>
<line x1="928.5" y1="1104.4" x2="928.5" y2="1084.4"/>
<line x1="915.2" y1="1104.4" x2="915.2" y2="1084.4"/>
<line x1="902.0" y1="1104.4" x2="902.0" y2="1084.4"/>
<line x1="897.0" y1="1104.4" x2="897.0" y2="1126.4"/>
<line x1="910.2" y1="1104.4" x2="910.2" y2="1123.9"/>
<line x1="923.5" y1="1104.4" x2="923.5" y2="1122.9"/>
<line x1="936.8" y1="1104.4" x2="936.8" y2="1134.4"/>
<line x1="950.0" y1="1104.4" x2="950.0" y2="1126.4"/>
<line x1="963.2" y1="1104.4" x2="963.2" y2="1133.3"/>
<line x1="976.5" y1="1104.4" x2="976.5" y2="1138.6"/>
<line x1="989.8" y1="1104.4" x2="989.8" y2="1129.9"/>
<line x1="1003.0" y1="1104.4" x2="1003.0" y2="1138.6"/>
<line x1="1016.2" y1="1104.4" x2="1016.2" y2="1129.9"/>
<line x1="1029.5" y1="1104.4" x2="1029.5" y2="1120.5"/>
<line x1="1042.8" y1="1104.4" x2="1042.8" y2="1123.9"/>
<line x1="1056.0" y1="1104.4" x2="1056.0" y2="1121.2"/>
<line x1="1069.2" y1="1104.4" x2="1069.2" y2="1133.3"/>
<line x1="1082.5" y1="1104.4" x2="1082.5" y2="1133.3"/>
<line x1="1095.8" y1="1104.4" x2="1095.8" y2="1135.1"/>
<line x1="1109.0" y1="1104.4" x2="1109.0" y2="1141.4"/>
<line x1="1122.2" y1="1104.4" x2="1122.2" y2="1135.1"/>
<line x1="1135.5" y1="1104.4" x2="1135.5" y2="1128.1"/>
<line x1="1148.8" y1="1104.4" x2="1148.8" y2="1130.9"/>
<line x1="1162.0" y1="1104.4" x2="1162.0" y2="1135.8"/>
<line x1="1175.2" y1="1104.4" x2="1175.2" y2="1122.9"/>
<line x1="1188.5" y1="1104.4" x2="1188.5" y2="1137.9"/>
<line x1="1201.8" y1="1104.4" x2="1201.8" y2="1120.5"/>
<line x1="1215.0" y1="1104.4" x2="1215.0" y2="1125.3"/>
<line x1="1228.2" y1="1104.4" x2="1228.2" y2="1137.9"/>
<line x1="1241.5" y1="1104.4" x2="1241.5" y2="1142.7"/>
<line x1="1254.8" y1="1104.4" x2="1254.8" y2="1140.3"/>
<line x1="1268.0" y1="1104.4" x2="1268.0" y2="1121.2"/>
</g>
<path d="M890.2 1190.9 L891.7 1191.7 L893.2 1190.9 L894.7 1191.7 L896.2 1191.6 L897.7 1191.9 L899.2 1192.3 L900.7 1192.4 L902.2 1191.1 L903.7 1191.1 L905.2 1190.8 L906.7 1192.2 L908.2 1192.3 L909.7 1191.0 L911.2 1191.7 L912.7 1190.3 L914.2 1190.9 L915.7 1191.6 L917.2 1191.8 L918.7 1191.0 L920.2 1190.9 L921.7 1190.7 L923.2 1191.6 L924.7 1191.1 L926.2 1191.8 L927.7 1191.9 L929.2 1191.6 L930.7 1191.1 L932.2 1192.4 L933.7 1191.2 L935.2 1190.6 L936.7 1192.1 L938.2 1191.7 L939.7 1192.3 L941.2 1192.2 L942.7 1191.8 L944.2 1191.8 L945.7 1191.2 L947.2 1192.4 L948.7 1191.5 L950.2 1192.3 L951.7 1191.4 L953.2 1191.2 L954.7 1191.8 L956.2 1191.2 L957.7 1190.7 L959.2 1192.0 L960.7 1191.9 L962.2 1191.8 L963.7 1192.1 L965.2 1193.5 L966.7 1192.1 L968.2 1191.2 L969.7 1192.1 L971.2 1191.7 L972.7 1190.9 L974.2 1191.6 L975.7 1192.1 L977.2 1191.0 L978.7 1191.4 L980.2 1191.9 L981.7 1191.3 L983.2 1192.3 L984.7 1191.0 L986.2 1191.8 L987.7 1191.1 L989.2 1190.9 L990.7 1192.3 L992.2 1191.8 L993.7 1191.0 L995.2 1191.3 L996.7 1190.7 L998.2 1192.2 L999.7 1192.3 L1001.2 1191.9 L1002.7 1189.8 L1004.2 1190.7 L1005.7 1190.7 L1007.2 1190.8 L1008.7 1191.7 L1010.2 1191.0 L1011.7 1191.1 L1013.2 1191.6 L1014.7 1191.0 L1016.2 1191.0 L1017.7 1191.9 L1019.2 1190.8 L1020.7 1191.3 L1022.2 1192.1 L1023.7 1191.1 L1025.2 1190.6 L1026.7 1191.9 L1028.2 1192.3 L1029.7 1191.1 L1031.2 1192.7 L1032.7 1191.8 L1034.2 1192.2 L1035.7 1191.9 L1037.2 1191.2 L1038.7 1191.4 L1040.2 1191.7 L1041.7 1192.1 L1043.2 1191.4 L1044.7 1192.0 L1046.2 1191.6 L1047.7 1191.1 L1049.2 1191.6 L1050.7 1191.4 L1052.2 1191.8 L1053.7 1190.7 L1055.2 1192.2 L1056.7 1190.8 L1058.2 1191.9 L1059.7 1191.3 L1061.2 1192.0 L1062.7 1190.6 L1064.2 1190.7 L1065.7 1191.8 L1067.2 1192.2 L1068.7 1191.9 L1070.2 1191.4 L1071.7 1191.7 L1073.2 1191.7 L1074.7 1192.0 L1076.2 1190.9 L1077.7 1192.2 L1079.2 1191.2 L1080.7 1191.1 L1082.2 1192.1 L1083.7 1192.2 L1085.2 1190.8 L1086.7 1191.3 L1088.2 1191.5 L1089.7 1191.3 L1091.2 1192.0 L1092.7 1191.1 L1094.2 1191.9 L1095.7 1191.9 L1097.2 1191.4 L1098.7 1190.8 L1100.2 1192.4 L1101.7 1191.4 L1103.2 1191.6 L1104.7 1191.8 L1106.2 1191.6 L1107.7 1191.8 L1109.2 1191.1 L1110.7 1191.1 L1112.2 1192.1 L1113.7 1191.1 L1115.2 1191.6 L1116.7 1191.5 L1118.2 1192.1 L1119.7 1191.7 L1121.2 1191.9 L1122.7 1190.9 L1124.2 1191.6 L1125.7 1192.3 L1127.2 1192.3 L1128.7 1190.0 L1130.2 1191.2 L1131.7 1191.1 L1133.2 1191.0 L1134.7 1190.6 L1136.2 1191.7 L1137.7 1191.2 L1139.2 1192.1 L1140.7 1192.1 L1142.2 1191.6 L1143.7 1192.5 L1145.2 1190.9 L1146.7 1191.3 L1148.2 1192.2 L1149.7 1192.0 L1151.2 1192.0 L1152.7 1191.8 L1154.2 1191.9 L1155.7 1191.7 L1157.2 1192.4 L1158.7 1192.1 L1160.2 1191.4 L1161.7 1192.2 L1163.2 1191.8 L1164.7 1190.9 L1166.2 1191.6 L1167.7 1191.0 L1169.2 1190.8 L1170.7 1192.3 L1172.2 1192.1 L1173.7 1191.6 L1175.2 1190.7 L1176.7 1192.3 L1178.2 1192.0 L1179.7 1191.9 L1181.2 1191.1 L1182.7 1191.3 L1184.2 1191.1 L1185.7 1191.1 L1187.2 1192.8 L1188.7 1191.0 L1190.2 1191.6 L1191.7 1190.1 L1193.2 1192.4 L1194.7 1191.1 L1196.2 1191.6 L1197.7 1192.0 L1199.2 1192.0 L1200.7 1191.8 L1202.2 1192.3 L1203.7 1192.2 L1205.2 1189.4 L1206.7 1191.5 L1208.2 1191.8 L1209.7 1190.7 L1211.2 1192.2 L1212.7 1190.8 L1214.2 1192.4 L1215.7 1191.8 L1217.2 1192.2 L1218.7 1192.1 L1220.2 1191.9 L1221.7 1192.6 L1223.2 1191.4 L1224.7 1191.3 L1226.2 1192.3 L1227.7 1191.2 L1229.2 1190.7 L1230.7 1190.8 L1232.2 1191.6 L1233.7 1191.8 L1235.2 1192.4 L1236.7 1191.3 L1238.2 1192.1 L1239.7 1191.5 L1241.2 1190.7 L1242.7 1193.2 L1244.2 1191.5 L1245.7 1191.7 L1247.2 1191.1 L1248.7 1191.6 L1250.2 1190.8 L1251.7 1191.6 L1253.2 1190.8 L1254.7 1192.2 L1256.2 1191.4 L1257.7 1192.4 L1259.2 1192.1 L1260.7 1191.5 L1262.2 1191.3 L1263.7 1191.1 L1265.2 1191.8 L1266.7 1193.6 L1268.2 1190.6 L1269.7 1191.7 L1271.2 1191.4 L1272.7 1192.3" stroke="#ff00ff" stroke-width="5.00" fill="none"/>
<g stroke="#ff00ff" stroke-width="2.7">
<line x1="1044.3" y1="1191.5" x2="1044.3" y2="1157.7"/>
<line x1="1057.5" y1="1191.5" x2="1057.5" y2="1166.4"/>
<line x1="1070.8" y1="1191.5" x2="1070.8" y2="1171.6"/>
<line x1="1084.0" y1="1191.5" x2="1084.0" y2="1153.2"/>
<line x1="1097.3" y1="1191.5" x2="1097.3" y2="1156.0"/>
<line x1="1110.5" y1="1191.5" x2="1110.5" y2="1160.2"/>
<line x1="1123.8" y1="1191.5" x2="1123.8" y2="1166.4"/>
<line x1="1137.0" y1="1191.5" x2="1137.0" y2="1162.9"/>
<line x1="1150.3" y1="1191.5" x2="1150.3" y2="1159.5"/>
<line x1="1163.5" y1="1191.5" x2="1163.5" y2="1171.6"/>
<line x1="1176.8" y1="1191.5" x2="1176.8" y2="1167.1"/>
<line x1="1190.0" y1="1191.5" x2="1190.0" y2="1161.2"/>
<line x1="1203.3" y1="1191.5" x2="1203.3" y2="1161.2"/>
<line x1="1216.5" y1="1191.5" x2="1216.5" y2="1165.7"/>
<line x1="1229.8" y1="1191.5" x2="1229.8" y2="1158.8"/>
<line x1="1243.0" y1="1191.5" x2="1243.0" y2="1167.1"/>
<line x1="1256.3" y1="1191.5" x2="1256.3" y2="1162.9"/>
<line x1="1269.5" y1="1191.5" x2="1269.5" y2="1158.8"/>
<line x1="1031.0" y1="1191.5" x2="1031.0" y2="1171.5"/>
<line x1="1017.8" y1="1191.5" x2="1017.8" y2="1171.5"/>
<line x1="1004.5" y1="1191.5" x2="1004.5" y2="1171.5"/>
<line x1="991.3" y1="1191.5" x2="991.3" y2="1171.5"/>
<line x1="978.0" y1="1191.5" x2="978.0" y2="1171.5"/>
<line x1="964.8" y1="1191.5" x2="964.8" y2="1171.5"/>
<line x1="951.5" y1="1191.5" x2="951.5" y2="1171.5"/>
<line x1="938.3" y1="1191.5" x2="938.3" y2="1171.5"/>
<line x1="925.0" y1="1191.5" x2="925.0" y2="1171.5"/>
<line x1="911.8" y1="1191.5" x2="911.8" y2="1171.5"/>
<line x1="898.5" y1="1191.5" x2="898.5" y2="1171.5"/>
<line x1="893.5" y1="1191.5" x2="893.5" y2="1229.1"/>
<line x1="906.8" y1="1191.5" x2="906.8" y2="1219.3"/>
<line x1="920.0" y1="1191.5" x2="920.0" y2="1219.3"/>
<line x1="933.2" y1="1191.5" x2="933.2" y2="1213.4"/>
<line x1="946.5" y1="1191.5" x2="946.5" y2="1230.8"/>
<line x1="959.8" y1="1191.5" x2="959.8" y2="1229.1"/>
<line x1="973.0" y1="1191.5" x2="973.0" y2="1211.7"/>
<line x1="986.2" y1="1191.5" x2="986.2" y2="1223.9"/>
<line x1="999.5" y1="1191.5" x2="999.5" y2="1228.1"/>
<line x1="1012.8" y1="1191.5" x2="1012.8" y2="1218.6"/>
<line x1="1026.0" y1="1191.5" x2="1026.0" y2="1211.7"/>
<line x1="1039.2" y1="1191.5" x2="1039.2" y2="1211.0"/>
<line x1="1052.5" y1="1191.5" x2="1052.5" y2="1229.1"/>
<line x1="1065.8" y1="1191.5" x2="1065.8" y2="1222.1"/>
<line x1="1079.0" y1="1191.5" x2="1079.0" y2="1211.0"/>
<line x1="1092.2" y1="1191.5" x2="1092.2" y2="1228.4"/>
<line x1="1105.5" y1="1191.5" x2="1105.5" y2="1215.9"/>
<line x1="1118.8" y1="1191.5" x2="1118.8" y2="1213.4"/>
<line x1="1132.0" y1="1191.5" x2="1132.0" y2="1210.0"/>
<line x1="1145.2" y1="1191.5" x2="1145.2" y2="1215.9"/>
<line x1="1158.5" y1="1191.5" x2="1158.5" y2="1222.1"/>
<line x1="1171.8" y1="1191.5" x2="1171.8" y2="1208.2"/>
<line x1="1185.0" y1="1191.5" x2="1185.0" y2="1226.3"/>
<line x1="1198.2" y1="1191.5" x2="1198.2" y2="1218.6"/>
<line x1="1211.5" y1="1191.5" x2="1211.5" y2="1228.4"/>
<line x1="1224.8" y1="1191.5" x2="1224.8" y2="1229.8"/>
<line x1="1238.0" y1="1191.5" x2="1238.0" y2="1223.9"/>
<line x1="1251.2" y1="1191.5" x2="1251.2" y2="1210.0"/>
<line x1="1264.5" y1="1191.5" x2="1264.5" y2="1212.4"/>
</g>
<path d="M890.2 1279.5 L891.7 1279.0 L893.2 1279.1 L894.7 1279.4 L896.2 1278.6 L897.7 1280.3 L899.2 1280.2 L900.7 1279.9 L902.2 1279.2 L903.7 1279.1 L905.2 1279.7 L906.7 1278.8 L908.2 1280.2 L909.7 1280.3 L911.2 1279.2 L912.7 1279.8 L914.2 1279.3 L915.7 1279.6 L917.2 1279.2 L918.7 1280.4 L920.2 1279.4 L921.7 1280.3 L923.2 1279.2 L924.7 1279.4 L926.2 1279.8 L927.7 1280.0 L929.2 1279.3 L930.7 1280.1 L932.2 1279.1 L933.7 1277.6 L935.2 1279.6 L936.7 1279.1 L938.2 1278.8 L939.7 1279.2 L941.2 1279.8 L942.7 1279.2 L944.2 1279.0 L945.7 1280.3 L947.2 1280.2 L948.7 1278.9 L950.2 1280.2 L951.7 1279.7 L953.2 1279.3 L954.7 1280.2 L956.2 1278.8 L957.7 1280.3 L959.2 1279.7 L960.7 1280.1 L962.2 1279.4 L963.7 1279.9 L965.2 1278.9 L966.7 1279.7 L968.2 1280.1 L969.7 1278.8 L971.2 1280.4 L972.7 1278.9 L974.2 1281.2 L975.7 1279.0 L977.2 1280.2 L978.7 1279.0 L980.2 1279.8 L981.7 1280.0 L983.2 1279.5 L984.7 1279.5 L986.2 1279.6 L987.7 1280.2 L989.2 1279.7 L990.7 1279.6 L992.2 1279.5 L993.7 1280.0 L995.2 1280.5 L996.7 1280.5 L998.2 1280.1 L999.7 1280.2 L1001.2 1278.9 L1002.7 1280.4 L1004.2 1278.9 L1005.7 1280.3 L1007.2 1278.8 L1008.7 1277.4 L1010.2 1280.4 L1011.7 1280.4 L1013.2 1279.8 L1014.7 1279.0 L1016.2 1279.7 L1017.7 1280.2 L1019.2 1279.6 L1020.7 1280.3 L1022.2 1277.8 L1023.7 1280.1 L1025.2 1279.9 L1026.7 1279.1 L1028.2 1279.1 L1029.7 1279.3 L1031.2 1280.3 L1032.7 1279.6 L1034.2 1278.7 L1035.7 1278.8 L1037.2 1279.6 L1038.7 1279.0 L1040.2 1279.2 L1041.7 1280.4 L1043.2 1280.5 L1044.7 1279.5 L1046.2 1279.5 L1047.7 1278.0 L1049.2 1280.3 L1050.7 1281.0 L1052.2 1279.6 L1053.7 1279.6 L1055.2 1279.2 L1056.7 1279.7 L1058.2 1280.1 L1059.7 1279.7 L1061.2 1280.2 L1062.7 1280.1 L1064.2 1280.3 L1065.7 1278.9 L1067.2 1277.2 L1068.7 1280.5 L1070.2 1279.7 L1071.7 1280.3 L1073.2 1280.2 L1074.7 1280.1 L1076.2 1279.0 L1077.7 1281.7 L1079.2 1279.7 L1080.7 1279.5 L1082.2 1280.1 L1083.7 1280.2 L1085.2 1279.8 L1086.7 1280.2 L1088.2 1280.4 L1089.7 1279.9 L1091.2 1279.9 L1092.7 1280.1 L1094.2 1280.0 L1095.7 1280.1 L1097.2 1278.9 L1098.7 1280.2 L1100.2 1279.3 L1101.7 1279.9 L1103.2 1278.9 L1104.7 1279.9 L1106.2 1278.9 L1107.7 1279.0 L1109.2 1278.7 L1110.7 1279.0 L1112.2 1278.7 L1113.7 1280.3 L1115.2 1279.4 L1116.7 1280.4 L1118.2 1280.0 L1119.7 1279.3 L1121.2 1280.0 L1122.7 1280.1 L1124.2 1279.6 L1125.7 1279.3 L1127.2 1279.6 L1128.7 1279.9 L1130.2 1280.4 L1131.7 1279.8 L1133.2 1279.8 L1134.7 1279.8 L1136.2 1279.6 L1137.7 1279.4 L1139.2 1278.9 L1140.7 1280.0 L1142.2 1279.2 L1143.7 1279.2 L1145.2 1278.9 L1146.7 1280.4 L1148.2 1279.2 L1149.7 1280.2 L1151.2 1278.9 L1152.7 1279.5 L1154.2 1278.8 L1155.7 1279.2 L1157.2 1280.0 L1158.7 1280.0 L1160.2 1279.2 L1161.7 1279.2 L1163.2 1279.5 L1164.7 1280.1 L1166.2 1280.4 L1167.7 1279.3 L1169.2 1279.0 L1170.7 1279.3 L1172.2 1281.8 L1173.7 1279.3 L1175.2 1279.6 L1176.7 1279.3 L1178.2 1280.1 L1179.7 1278.7 L1181.2 1279.3 L1182.7 1279.9 L1184.2 1278.8 L1185.7 1278.8 L1187.2 1279.5 L1188.7 1279.3 L1190.2 1279.7 L1191.7 1280.4 L1193.2 1280.3 L1194.7 1279.4 L1196.2 1278.8 L1197.7 1279.1 L1199.2 1280.1 L1200.7 1280.5 L1202.2 1279.5 L1203.7 1280.0 L1205.2 1280.1 L1206.7 1279.4 L1208.2 1278.8 L1209.7 1279.4 L1211.2 1280.4 L1212.7 1279.4 L1214.2 1279.2 L1215.7 1278.4 L1217.2 1280.2 L1218.7 1279.3 L1220.2 1279.9 L1221.7 1279.6 L1223.2 1280.5 L1224.7 1281.7 L1226.2 1280.2 L1227.7 1279.4 L1229.2 1279.8 L1230.7 1280.2 L1232.2 1279.9 L1233.7 1280.2 L1235.2 1279.3 L1236.7 1280.1 L1238.2 1278.9 L1239.7 1279.1 L1241.2 1280.4 L1242.7 1279.9 L1244.2 1279.4 L1245.7 1279.1 L1247.2 1278.8 L1248.7 1279.6 L1250.2 1281.3 L1251.7 1279.1 L1253.2 1279.4 L1254.7 1278.8 L1256.2 1279.0 L1257.7 1278.4 L1259.2 1279.1 L1260.7 1279.8 L1262.2 1279.6 L1263.7 1279.7 L1265.2 1279.2 L1266.7 1279.7 L1268.2 1278.8 L1269.7 1278.0 L1271.2 1279.6 L1272.7 1279.6" stroke="#0000ff" stroke-width="5.00" fill="none"/>
<g stroke="#0000ff" stroke-width="2.7">
<line x1="1044.3" y1="1279.6" x2="1044.3" y2="1255.2"/>
<line x1="1057.5" y1="1279.6" x2="1057.5" y2="1256.3"/>
<line x1="1070.8" y1="1279.6" x2="1070.8" y2="1246.5"/>
<line x1="1084.0" y1="1279.6" x2="1084.0" y2="1243.0"/>
<line x1="1097.3" y1="1279.6" x2="1097.3" y2="1257.6"/>
<line x1="1110.5" y1="1279.6" x2="1110.5" y2="1258.7"/>
<line x1="1123.8" y1="1279.6" x2="1123.8" y2="1241.3"/>
<line x1="1137.0" y1="1279.6" x2="1137.0" y2="1251.7"/>
<line x1="1150.3" y1="1279.6" x2="1150.3" y2="1252.8"/>
<line x1="1163.5" y1="1279.6" x2="1163.5" y2="1246.5"/>
<line x1="1176.8" y1="1279.6" x2="1176.8" y2="1255.2"/>
<line x1="1190.0" y1="1279.6" x2="1190.0" y2="1252.8"/>
<line x1="1203.3" y1="1279.6" x2="1203.3" y2="1244.8"/>
<line x1="1216.5" y1="1279.6" x2="1216.5" y2="1246.5"/>
<line x1="1229.8" y1="1279.6" x2="1229.8" y2="1257.6"/>
<line x1="1243.0" y1="1279.6" x2="1243.0" y2="1247.2"/>
<line x1="1256.3" y1="1279.6" x2="1256.3" y2="1250.0"/>
<line x1="1269.5" y1="1279.6" x2="1269.5" y2="1246.5"/>
<line x1="1031.0" y1="1279.6" x2="1031.0" y2="1259.6"/>
<line x1="1017.8" y1="1279.6" x2="1017.8" y2="1259.6"/>
<line x1="1004.5" y1="1279.6" x2="1004.5" y2="1259.6"/>
<line x1="991.3" y1="1279.6" x2="991.3" y2="1259.6"/>
<line x1="978.0" y1="1279.6" x2="978.0" y2="1259.6"/>
<line x1="964.8" y1="1279.6" x2="964.8" y2="1259.6"/>
<line x1="951.5" y1="1279.6" x2="951.5" y2="1259.6"/>
<line x1="938.3" y1="1279.6" x2="938.3" y2="1259.6"/>
<line x1="925.0" y1="1279.6" x2="925.0" y2="1259.6"/>
<line x1="911.8" y1="1279.6" x2="911.8" y2="1259.6"/>
<line x1="898.5" y1="1279.6" x2="898.5" y2="1259.6"/>
<line x1="893.5" y1="1279.6" x2="893.5" y2="1313.4"/>
<line x1="906.8" y1="1279.6" x2="906.8" y2="1299.4"/>
<line x1="920.0" y1="1279.6" x2="920.0" y2="1306.4"/>
<line x1="933.2" y1="1279.6" x2="933.2" y2="1314.4"/>
<line x1="946.5" y1="1279.6" x2="946.5" y2="1319.6"/>
<line x1="959.8" y1="1279.6" x2="959.8" y2="1316.8"/>
<line x1="973.0" y1="1279.6" x2="973.0" y2="1313.4"/>
<line x1="986.2" y1="1279.6" x2="986.2" y2="1301.5"/>
<line x1="999.5" y1="1279.6" x2="999.5" y2="1315.4"/>
<line x1="1012.8" y1="1279.6" x2="1012.8" y2="1320.3"/>
<line x1="1026.0" y1="1279.6" x2="1026.0" y2="1308.5"/>
<line x1="1039.2" y1="1279.6" x2="1039.2" y2="1298.7"/>
<line x1="1052.5" y1="1279.6" x2="1052.5" y2="1315.4"/>
<line x1="1065.8" y1="1279.6" x2="1065.8" y2="1308.5"/>
<line x1="1079.0" y1="1279.6" x2="1079.0" y2="1301.5"/>
<line x1="1092.2" y1="1279.6" x2="1092.2" y2="1315.4"/>
<line x1="1105.5" y1="1279.6" x2="1105.5" y2="1305.7"/>
<line x1="1118.8" y1="1279.6" x2="1118.8" y2="1316.1"/>
<line x1="1132.0" y1="1279.6" x2="1132.0" y2="1323.1"/>
<line x1="1145.2" y1="1279.6" x2="1145.2" y2="1312.7"/>
<line x1="1158.5" y1="1279.6" x2="1158.5" y2="1305.0"/>
<line x1="1171.8" y1="1279.6" x2="1171.8" y2="1300.5"/>
<line x1="1185.0" y1="1279.6" x2="1185.0" y2="1316.1"/>
<line x1="1198.2" y1="1279.6" x2="1198.2" y2="1298.7"/>
<line x1="1211.5" y1="1279.6" x2="1211.5" y2="1313.4"/>
<line x1="1224.8" y1="1279.6" x2="1224.8" y2="1308.5"/>
<line x1="1238.0" y1="1279.6" x2="1238.0" y2="1302.9"/>
<line x1="1251.2" y1="1279.6" x2="1251.2" y2="1317.9"/>
<line x1="1264.5" y1="1279.6" x2="1264.5" y2="1315.4"/>
</g>
<g stroke="#000" stroke-width="1.5" fill="none">
<rect x="851.7" y="715.1" width="462.1" height="608.8"/>
<line x1="851.70" y1="802.00" x2="1313.80" y2="802.00" stroke="#000" stroke-width="1.50"/>
<line x1="851.70" y1="889.20" x2="1313.80" y2="889.20" stroke="#000" stroke-width="1.50"/>
<line x1="851.70" y1="976.70" x2="1313.80" y2="976.70" stroke="#000" stroke-width="1.50"/>
<line x1="851.70" y1="1063.00" x2="1313.80" y2="1063.00" stroke="#000" stroke-width="1.50"/>
<line x1="851.70" y1="1150.30" x2="1313.80" y2="1150.30" stroke="#000" stroke-width="1.50"/>
<line x1="851.70" y1="1236.40" x2="1313.80" y2="1236.40" stroke="#000" stroke-width="1.50"/>
<line x1="851.70" y1="728.20" x2="859.70" y2="728.20" stroke="#000" stroke-width="1.50"/>
<line x1="1313.80" y1="728.20" x2="1305.80" y2="728.20" stroke="#000" stroke-width="1.50"/>
<line x1="851.70" y1="742.30" x2="855.70" y2="742.30" stroke="#000" stroke-width="1.50"/>
<line x1="1313.80" y1="742.30" x2="1309.80" y2="742.30" stroke="#000" stroke-width="1.50"/>
<line x1="851.70" y1="756.40" x2="859.70" y2="756.40" stroke="#000" stroke-width="1.50"/>
<line x1="1313.80" y1="756.40" x2="1305.80" y2="756.40" stroke="#000" stroke-width="1.50"/>
<line x1="851.70" y1="770.50" x2="855.70" y2="770.50" stroke="#000" stroke-width="1.50"/>
<line x1="1313.80" y1="770.50" x2="1309.80" y2="770.50" stroke="#000" stroke-width="1.50"/>
<line x1="851.70" y1="784.60" x2="859.70" y2="784.60" stroke="#000" stroke-width="1.50"/>
<line x1="1313.80" y1="784.60" x2="1305.80" y2="784.60" stroke="#000" stroke-width="1.50"/>
<line x1="851.70" y1="798.70" x2="855.70" y2="798.70" stroke="#000" stroke-width="1.50"/>
<line x1="1313.80" y1="798.70" x2="1309.80" y2="798.70" stroke="#000" stroke-width="1.50"/>
<line x1="890.20" y1="802.00" x2="890.20" y2="794.00" stroke="#000" stroke-width="1.50"/>
<line x1="890.20" y1="715.10" x2="890.20" y2="723.10" stroke="#000" stroke-width="1.50"/>
<line x1="954.15" y1="802.00" x2="954.15" y2="797.00" stroke="#000" stroke-width="1.50"/>
<line x1="954.15" y1="715.10" x2="954.15" y2="720.10" stroke="#000" stroke-width="1.50"/>
<line x1="1018.10" y1="802.00" x2="1018.10" y2="794.00" stroke="#000" stroke-width="1.50"/>
<line x1="1018.10" y1="715.10" x2="1018.10" y2="723.10" stroke="#000" stroke-width="1.50"/>
<line x1="1082.05" y1="802.00" x2="1082.05" y2="797.00" stroke="#000" stroke-width="1.50"/>
<line x1="1082.05" y1="715.10" x2="1082.05" y2="720.10" stroke="#000" stroke-width="1.50"/>
<line x1="1146.00" y1="802.00" x2="1146.00" y2="794.00" stroke="#000" stroke-width="1.50"/>
<line x1="1146.00" y1="715.10" x2="1146.00" y2="723.10" stroke="#000" stroke-width="1.50"/>
<line x1="1209.95" y1="802.00" x2="1209.95" y2="797.00" stroke="#000" stroke-width="1.50"/>
<line x1="1209.95" y1="715.10" x2="1209.95" y2="720.10" stroke="#000" stroke-width="1.50"/>
<line x1="1273.90" y1="802.00" x2="1273.90" y2="794.00" stroke="#000" stroke-width="1.50"/>
<line x1="1273.90" y1="715.10" x2="1273.90" y2="723.10" stroke="#000" stroke-width="1.50"/>
<line x1="851.70" y1="815.10" x2="859.70" y2="815.10" stroke="#000" stroke-width="1.50"/>
<line x1="1313.80" y1="815.10" x2="1305.80" y2="815.10" stroke="#000" stroke-width="1.50"/>
<line x1="851.70" y1="829.20" x2="855.70" y2="829.20" stroke="#000" stroke-width="1.50"/>
<line x1="1313.80" y1="829.20" x2="1309.80" y2="829.20" stroke="#000" stroke-width="1.50"/>
<line x1="851.70" y1="843.30" x2="859.70" y2="843.30" stroke="#000" stroke-width="1.50"/>
<line x1="1313.80" y1="843.30" x2="1305.80" y2="843.30" stroke="#000" stroke-width="1.50"/>
<line x1="851.70" y1="857.40" x2="855.70" y2="857.40" stroke="#000" stroke-width="1.50"/>
<line x1="1313.80" y1="857.40" x2="1309.80" y2="857.40" stroke="#000" stroke-width="1.50"/>
<line x1="851.70" y1="871.50" x2="859.70" y2="871.50" stroke="#000" stroke-width="1.50"/>
<line x1="1313.80" y1="871.50" x2="1305.80" y2="871.50" stroke="#000" stroke-width="1.50"/>
<line x1="851.70" y1="885.60" x2="855.70" y2="885.60" stroke="#000" stroke-width="1.50"/>
<line x1="1313.80" y1="885.60" x2="1309.80" y2="885.60" stroke="#000" stroke-width="1.50"/>
<line x1="890.20" y1="889.20" x2="890.20" y2="881.20" stroke="#000" stroke-width="1.50"/>
<line x1="954.15" y1="889.20" x2="954.15" y2="884.20" stroke="#000" stroke-width="1.50"/>
<line x1="1018.10" y1="889.20" x2="1018.10" y2="881.20" stroke="#000" stroke-width="1.50"/>
<line x1="1082.05" y1="889.20" x2="1082.05" y2="884.20" stroke="#000" stroke-width="1.50"/>
<line x1="1146.00" y1="889.20" x2="1146.00" y2="881.20" stroke="#000" stroke-width="1.50"/>
<line x1="1209.95" y1="889.20" x2="1209.95" y2="884.20" stroke="#000" stroke-width="1.50"/>
<line x1="1273.90" y1="889.20" x2="1273.90" y2="881.20" stroke="#000" stroke-width="1.50"/>
<line x1="851.70" y1="902.30" x2="859.70" y2="902.30" stroke="#000" stroke-width="1.50"/>
<line x1="1313.80" y1="902.30" x2="1305.80" y2="902.30" stroke="#000" stroke-width="1.50"/>
<line x1="851.70" y1="916.40" x2="855.70" y2="916.40" stroke="#000" stroke-width="1.50"/>
<line x1="1313.80" y1="916.40" x2="1309.80" y2="916.40" stroke="#000" stroke-width="1.50"/>
<line x1="851.70" y1="930.50" x2="859.70" y2="930.50" stroke="#000" stroke-width="1.50"/>
<line x1="1313.80" y1="930.50" x2="1305.80" y2="930.50" stroke="#000" stroke-width="1.50"/>
<line x1="851.70" y1="944.60" x2="855.70" y2="944.60" stroke="#000" stroke-width="1.50"/>
<line x1="1313.80" y1="944.60" x2="1309.80" y2="944.60" stroke="#000" stroke-width="1.50"/>
<line x1="851.70" y1="958.70" x2="859.70" y2="958.70" stroke="#000" stroke-width="1.50"/>
<line x1="1313.80" y1="958.70" x2="1305.80" y2="958.70" stroke="#000" stroke-width="1.50"/>
<line x1="851.70" y1="972.80" x2="855.70" y2="972.80" stroke="#000" stroke-width="1.50"/>
<line x1="1313.80" y1="972.80" x2="1309.80" y2="972.80" stroke="#000" stroke-width="1.50"/>
<line x1="890.20" y1="976.70" x2="890.20" y2="968.70" stroke="#000" stroke-width="1.50"/>
<line x1="954.15" y1="976.70" x2="954.15" y2="971.70" stroke="#000" stroke-width="1.50"/>
<line x1="1018.10" y1="976.70" x2="1018.10" y2="968.70" stroke="#000" stroke-width="1.50"/>
<line x1="1082.05" y1="976.70" x2="1082.05" y2="971.70" stroke="#000" stroke-width="1.50"/>
<line x1="1146.00" y1="976.70" x2="1146.00" y2="968.70" stroke="#000" stroke-width="1.50"/>
<line x1="1209.95" y1="976.70" x2="1209.95" y2="971.70" stroke="#000" stroke-width="1.50"/>
<line x1="1273.90" y1="976.70" x2="1273.90" y2="968.70" stroke="#000" stroke-width="1.50"/>
<line x1="851.70" y1="989.80" x2="859.70" y2="989.80" stroke="#000" stroke-width="1.50"/>
<line x1="1313.80" y1="989.80" x2="1305.80" y2="989.80" stroke="#000" stroke-width="1.50"/>
<line x1="851.70" y1="1003.90" x2="855.70" y2="1003.90" stroke="#000" stroke-width="1.50"/>
<line x1="1313.80" y1="1003.90" x2="1309.80" y2="1003.90" stroke="#000" stroke-width="1.50"/>
<line x1="851.70" y1="1018.00" x2="859.70" y2="1018.00" stroke="#000" stroke-width="1.50"/>
<line x1="1313.80" y1="1018.00" x2="1305.80" y2="1018.00" stroke="#000" stroke-width="1.50"/>
<line x1="851.70" y1="1032.10" x2="855.70" y2="1032.10" stroke="#000" stroke-width="1.50"/>
<line x1="1313.80" y1="1032.10" x2="1309.80" y2="1032.10" stroke="#000" stroke-width="1.50"/>
<line x1="851.70" y1="1046.20" x2="859.70" y2="1046.20" stroke="#000" stroke-width="1.50"/>
<line x1="1313.80" y1="1046.20" x2="1305.80" y2="1046.20" stroke="#000" stroke-width="1.50"/>
<line x1="851.70" y1="1060.30" x2="855.70" y2="1060.30" stroke="#000" stroke-width="1.50"/>
<line x1="1313.80" y1="1060.30" x2="1309.80" y2="1060.30" stroke="#000" stroke-width="1.50"/>
<line x1="890.20" y1="1063.00" x2="890.20" y2="1055.00" stroke="#000" stroke-width="1.50"/>
<line x1="954.15" y1="1063.00" x2="954.15" y2="1058.00" stroke="#000" stroke-width="1.50"/>
<line x1="1018.10" y1="1063.00" x2="1018.10" y2="1055.00" stroke="#000" stroke-width="1.50"/>
<line x1="1082.05" y1="1063.00" x2="1082.05" y2="1058.00" stroke="#000" stroke-width="1.50"/>
<line x1="1146.00" y1="1063.00" x2="1146.00" y2="1055.00" stroke="#000" stroke-width="1.50"/>
<line x1="1209.95" y1="1063.00" x2="1209.95" y2="1058.00" stroke="#000" stroke-width="1.50"/>
<line x1="1273.90" y1="1063.00" x2="1273.90" y2="1055.00" stroke="#000" stroke-width="1.50"/>
<line x1="851.70" y1="1076.10" x2="859.70" y2="1076.10" stroke="#000" stroke-width="1.50"/>
<line x1="1313.80" y1="1076.10" x2="1305.80" y2="1076.10" stroke="#000" stroke-width="1.50"/>
<line x1="851.70" y1="1090.20" x2="855.70" y2="1090.20" stroke="#000" stroke-width="1.50"/>
<line x1="1313.80" y1="1090.20" x2="1309.80" y2="1090.20" stroke="#000" stroke-width="1.50"/>
<line x1="851.70" y1="1104.30" x2="859.70" y2="1104.30" stroke="#000" stroke-width="1.50"/>
<line x1="1313.80" y1="1104.30" x2="1305.80" y2="1104.30" stroke="#000" stroke-width="1.50"/>
<line x1="851.70" y1="1118.40" x2="855.70" y2="1118.40" stroke="#000" stroke-width="1.50"/>
<line x1="1313.80" y1="1118.40" x2="1309.80" y2="1118.40" stroke="#000" stroke-width="1.50"/>
<line x1="851.70" y1="1132.50" x2="859.70" y2="1132.50" stroke="#000" stroke-width="1.50"/>
<line x1="1313.80" y1="1132.50" x2="1305.80" y2="1132.50" stroke="#000" stroke-width="1.50"/>
<line x1="851.70" y1="1146.60" x2="855.70" y2="1146.60" stroke="#000" stroke-width="1.50"/>
<line x1="1313.80" y1="1146.60" x2="1309.80" y2="1146.60" stroke="#000" stroke-width="1.50"/>
<line x1="890.20" y1="1150.30" x2="890.20" y2="1142.30" stroke="#000" stroke-width="1.50"/>
<line x1="954.15" y1="1150.30" x2="954.15" y2="1145.30" stroke="#000" stroke-width="1.50"/>
<line x1="1018.10" y1="1150.30" x2="1018.10" y2="1142.30" stroke="#000" stroke-width="1.50"/>
<line x1="1082.05" y1="1150.30" x2="1082.05" y2="1145.30" stroke="#000" stroke-width="1.50"/>
<line x1="1146.00" y1="1150.30" x2="1146.00" y2="1142.30" stroke="#000" stroke-width="1.50"/>
<line x1="1209.95" y1="1150.30" x2="1209.95" y2="1145.30" stroke="#000" stroke-width="1.50"/>
<line x1="1273.90" y1="1150.30" x2="1273.90" y2="1142.30" stroke="#000" stroke-width="1.50"/>
<line x1="851.70" y1="1163.40" x2="859.70" y2="1163.40" stroke="#000" stroke-width="1.50"/>
<line x1="1313.80" y1="1163.40" x2="1305.80" y2="1163.40" stroke="#000" stroke-width="1.50"/>
<line x1="851.70" y1="1177.50" x2="855.70" y2="1177.50" stroke="#000" stroke-width="1.50"/>
<line x1="1313.80" y1="1177.50" x2="1309.80" y2="1177.50" stroke="#000" stroke-width="1.50"/>
<line x1="851.70" y1="1191.60" x2="859.70" y2="1191.60" stroke="#000" stroke-width="1.50"/>
<line x1="1313.80" y1="1191.60" x2="1305.80" y2="1191.60" stroke="#000" stroke-width="1.50"/>
<line x1="851.70" y1="1205.70" x2="855.70" y2="1205.70" stroke="#000" stroke-width="1.50"/>
<line x1="1313.80" y1="1205.70" x2="1309.80" y2="1205.70" stroke="#000" stroke-width="1.50"/>
<line x1="851.70" y1="1219.80" x2="859.70" y2="1219.80" stroke="#000" stroke-width="1.50"/>
<line x1="1313.80" y1="1219.80" x2="1305.80" y2="1219.80" stroke="#000" stroke-width="1.50"/>
<line x1="851.70" y1="1233.90" x2="855.70" y2="1233.90" stroke="#000" stroke-width="1.50"/>
<line x1="1313.80" y1="1233.90" x2="1309.80" y2="1233.90" stroke="#000" stroke-width="1.50"/>
<line x1="890.20" y1="1236.40" x2="890.20" y2="1228.40" stroke="#000" stroke-width="1.50"/>
<line x1="954.15" y1="1236.40" x2="954.15" y2="1231.40" stroke="#000" stroke-width="1.50"/>
<line x1="1018.10" y1="1236.40" x2="1018.10" y2="1228.40" stroke="#000" stroke-width="1.50"/>
<line x1="1082.05" y1="1236.40" x2="1082.05" y2="1231.40" stroke="#000" stroke-width="1.50"/>
<line x1="1146.00" y1="1236.40" x2="1146.00" y2="1228.40" stroke="#000" stroke-width="1.50"/>
<line x1="1209.95" y1="1236.40" x2="1209.95" y2="1231.40" stroke="#000" stroke-width="1.50"/>
<line x1="1273.90" y1="1236.40" x2="1273.90" y2="1228.40" stroke="#000" stroke-width="1.50"/>
<line x1="851.70" y1="1249.50" x2="859.70" y2="1249.50" stroke="#000" stroke-width="1.50"/>
<line x1="1313.80" y1="1249.50" x2="1305.80" y2="1249.50" stroke="#000" stroke-width="1.50"/>
<line x1="851.70" y1="1263.60" x2="855.70" y2="1263.60" stroke="#000" stroke-width="1.50"/>
<line x1="1313.80" y1="1263.60" x2="1309.80" y2="1263.60" stroke="#000" stroke-width="1.50"/>
<line x1="851.70" y1="1277.70" x2="859.70" y2="1277.70" stroke="#000" stroke-width="1.50"/>
<line x1="1313.80" y1="1277.70" x2="1305.80" y2="1277.70" stroke="#000" stroke-width="1.50"/>
<line x1="851.70" y1="1291.80" x2="855.70" y2="1291.80" stroke="#000" stroke-width="1.50"/>
<line x1="1313.80" y1="1291.80" x2="1309.80" y2="1291.80" stroke="#000" stroke-width="1.50"/>
<line x1="851.70" y1="1305.90" x2="859.70" y2="1305.90" stroke="#000" stroke-width="1.50"/>
<line x1="1313.80" y1="1305.90" x2="1305.80" y2="1305.90" stroke="#000" stroke-width="1.50"/>
<line x1="851.70" y1="1320.00" x2="855.70" y2="1320.00" stroke="#000" stroke-width="1.50"/>
<line x1="1313.80" y1="1320.00" x2="1309.80" y2="1320.00" stroke="#000" stroke-width="1.50"/>
<line x1="890.20" y1="1323.90" x2="890.20" y2="1315.90" stroke="#000" stroke-width="1.50"/>
<line x1="954.15" y1="1323.90" x2="954.15" y2="1318.90" stroke="#000" stroke-width="1.50"/>
<line x1="1018.10" y1="1323.90" x2="1018.10" y2="1315.90" stroke="#000" stroke-width="1.50"/>
<line x1="1082.05" y1="1323.90" x2="1082.05" y2="1318.90" stroke="#000" stroke-width="1.50"/>
<line x1="1146.00" y1="1323.90" x2="1146.00" y2="1315.90" stroke="#000" stroke-width="1.50"/>
<line x1="1209.95" y1="1323.90" x2="1209.95" y2="1318.90" stroke="#000" stroke-width="1.50"/>
<line x1="1273.90" y1="1323.90" x2="1273.90" y2="1315.90" stroke="#000" stroke-width="1.50"/>
</g>
<rect x="851.7" y="715.1" width="181.7" height="44.2" fill="#fff" stroke="#000" stroke-width="1.6"/>
<line x1="865.50" y1="739.10" x2="945.00" y2="739.10" stroke="#808080" stroke-width="2.40"/>
<text transform="translate(953.59,750.77) scale(1.0232,1)" font-size="33.62" font-weight="normal" fill="#000">99%</text>
<rect x="851.7" y="802.0" width="181.7" height="44.2" fill="#fff" stroke="#000" stroke-width="1.6"/>
<line x1="865.50" y1="826.00" x2="945.00" y2="826.00" stroke="#00ff00" stroke-width="2.40"/>
<text transform="translate(953.59,837.67) scale(1.0232,1)" font-size="33.62" font-weight="normal" fill="#000">90%</text>
<rect x="851.7" y="889.2" width="181.7" height="44.2" fill="#fff" stroke="#000" stroke-width="1.6"/>
<line x1="865.50" y1="913.20" x2="945.00" y2="913.20" stroke="#808000" stroke-width="2.40"/>
<text transform="translate(953.43,924.87) scale(1.0255,1)" font-size="33.62" font-weight="normal" fill="#000">70%</text>
<rect x="851.7" y="976.7" width="181.7" height="44.2" fill="#fff" stroke="#000" stroke-width="1.6"/>
<line x1="865.50" y1="1000.70" x2="945.00" y2="1000.70" stroke="#ff8000" stroke-width="2.40"/>
<text transform="translate(953.83,1012.37) scale(1.0195,1)" font-size="33.62" font-weight="normal" fill="#000">56%</text>
<rect x="851.7" y="1063.0" width="181.7" height="44.2" fill="#fff" stroke="#000" stroke-width="1.6"/>
<line x1="865.50" y1="1087.00" x2="945.00" y2="1087.00" stroke="#800000" stroke-width="2.40"/>
<text transform="translate(954.42,1098.80) scale(1.0050,1)" font-size="33.80" font-weight="normal" fill="#000">42%</text>
<rect x="851.7" y="1150.3" width="181.7" height="44.2" fill="#fff" stroke="#000" stroke-width="1.6"/>
<line x1="865.50" y1="1174.30" x2="945.00" y2="1174.30" stroke="#ff00ff" stroke-width="2.40"/>
<text transform="translate(953.90,1185.97) scale(1.0185,1)" font-size="33.62" font-weight="normal" fill="#000">33%</text>
<rect x="851.7" y="1233.7" width="181.7" height="44.2" fill="#fff" stroke="#000" stroke-width="1.6"/>
<line x1="865.50" y1="1257.70" x2="945.00" y2="1257.70" stroke="#0000ff" stroke-width="2.40"/>
<text transform="translate(953.47,1269.37) scale(1.0250,1)" font-size="33.62" font-weight="normal" fill="#000">20%</text>
<text transform="translate(808.76,725.95) scale(1.1940,1)" font-size="20.20" font-weight="bold" fill="#000">20</text>
<text transform="translate(821.93,759.25) scale(1.2180,1)" font-size="20.20" font-weight="bold" fill="#000">0</text>
<text transform="translate(800.04,790.90) scale(1.1774,1)" font-size="20.90" font-weight="bold" fill="#000">-20</text>
<text transform="translate(808.76,815.65) scale(1.1940,1)" font-size="20.20" font-weight="bold" fill="#000">20</text>
<text transform="translate(821.93,848.85) scale(1.2180,1)" font-size="20.20" font-weight="bold" fill="#000">0</text>
<text transform="translate(800.04,880.60) scale(1.1774,1)" font-size="20.90" font-weight="bold" fill="#000">-20</text>
<text transform="translate(808.76,903.75) scale(1.1940,1)" font-size="20.20" font-weight="bold" fill="#000">20</text>
<text transform="translate(821.93,935.95) scale(1.2180,1)" font-size="20.20" font-weight="bold" fill="#000">0</text>
<text transform="translate(800.04,967.90) scale(1.1774,1)" font-size="20.90" font-weight="bold" fill="#000">-20</text>
<text transform="translate(808.76,994.25) scale(1.1940,1)" font-size="20.20" font-weight="bold" fill="#000">20</text>
<text transform="translate(821.93,1024.25) scale(1.2180,1)" font-size="20.20" font-weight="bold" fill="#000">0</text>
<text transform="translate(800.04,1056.70) scale(1.1774,1)" font-size="20.90" font-weight="bold" fill="#000">-20</text>
<text transform="translate(808.76,1076.75) scale(1.1940,1)" font-size="20.20" font-weight="bold" fill="#000">20</text>
<text transform="translate(821.93,1109.65) scale(1.2180,1)" font-size="20.20" font-weight="bold" fill="#000">0</text>
<text transform="translate(800.04,1143.70) scale(1.1774,1)" font-size="20.90" font-weight="bold" fill="#000">-20</text>
<text transform="translate(808.76,1164.65) scale(1.1940,1)" font-size="20.20" font-weight="bold" fill="#000">20</text>
<text transform="translate(821.93,1196.75) scale(1.2180,1)" font-size="20.20" font-weight="bold" fill="#000">0</text>
<text transform="translate(800.04,1229.50) scale(1.1774,1)" font-size="20.90" font-weight="bold" fill="#000">-20</text>
<text transform="translate(808.76,1254.65) scale(1.1940,1)" font-size="20.20" font-weight="bold" fill="#000">20</text>
<text transform="translate(821.93,1285.55) scale(1.2180,1)" font-size="20.20" font-weight="bold" fill="#000">0</text>
<text transform="translate(800.04,1320.40) scale(1.1774,1)" font-size="20.90" font-weight="bold" fill="#000">-20</text>
<text transform="translate(881.55,698.71) scale(0.9230,1)" font-size="29.24" font-weight="normal" fill="#000">0</text>
<text transform="translate(1009.87,698.71) scale(0.9527,1)" font-size="29.67" font-weight="normal" fill="#000">5</text>
<text transform="translate(1130.61,698.71) scale(0.9365,1)" font-size="29.24" font-weight="normal" fill="#000">10</text>
<text transform="translate(1258.66,698.71) scale(0.9019,1)" font-size="29.67" font-weight="normal" fill="#000">15</text>
<text transform="translate(883.83,1353.33) scale(0.9132,1)" font-size="27.26" font-weight="normal" fill="#000">0</text>
<text transform="translate(1012.31,1353.33) scale(0.9837,1)" font-size="27.66" font-weight="normal" fill="#000">5</text>
<text transform="translate(1132.09,1353.33) scale(1.0155,1)" font-size="27.26" font-weight="normal" fill="#000">10</text>
<text transform="translate(1260.69,1353.33) scale(1.0037,1)" font-size="27.66" font-weight="normal" fill="#000">15</text>
<text transform="translate(1039.58,1407.62) scale(1.1797,1)" font-size="30.81" font-weight="normal" fill="#000">T (s)</text>
<text transform="translate(731.69,731.60) scale(0.8513,1)" font-size="51.29" font-weight="bold" fill="#000">c</text>
<text transform="translate(782.40,1039.05) rotate(-90) scale(1.2039,1)" font-size="41.86" font-weight="normal" fill="#000">I</text>
<text transform="translate(792.22,1027.14) rotate(-90) scale(0.8093,1)" font-size="28.39" font-weight="normal" fill="#000">SC</text>
<text transform="translate(781.51,986.32) rotate(-90) scale(0.9533,1)" font-size="44.31" font-weight="normal" fill="#000">(µA)</text>
<path d="M540.0 1618.7 C540.9 1619.9 544.0 1626.1 545.3 1626.0 C546.5 1625.9 546.9 1622.3 547.5 1618.0 C548.1 1613.7 548.4 1607.2 549.0 1600.0 C549.6 1592.8 550.4 1582.5 551.0 1575.0 C551.6 1567.5 552.0 1563.8 552.7 1555.0 C553.4 1546.2 554.3 1532.5 555.0 1522.0 C555.7 1511.5 556.3 1499.3 556.8 1492.0 C557.3 1484.7 557.6 1480.8 558.0 1478.0 C558.4 1475.2 558.9 1475.2 559.3 1475.5 C559.7 1475.8 560.2 1475.4 560.6 1480.0 C561.0 1484.6 561.3 1495.0 561.7 1503.0 C562.1 1511.0 562.7 1519.3 563.2 1528.0 C563.8 1536.7 564.4 1546.3 565.0 1555.0 C565.6 1563.7 566.4 1572.5 567.0 1580.0 C567.6 1587.5 567.9 1593.8 568.5 1600.0 C569.1 1606.2 569.6 1614.2 570.6 1617.0 C571.6 1619.8 574.0 1617.1 574.7 1617.1 L578.0 1627.5 L539.5 1627.5 Z" fill="#30c3f2"/>
<path d="M122.0 1635.5 C122.2 1635.5 122.1 1635.8 123.2 1635.7 C124.3 1635.7 127.0 1636.1 128.6 1635.2 C130.2 1634.3 131.1 1630.2 132.9 1630.4 C134.7 1630.6 137.4 1637.3 139.4 1636.3 C141.4 1635.3 143.0 1625.5 144.8 1624.4 C146.6 1623.3 148.1 1630.0 150.1 1629.8 C152.1 1629.6 154.9 1623.9 156.6 1623.4 C158.2 1622.9 158.9 1624.8 160.0 1627.0 C161.1 1629.2 162.1 1633.5 163.0 1636.3 C163.9 1639.1 164.8 1641.0 165.5 1644.0 C166.2 1647.0 166.7 1647.4 167.4 1654.6 C168.1 1661.8 169.0 1676.1 169.5 1686.9 C170.0 1697.7 170.1 1708.4 170.4 1719.2 C170.7 1730.0 170.9 1741.5 171.2 1751.5 C171.5 1761.5 171.8 1774.8 172.3 1779.5 C172.8 1784.2 173.5 1782.4 174.0 1779.5 C174.5 1776.6 174.8 1769.2 175.2 1762.0 C175.6 1754.8 175.9 1744.9 176.3 1736.0 C176.7 1727.1 177.1 1718.4 177.6 1708.4 C178.1 1698.4 178.7 1687.2 179.2 1676.1 C179.7 1665.0 179.9 1648.9 180.8 1641.7 C181.7 1634.5 183.2 1634.7 184.6 1633.1 C185.9 1631.5 187.3 1634.9 188.9 1632.0 C190.5 1629.1 192.6 1618.3 194.3 1615.8 C196.0 1613.3 197.4 1617.2 199.0 1617.0 C200.6 1616.8 202.3 1613.6 204.0 1614.8 C205.7 1616.0 207.9 1622.1 209.3 1624.0 C210.8 1625.9 211.5 1626.1 212.7 1626.0 C213.9 1625.9 215.3 1622.3 216.7 1623.3 C218.1 1624.3 220.1 1630.2 221.3 1632.0 C222.5 1633.8 223.0 1635.5 224.0 1634.0 C225.0 1632.5 226.2 1625.0 227.3 1622.7 C228.4 1620.4 229.5 1619.9 230.7 1620.0 C231.9 1620.1 233.1 1623.6 234.7 1623.3 C236.2 1623.0 238.4 1617.9 240.0 1618.0 C241.6 1618.1 242.7 1621.7 244.0 1624.0 C245.3 1626.3 246.4 1631.5 248.0 1632.0 C249.6 1632.5 251.5 1627.0 253.3 1626.7 C255.1 1626.4 257.1 1630.5 258.7 1630.0 C260.3 1629.5 261.6 1626.0 262.7 1624.0 C263.8 1622.0 264.2 1618.2 265.3 1618.0 C266.4 1617.8 267.7 1622.2 269.3 1622.7 C270.9 1623.2 272.9 1621.0 274.7 1621.3 C276.5 1621.6 278.4 1623.4 280.0 1624.7 C281.6 1626.0 282.7 1629.5 284.0 1629.3 C285.3 1629.1 286.4 1622.8 288.0 1623.3 C289.6 1623.8 291.5 1632.2 293.3 1632.0 C295.1 1631.8 296.9 1623.1 298.7 1622.0 C300.5 1620.9 302.2 1624.5 304.0 1625.3 C305.8 1626.1 307.8 1627.6 309.3 1626.7 C310.9 1625.8 312.0 1620.2 313.3 1620.0 C314.6 1619.8 315.5 1625.5 317.3 1625.3 C319.1 1625.1 321.8 1618.5 324.0 1618.7 C326.2 1618.9 328.7 1625.8 330.7 1626.7 C332.7 1627.6 334.2 1623.0 336.0 1624.0 C337.8 1625.0 339.8 1632.2 341.3 1632.7 C342.9 1633.2 344.0 1629.2 345.3 1626.7 C346.6 1624.2 347.7 1618.9 349.3 1618.0 C350.9 1617.1 352.9 1621.0 354.7 1621.3 C356.5 1621.6 358.0 1618.0 360.0 1620.0 C362.0 1622.0 364.9 1632.6 366.7 1633.3 C368.5 1634.0 369.1 1626.2 370.7 1624.0 C372.2 1621.8 374.4 1620.2 376.0 1620.0 C377.6 1619.8 378.7 1623.4 380.0 1622.7 C381.3 1622.0 382.7 1616.5 384.0 1616.0 C385.3 1615.5 386.3 1620.3 388.0 1620.0 C389.7 1619.7 392.2 1613.5 394.0 1614.0 C395.8 1614.5 397.2 1620.5 398.7 1623.3 C400.1 1626.1 401.4 1631.1 402.7 1630.7 C404.0 1630.3 405.1 1621.4 406.7 1620.7 C408.2 1620.0 410.0 1627.6 412.0 1626.7 C414.0 1625.8 416.7 1615.8 418.7 1615.3 C420.7 1614.8 422.0 1623.9 424.0 1624.0 C426.0 1624.1 428.7 1616.5 430.7 1616.0 C432.7 1615.5 434.0 1621.1 436.0 1621.3 C438.0 1621.5 440.5 1615.8 442.7 1617.3 C444.9 1618.8 447.1 1628.9 449.3 1630.0 C451.5 1631.1 453.8 1623.3 456.0 1624.0 C458.2 1624.7 460.7 1634.9 462.7 1634.0 C464.7 1633.1 466.2 1620.6 468.0 1618.7 C469.8 1616.8 471.5 1622.9 473.3 1622.7 C475.1 1622.5 476.7 1616.0 478.7 1617.3 C480.7 1618.6 483.1 1629.6 485.3 1630.7 C487.5 1631.8 490.0 1624.7 492.0 1624.0 C494.0 1623.3 495.3 1627.5 497.3 1626.7 C499.3 1625.9 502.0 1619.9 504.0 1619.3 C506.0 1618.7 507.8 1623.6 509.3 1623.3 C510.9 1623.0 511.3 1615.7 513.3 1617.3 C515.3 1618.9 518.8 1632.0 521.3 1632.7 C523.8 1633.4 526.0 1622.9 528.0 1621.3 C530.0 1619.7 531.3 1623.7 533.3 1623.3 C535.3 1622.9 538.0 1618.2 540.0 1618.7 C542.0 1619.2 544.0 1626.1 545.3 1626.0 C546.5 1625.9 546.9 1622.3 547.5 1618.0 C548.1 1613.7 548.4 1607.2 549.0 1600.0 C549.6 1592.8 550.4 1582.5 551.0 1575.0 C551.6 1567.5 552.0 1563.8 552.7 1555.0 C553.4 1546.2 554.3 1532.5 555.0 1522.0 C555.7 1511.5 556.3 1499.3 556.8 1492.0 C557.3 1484.7 557.6 1480.8 558.0 1478.0 C558.4 1475.2 558.9 1475.2 559.3 1475.5 C559.7 1475.8 560.2 1475.4 560.6 1480.0 C561.0 1484.6 561.3 1495.0 561.7 1503.0 C562.1 1511.0 562.7 1519.3 563.2 1528.0 C563.8 1536.7 564.4 1546.3 565.0 1555.0 C565.6 1563.7 566.4 1572.5 567.0 1580.0 C567.6 1587.5 567.9 1593.8 568.5 1600.0 C569.1 1606.2 569.6 1614.2 570.6 1617.0 C571.6 1619.8 573.4 1616.0 574.7 1617.1 C576.1 1618.2 577.5 1621.8 578.7 1623.6 C579.9 1625.4 580.6 1628.1 582.0 1627.7 C583.4 1627.3 585.1 1621.3 586.9 1621.2 C588.7 1621.1 590.7 1626.9 592.6 1626.9 C594.5 1626.9 596.4 1620.0 598.3 1621.2 C600.2 1622.4 602.0 1633.1 604.0 1634.2 C606.0 1635.3 608.3 1627.8 610.5 1627.7 C612.7 1627.6 615.0 1634.1 617.0 1633.4 C619.0 1632.7 621.0 1624.1 622.8 1623.6 C624.6 1623.1 625.9 1629.9 627.6 1630.2 C629.4 1630.5 631.1 1624.8 633.3 1625.3 C635.5 1625.8 638.5 1633.1 640.7 1633.4 C642.9 1633.7 644.5 1626.9 646.4 1626.9 C648.3 1626.9 650.2 1634.4 652.1 1633.4 C654.0 1632.5 656.6 1623.4 657.8 1621.2 C658.9 1619.0 658.8 1620.2 659.0 1620.0" stroke="#ff0000" stroke-width="5.20" fill="none" stroke-linejoin="round"/>
<line x1="539.00" y1="1627.00" x2="578.00" y2="1627.00" stroke="#30c3f2" stroke-width="2.60"/>
<line x1="152.40" y1="1520.40" x2="152.40" y2="1801.00" stroke="#548235" stroke-width="3.40" stroke-dasharray="13.9 12.74"/>
<line x1="195.20" y1="1520.40" x2="195.20" y2="1801.00" stroke="#548235" stroke-width="3.40" stroke-dasharray="13.9 12.74"/>
<line x1="539.80" y1="1471.10" x2="539.80" y2="1751.60" stroke="#548235" stroke-width="3.40" stroke-dasharray="13.9 12.74"/>
<line x1="579.10" y1="1471.10" x2="579.10" y2="1751.60" stroke="#548235" stroke-width="3.40" stroke-dasharray="13.9 12.74"/>
<line x1="158.02" y1="1508.40" x2="194.08" y2="1508.40" stroke="#548235" stroke-width="3.70"/>
<path d="M149.3 1508.4 L160.2 1503.0 L160.2 1513.8 Z" fill="#548235"/>
<path d="M202.8 1508.4 L191.9 1503.0 L191.9 1513.8 Z" fill="#548235"/>
<line x1="214.68" y1="1592.20" x2="521.82" y2="1592.20" stroke="#548235" stroke-width="3.80"/>
<path d="M206.2 1592.2 L216.8 1586.8 L216.8 1597.6 Z" fill="#548235"/>
<path d="M530.3 1592.2 L519.7 1586.8 L519.7 1597.6 Z" fill="#548235"/>
<line x1="549.04" y1="1774.40" x2="573.56" y2="1774.40" stroke="#548235" stroke-width="3.80"/>
<path d="M540.4 1774.4 L551.2 1769.0 L551.2 1779.8 Z" fill="#548235"/>
<path d="M582.2 1774.4 L571.4 1769.0 L571.4 1779.8 Z" fill="#548235"/>
<text transform="translate(133.13,1485.37) scale(0.9864,1)" font-size="25.63" font-weight="bold" fill="#548235">pressing</text>
<text transform="translate(279.82,1578.37) scale(0.9401,1)" font-size="27.14" font-weight="bold" fill="#548235">pressed</text>
<text transform="translate(512.08,1804.86) scale(1.0372,1)" font-size="25.20" font-weight="bold" fill="#548235">releasing</text>
<path d="M559.1 1629.8 C 558.5 1648, 549 1658, 530.8 1662.8 C 511 1667, 494 1675, 489.5 1691" stroke="#1fb4ec" stroke-width="3.80" fill="none" stroke-linecap="round"/>
<path d="M486.3 1703.5 L480.6 1688.0 L489.0 1691.0 L497.4 1692.6 Z" fill="#1fb4ec"/>
<text transform="translate(453.52,1741.40) scale(1.0723,1)" font-size="42.68" font-weight="bold" fill="#1fb4ec">Q</text>
<text transform="translate(486.79,1749.40) scale(0.9111,1)" font-size="26.45" font-weight="bold" fill="#1fb4ec">R</text>
<g stroke="#000" fill="none">
<line x1="122.20" y1="1406.50" x2="122.20" y2="1835.50" stroke="#000" stroke-width="2.00"/>
<line x1="117.00" y1="1834.60" x2="659.50" y2="1834.60" stroke="#000" stroke-width="2.00"/>
<line x1="116.40" y1="1407.30" x2="659.50" y2="1407.30" stroke="#000" stroke-width="1.40"/>
<line x1="658.80" y1="1406.60" x2="658.80" y2="1835.50" stroke="#000" stroke-width="1.60"/>
<line x1="113.20" y1="1450.10" x2="122.20" y2="1450.10" stroke="#000" stroke-width="2.00"/>
<line x1="113.20" y1="1535.55" x2="122.20" y2="1535.55" stroke="#000" stroke-width="2.00"/>
<line x1="113.20" y1="1621.00" x2="122.20" y2="1621.00" stroke="#000" stroke-width="2.00"/>
<line x1="113.20" y1="1706.45" x2="122.20" y2="1706.45" stroke="#000" stroke-width="2.00"/>
<line x1="113.20" y1="1791.90" x2="122.20" y2="1791.90" stroke="#000" stroke-width="2.00"/>
<line x1="116.40" y1="1492.83" x2="122.20" y2="1492.83" stroke="#000" stroke-width="1.60"/>
<line x1="116.40" y1="1578.28" x2="122.20" y2="1578.28" stroke="#000" stroke-width="1.60"/>
<line x1="116.40" y1="1663.72" x2="122.20" y2="1663.72" stroke="#000" stroke-width="1.60"/>
<line x1="116.40" y1="1749.17" x2="122.20" y2="1749.17" stroke="#000" stroke-width="1.60"/>
<line x1="122.20" y1="1834.60" x2="122.20" y2="1845.60" stroke="#000" stroke-width="2.00"/>
<line x1="221.45" y1="1834.60" x2="221.45" y2="1840.60" stroke="#000" stroke-width="2.00"/>
<line x1="320.70" y1="1834.60" x2="320.70" y2="1845.60" stroke="#000" stroke-width="2.00"/>
<line x1="419.95" y1="1834.60" x2="419.95" y2="1840.60" stroke="#000" stroke-width="2.00"/>
<line x1="519.20" y1="1834.60" x2="519.20" y2="1845.60" stroke="#000" stroke-width="2.00"/>
<line x1="618.45" y1="1834.60" x2="618.45" y2="1840.60" stroke="#000" stroke-width="2.00"/>
</g>
<text transform="translate(68.05,1458.07) scale(0.9843,1)" font-size="33.62" font-weight="bold" fill="#000">20</text>
<text transform="translate(68.76,1543.52) scale(0.9648,1)" font-size="33.62" font-weight="bold" fill="#000">10</text>
<text transform="translate(87.04,1628.97) scale(0.9508,1)" font-size="33.62" font-weight="bold" fill="#000">0</text>
<text transform="translate(57.21,1714.42) scale(0.9805,1)" font-size="33.62" font-weight="bold" fill="#000">-10</text>
<text transform="translate(57.21,1799.87) scale(0.9805,1)" font-size="33.62" font-weight="bold" fill="#000">-20</text>
<text transform="translate(113.10,1877.47) scale(0.9717,1)" font-size="33.76" font-weight="bold" fill="#000">0</text>
<text transform="translate(295.95,1875.27) scale(0.9261,1)" font-size="34.04" font-weight="bold" fill="#000">0.1</text>
<text transform="translate(494.74,1875.07) scale(1.0237,1)" font-size="33.62" font-weight="bold" fill="#000">0.2</text>
<text transform="translate(342.28,1925.61) scale(1.2278,1)" font-size="37.55" font-weight="bold" fill="#000">T (s)</text>
<text transform="translate(19.28,1459.49) scale(0.9842,1)" font-size="52.43" font-weight="bold" fill="#000">d</text>
<text transform="translate(31.80,1706.46) rotate(-90) scale(0.8583,1)" font-size="46.22" font-weight="normal" fill="#000">I</text>
<text transform="translate(50.42,1693.45) rotate(-90) scale(0.9616,1)" font-size="28.67" font-weight="normal" fill="#000">SC</text>
<text transform="translate(31.54,1641.77) rotate(-90) scale(0.9990,1)" font-size="43.53" font-weight="bold" fill="#000">(µA)</text>
<rect x="823.5" y="1424.8" width="522.4" height="428.3" fill="none" stroke="#000" stroke-width="1.8"/>
<line x1="815.10" y1="1853.00" x2="823.50" y2="1853.00" stroke="#000" stroke-width="1.80"/>
<line x1="815.10" y1="1738.64" x2="823.50" y2="1738.64" stroke="#000" stroke-width="1.80"/>
<line x1="815.10" y1="1624.28" x2="823.50" y2="1624.28" stroke="#000" stroke-width="1.80"/>
<line x1="815.10" y1="1509.92" x2="823.50" y2="1509.92" stroke="#000" stroke-width="1.80"/>
<line x1="819.20" y1="1795.82" x2="823.50" y2="1795.82" stroke="#000" stroke-width="1.50"/>
<line x1="819.20" y1="1681.46" x2="823.50" y2="1681.46" stroke="#000" stroke-width="1.50"/>
<line x1="819.20" y1="1567.10" x2="823.50" y2="1567.10" stroke="#000" stroke-width="1.50"/>
<line x1="819.20" y1="1452.74" x2="823.50" y2="1452.74" stroke="#000" stroke-width="1.50"/>
<line x1="879.10" y1="1853.00" x2="879.10" y2="1862.00" stroke="#000" stroke-width="1.80"/>
<line x1="988.91" y1="1853.00" x2="988.91" y2="1862.00" stroke="#000" stroke-width="1.80"/>
<line x1="1098.71" y1="1853.00" x2="1098.71" y2="1862.00" stroke="#000" stroke-width="1.80"/>
<line x1="1208.52" y1="1853.00" x2="1208.52" y2="1862.00" stroke="#000" stroke-width="1.80"/>
<line x1="1318.32" y1="1853.00" x2="1318.32" y2="1862.00" stroke="#000" stroke-width="1.80"/>
<line x1="824.20" y1="1853.00" x2="824.20" y2="1857.30" stroke="#000" stroke-width="1.50"/>
<line x1="934.00" y1="1853.00" x2="934.00" y2="1857.30" stroke="#000" stroke-width="1.50"/>
<line x1="1043.81" y1="1853.00" x2="1043.81" y2="1857.30" stroke="#000" stroke-width="1.50"/>
<line x1="1153.62" y1="1853.00" x2="1153.62" y2="1857.30" stroke="#000" stroke-width="1.50"/>
<line x1="1263.42" y1="1853.00" x2="1263.42" y2="1857.30" stroke="#000" stroke-width="1.50"/>
<line x1="870.10" y1="1432.20" x2="1242.30" y2="1634.70" stroke="#e02030" stroke-width="1.70" stroke-dasharray="2.4 1.3"/>
<line x1="1240.30" y1="1643.00" x2="1310.00" y2="1797.00" stroke="#e02030" stroke-width="1.70" stroke-dasharray="2.4 1.3"/>
<rect x="880.19" y="1442.62" width="8.80" height="8.80" fill="#000"/>
<rect x="946.07" y="1471.21" width="8.80" height="8.80" fill="#000"/>
<rect x="995.49" y="1505.52" width="8.80" height="8.80" fill="#000"/>
<rect x="1039.41" y="1528.39" width="8.80" height="8.80" fill="#000"/>
<rect x="1072.35" y="1551.26" width="8.80" height="8.80" fill="#000"/>
<rect x="1110.78" y="1562.70" width="8.80" height="8.80" fill="#000"/>
<rect x="1149.21" y="1579.85" width="8.80" height="8.80" fill="#000"/>
<rect x="1204.12" y="1608.44" width="8.80" height="8.80" fill="#000"/>
<rect x="1237.06" y="1642.75" width="8.80" height="8.80" fill="#000"/>
<rect x="1259.02" y="1699.93" width="8.80" height="8.80" fill="#000"/>
<rect x="1270.00" y="1722.80" width="8.80" height="8.80" fill="#000"/>
<rect x="1291.96" y="1751.39" width="8.80" height="8.80" fill="#000"/>
<rect x="1302.94" y="1791.42" width="8.80" height="8.80" fill="#000"/>
<text transform="translate(771.50,1519.18) scale(0.9430,1)" font-size="34.75" font-weight="bold" fill="#000">60</text>
<text transform="translate(772.21,1633.54) scale(0.9238,1)" font-size="34.75" font-weight="bold" fill="#000">40</text>
<text transform="translate(771.57,1747.90) scale(0.9412,1)" font-size="34.75" font-weight="bold" fill="#000">20</text>
<text transform="translate(789.82,1860.67) scale(0.9633,1)" font-size="33.62" font-weight="bold" fill="#000">0</text>
<text transform="translate(859.75,1892.57) scale(0.9831,1)" font-size="33.76" font-weight="bold" fill="#000">20</text>
<text transform="translate(970.21,1892.57) scale(0.9649,1)" font-size="33.76" font-weight="bold" fill="#000">40</text>
<text transform="translate(1079.29,1892.57) scale(0.9849,1)" font-size="33.76" font-weight="bold" fill="#000">60</text>
<text transform="translate(1189.27,1892.57) scale(0.9803,1)" font-size="33.76" font-weight="bold" fill="#000">80</text>
<text transform="translate(1289.87,1892.57) scale(1.0017,1)" font-size="33.76" font-weight="bold" fill="#000">100</text>
<text transform="translate(1007.46,1949.20) scale(1.0077,1)" font-size="46.50" font-weight="normal" fill="#000">RH(%)</text>
<text transform="translate(719.81,1460.56) scale(0.9628,1)" font-size="55.49" font-weight="bold" fill="#000">e</text>
<text transform="translate(733.86,1735.86) rotate(-90) scale(0.9314,1)" font-size="48.92" font-weight="normal" fill="#000">Q</text>
<text transform="translate(752.30,1698.98) rotate(-90) scale(0.9326,1)" font-size="29.80" font-weight="normal" fill="#000">R</text>
<text transform="translate(733.61,1666.48) rotate(-90) scale(0.9931,1)" font-size="46.80" font-weight="normal" fill="#000">(nC)</text>
</svg>
</body></html>
